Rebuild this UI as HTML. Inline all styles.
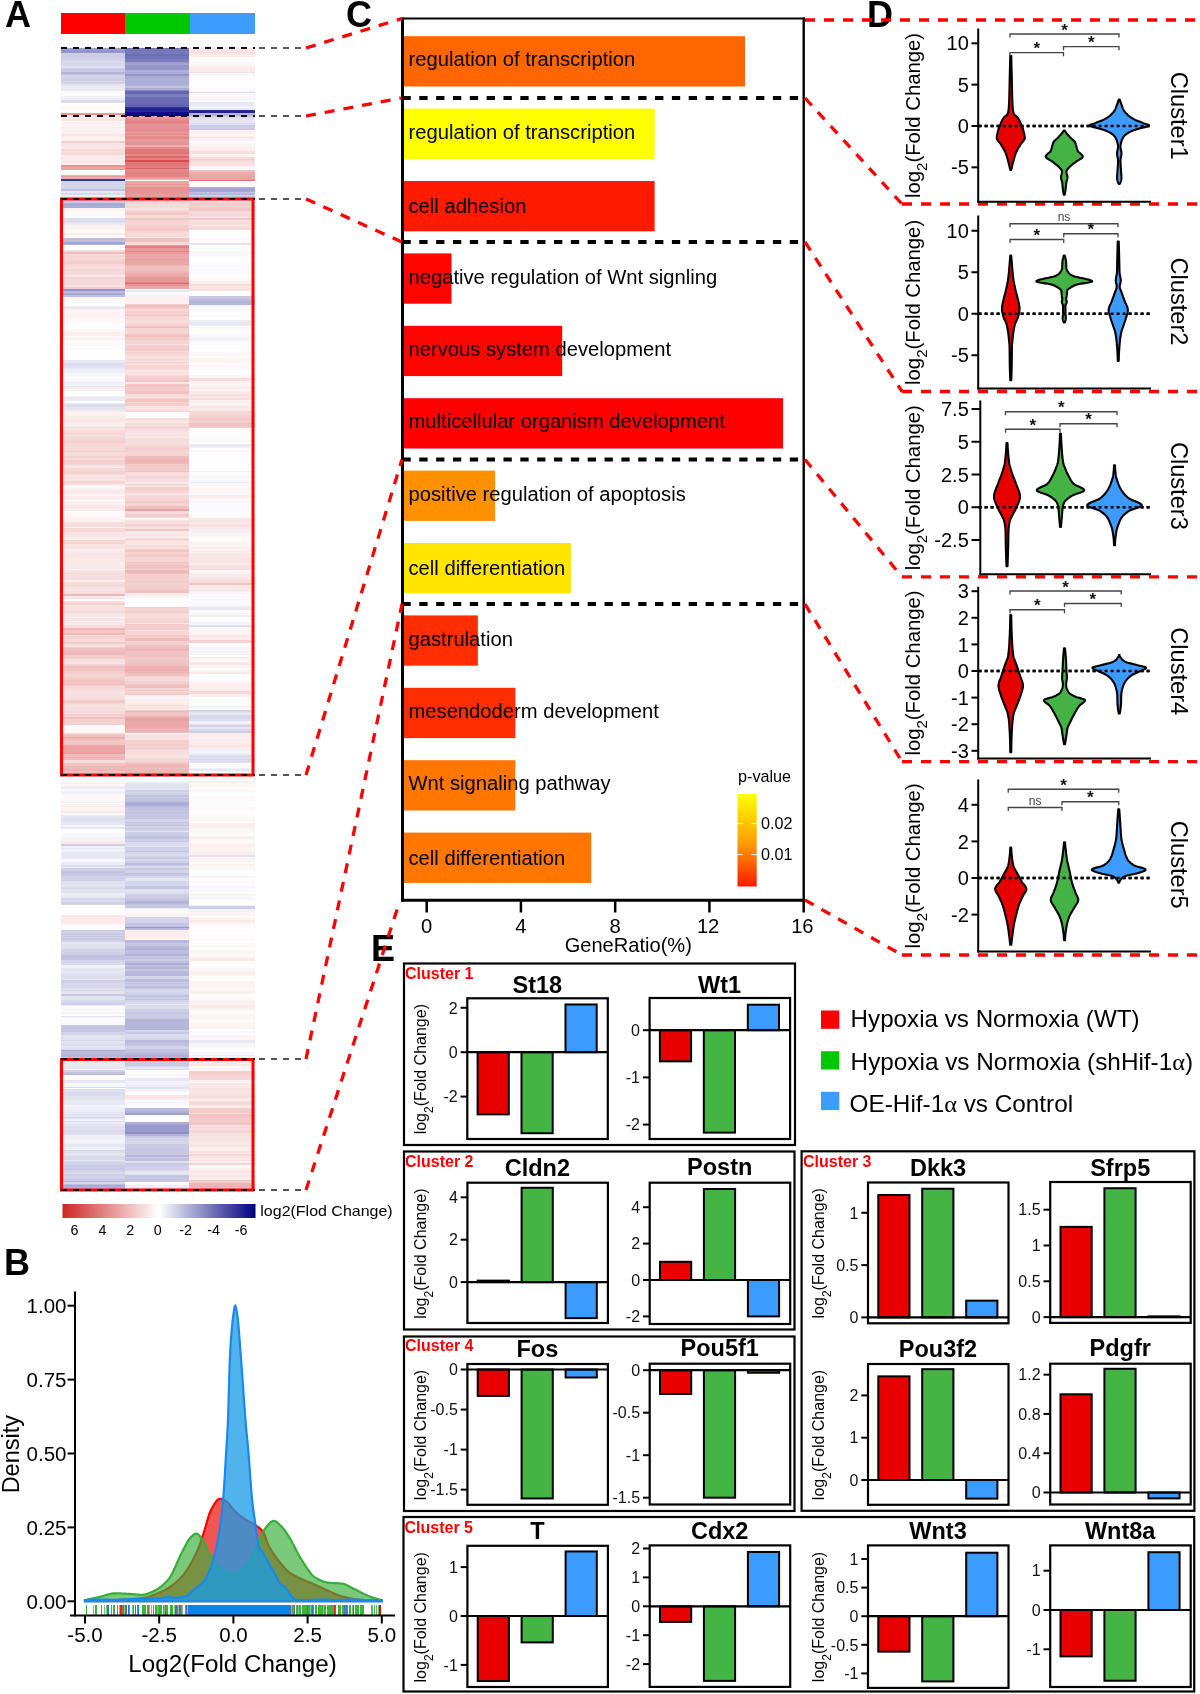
<!DOCTYPE html>
<html><head><meta charset="utf-8"><style>
html,body{margin:0;padding:0;background:#fff;}
svg{display:block;font-family:"Liberation Sans",sans-serif;will-change:transform;}
</style></head><body>
<svg width="1200" height="1694" viewBox="0 0 1200 1694">
<rect width="1200" height="1694" fill="#fff"/>
<g shape-rendering="crispEdges">
<rect x="61" y="48" width="64" height="2" fill="#9f9fcf"/>
<rect x="61" y="50" width="64" height="3" fill="#9595ca"/>
<rect x="61" y="53" width="64" height="3" fill="#cccce6"/>
<rect x="61" y="56" width="64" height="2" fill="#cbcbe5"/>
<rect x="61" y="58" width="64" height="1" fill="#d0d0e7"/>
<rect x="61" y="59" width="64" height="1" fill="#cfcfe7"/>
<rect x="61" y="60" width="64" height="2" fill="#d6d6ea"/>
<rect x="61" y="62" width="64" height="1" fill="#dadaed"/>
<rect x="61" y="63" width="64" height="1" fill="#d4d4ea"/>
<rect x="61" y="64" width="64" height="2" fill="#d8d8ec"/>
<rect x="61" y="66" width="64" height="1" fill="#dfdfef"/>
<rect x="61" y="67" width="64" height="1" fill="#e1e1f0"/>
<rect x="61" y="68" width="64" height="1" fill="#cdcde6"/>
<rect x="61" y="69" width="64" height="3" fill="#c8c8e4"/>
<rect x="61" y="72" width="64" height="2" fill="#b4b4da"/>
<rect x="61" y="74" width="64" height="1" fill="#c4c4e2"/>
<rect x="61" y="75" width="64" height="1" fill="#d0d0e8"/>
<rect x="61" y="76" width="64" height="2" fill="#d4d4ea"/>
<rect x="61" y="78" width="64" height="2" fill="#cfcfe7"/>
<rect x="61" y="80" width="64" height="1" fill="#cdcde6"/>
<rect x="61" y="81" width="64" height="1" fill="#d8d8ec"/>
<rect x="61" y="82" width="64" height="1" fill="#d0d0e8"/>
<rect x="61" y="83" width="64" height="1" fill="#d5d5ea"/>
<rect x="61" y="84" width="64" height="2" fill="#e4e4f1"/>
<rect x="61" y="86" width="64" height="3" fill="#eaeaf4"/>
<rect x="61" y="89" width="64" height="2" fill="#e9e9f4"/>
<rect x="61" y="91" width="64" height="1" fill="#f9f9fc"/>
<rect x="61" y="92" width="64" height="2" fill="#fafafd"/>
<rect x="61" y="94" width="64" height="2" fill="#fdfdfe"/>
<rect x="61" y="96" width="64" height="2" fill="#f2f2f9"/>
<rect x="61" y="98" width="64" height="1" fill="#ececf5"/>
<rect x="61" y="99" width="64" height="1" fill="#eeeef6"/>
<rect x="61" y="100" width="64" height="2" fill="#dbdbed"/>
<rect x="61" y="102" width="64" height="1" fill="#dedeee"/>
<rect x="61" y="103" width="64" height="3" fill="#fffefe"/>
<rect x="61" y="106" width="64" height="2" fill="#fef9f9"/>
<rect x="61" y="108" width="64" height="1" fill="#fef9f9"/>
<rect x="61" y="109" width="64" height="1" fill="#fefbfb"/>
<rect x="61" y="110" width="64" height="3" fill="#fefbfb"/>
<rect x="61" y="113" width="64" height="2" fill="#e79595"/>
<rect x="61" y="115" width="64" height="3" fill="#f9e7e7"/>
<rect x="61" y="118" width="64" height="3" fill="#f9e5e5"/>
<rect x="61" y="121" width="64" height="1" fill="#fdf7f7"/>
<rect x="61" y="122" width="64" height="3" fill="#fbefef"/>
<rect x="61" y="125" width="64" height="2" fill="#fdf5f5"/>
<rect x="61" y="127" width="64" height="1" fill="#fbecec"/>
<rect x="61" y="128" width="64" height="1" fill="#fbf0f0"/>
<rect x="61" y="129" width="64" height="1" fill="#f6f6fb"/>
<rect x="61" y="130" width="64" height="2" fill="#fbefef"/>
<rect x="61" y="132" width="64" height="2" fill="#fcf0f0"/>
<rect x="61" y="134" width="64" height="2" fill="#f9e4e4"/>
<rect x="61" y="136" width="64" height="1" fill="#faeaea"/>
<rect x="61" y="137" width="64" height="2" fill="#fcf2f2"/>
<rect x="61" y="139" width="64" height="2" fill="#fbefef"/>
<rect x="61" y="141" width="64" height="2" fill="#f4cfcf"/>
<rect x="61" y="143" width="64" height="3" fill="#f9e4e4"/>
<rect x="61" y="146" width="64" height="3" fill="#f9e6e6"/>
<rect x="61" y="149" width="64" height="2" fill="#f6d8d8"/>
<rect x="61" y="151" width="64" height="1" fill="#f8dfdf"/>
<rect x="61" y="152" width="64" height="3" fill="#f7dbdb"/>
<rect x="61" y="155" width="64" height="1" fill="#fae8e8"/>
<rect x="61" y="156" width="64" height="1" fill="#fbeeee"/>
<rect x="61" y="157" width="64" height="2" fill="#fae9e9"/>
<rect x="61" y="159" width="64" height="2" fill="#faebeb"/>
<rect x="61" y="161" width="64" height="1" fill="#f9e4e4"/>
<rect x="61" y="162" width="64" height="3" fill="#fbecec"/>
<rect x="61" y="165" width="64" height="2" fill="#e69393"/>
<rect x="61" y="167" width="64" height="2" fill="#eaa5a5"/>
<rect x="61" y="169" width="64" height="1" fill="#e89c9c"/>
<rect x="61" y="170" width="64" height="3" fill="#fffdfd"/>
<rect x="61" y="173" width="64" height="2" fill="#fdf8f8"/>
<rect x="61" y="175" width="64" height="1" fill="#edb1b1"/>
<rect x="61" y="176" width="64" height="1" fill="#e89d9d"/>
<rect x="61" y="177" width="64" height="2" fill="#ecacac"/>
<rect x="61" y="179" width="64" height="2" fill="#38389c"/>
<rect x="61" y="181" width="64" height="2" fill="#d3d3e9"/>
<rect x="61" y="183" width="64" height="1" fill="#d5d5ea"/>
<rect x="61" y="184" width="64" height="1" fill="#d1d1e8"/>
<rect x="61" y="185" width="64" height="2" fill="#d7d7eb"/>
<rect x="61" y="187" width="64" height="2" fill="#d3d3e9"/>
<rect x="61" y="189" width="64" height="2" fill="#bfbfdf"/>
<rect x="61" y="191" width="64" height="1" fill="#e6e6f3"/>
<rect x="61" y="192" width="64" height="1" fill="#e5e5f2"/>
<rect x="61" y="193" width="64" height="2" fill="#dbdbed"/>
<rect x="61" y="195" width="64" height="3" fill="#faebeb"/>
<rect x="61" y="198" width="64" height="1" fill="#f8e0e0"/>
<rect x="61" y="199" width="64" height="2" fill="#d9d9ec"/>
<rect x="61" y="201" width="64" height="2" fill="#c9c9e4"/>
<rect x="61" y="203" width="64" height="3" fill="#a9a9d4"/>
<rect x="61" y="206" width="64" height="2" fill="#acacd6"/>
<rect x="61" y="208" width="64" height="3" fill="#fcf1f1"/>
<rect x="61" y="211" width="64" height="2" fill="#fdf8f8"/>
<rect x="61" y="213" width="64" height="1" fill="#fcfcfd"/>
<rect x="61" y="214" width="64" height="3" fill="#f9f9fc"/>
<rect x="61" y="217" width="64" height="1" fill="#fcfcfe"/>
<rect x="61" y="218" width="64" height="1" fill="#dcdcee"/>
<rect x="61" y="219" width="64" height="3" fill="#dbdbed"/>
<rect x="61" y="222" width="64" height="1" fill="#ddddee"/>
<rect x="61" y="223" width="64" height="2" fill="#eaeaf5"/>
<rect x="61" y="225" width="64" height="2" fill="#fcf1f1"/>
<rect x="61" y="227" width="64" height="3" fill="#fcf0f0"/>
<rect x="61" y="230" width="64" height="3" fill="#fefafa"/>
<rect x="61" y="233" width="64" height="2" fill="#faebeb"/>
<rect x="61" y="235" width="64" height="2" fill="#fdf6f6"/>
<rect x="61" y="237" width="64" height="1" fill="#fefbfb"/>
<rect x="61" y="238" width="64" height="2" fill="#b9b9dc"/>
<rect x="61" y="240" width="64" height="2" fill="#bdbdde"/>
<rect x="61" y="242" width="64" height="2" fill="#a2a2d1"/>
<rect x="61" y="244" width="64" height="1" fill="#b2b2d9"/>
<rect x="61" y="245" width="64" height="2" fill="#fefefe"/>
<rect x="61" y="247" width="64" height="1" fill="#fefbfb"/>
<rect x="61" y="248" width="64" height="2" fill="#fffdfd"/>
<rect x="61" y="250" width="64" height="2" fill="#f6d9d9"/>
<rect x="61" y="252" width="64" height="2" fill="#f0bdbd"/>
<rect x="61" y="254" width="64" height="1" fill="#f8dfdf"/>
<rect x="61" y="255" width="64" height="1" fill="#f5d6d6"/>
<rect x="61" y="256" width="64" height="1" fill="#f5d3d3"/>
<rect x="61" y="257" width="64" height="1" fill="#f6d7d7"/>
<rect x="61" y="258" width="64" height="1" fill="#f6d8d8"/>
<rect x="61" y="259" width="64" height="2" fill="#f5d4d4"/>
<rect x="61" y="261" width="64" height="3" fill="#f3cdcd"/>
<rect x="61" y="264" width="64" height="1" fill="#f6d7d7"/>
<rect x="61" y="265" width="64" height="1" fill="#f7dbdb"/>
<rect x="61" y="266" width="64" height="1" fill="#f6d9d9"/>
<rect x="61" y="267" width="64" height="1" fill="#f7dede"/>
<rect x="61" y="268" width="64" height="1" fill="#f8e0e0"/>
<rect x="61" y="269" width="64" height="2" fill="#f5d5d5"/>
<rect x="61" y="271" width="64" height="3" fill="#f6d7d7"/>
<rect x="61" y="274" width="64" height="1" fill="#f7dddd"/>
<rect x="61" y="275" width="64" height="2" fill="#fae7e7"/>
<rect x="61" y="277" width="64" height="1" fill="#f5d3d3"/>
<rect x="61" y="278" width="64" height="1" fill="#f6d7d7"/>
<rect x="61" y="279" width="64" height="3" fill="#f6d8d8"/>
<rect x="61" y="282" width="64" height="2" fill="#f7dbdb"/>
<rect x="61" y="284" width="64" height="1" fill="#f6d8d8"/>
<rect x="61" y="285" width="64" height="2" fill="#f8e1e1"/>
<rect x="61" y="287" width="64" height="2" fill="#f3cdcd"/>
<rect x="61" y="289" width="64" height="2" fill="#9393c9"/>
<rect x="61" y="291" width="64" height="2" fill="#babadd"/>
<rect x="61" y="293" width="64" height="1" fill="#afafd7"/>
<rect x="61" y="294" width="64" height="1" fill="#a1a1d0"/>
<rect x="61" y="295" width="64" height="1" fill="#c4c4e2"/>
<rect x="61" y="296" width="64" height="1" fill="#bcbcdd"/>
<rect x="61" y="297" width="64" height="2" fill="#fdf5f5"/>
<rect x="61" y="299" width="64" height="2" fill="#fdf8f8"/>
<rect x="61" y="301" width="64" height="1" fill="#fffdfd"/>
<rect x="61" y="302" width="64" height="2" fill="#fef9f9"/>
<rect x="61" y="304" width="64" height="2" fill="#fdfdfe"/>
<rect x="61" y="306" width="64" height="1" fill="#ededf6"/>
<rect x="61" y="307" width="64" height="2" fill="#e7e7f3"/>
<rect x="61" y="309" width="64" height="1" fill="#fcf2f2"/>
<rect x="61" y="310" width="64" height="1" fill="#fcf3f3"/>
<rect x="61" y="311" width="64" height="3" fill="#fcf3f3"/>
<rect x="61" y="314" width="64" height="1" fill="#fcf4f4"/>
<rect x="61" y="315" width="64" height="3" fill="#fcf2f2"/>
<rect x="61" y="318" width="64" height="3" fill="#fdf7f7"/>
<rect x="61" y="321" width="64" height="2" fill="#fdf8f8"/>
<rect x="61" y="323" width="64" height="3" fill="#ffffff"/>
<rect x="61" y="326" width="64" height="1" fill="#fdf6f6"/>
<rect x="61" y="327" width="64" height="2" fill="#fdfdfe"/>
<rect x="61" y="329" width="64" height="3" fill="#fdf6f6"/>
<rect x="61" y="332" width="64" height="1" fill="#fbefef"/>
<rect x="61" y="333" width="64" height="3" fill="#fbeeee"/>
<rect x="61" y="336" width="64" height="1" fill="#fefcfc"/>
<rect x="61" y="337" width="64" height="1" fill="#fdf5f5"/>
<rect x="61" y="338" width="64" height="2" fill="#fcf0f0"/>
<rect x="61" y="340" width="64" height="1" fill="#fefafa"/>
<rect x="61" y="341" width="64" height="1" fill="#fefefe"/>
<rect x="61" y="342" width="64" height="1" fill="#fefcfc"/>
<rect x="61" y="343" width="64" height="3" fill="#fbfbfd"/>
<rect x="61" y="346" width="64" height="2" fill="#fffdfd"/>
<rect x="61" y="348" width="64" height="1" fill="#fdf7f7"/>
<rect x="61" y="349" width="64" height="2" fill="#fdfdfe"/>
<rect x="61" y="351" width="64" height="2" fill="#fffdfd"/>
<rect x="61" y="353" width="64" height="3" fill="#ffffff"/>
<rect x="61" y="356" width="64" height="2" fill="#fefeff"/>
<rect x="61" y="358" width="64" height="2" fill="#fefeff"/>
<rect x="61" y="360" width="64" height="2" fill="#e8e8f4"/>
<rect x="61" y="362" width="64" height="1" fill="#e7e7f3"/>
<rect x="61" y="363" width="64" height="3" fill="#dedeef"/>
<rect x="61" y="366" width="64" height="2" fill="#e1e1f0"/>
<rect x="61" y="368" width="64" height="1" fill="#e8e8f4"/>
<rect x="61" y="369" width="64" height="1" fill="#ededf6"/>
<rect x="61" y="370" width="64" height="3" fill="#eeeef6"/>
<rect x="61" y="373" width="64" height="2" fill="#f7f7fb"/>
<rect x="61" y="375" width="64" height="1" fill="#f4f4fa"/>
<rect x="61" y="376" width="64" height="1" fill="#f9f9fc"/>
<rect x="61" y="377" width="64" height="1" fill="#fefeff"/>
<rect x="61" y="378" width="64" height="2" fill="#f8f8fb"/>
<rect x="61" y="380" width="64" height="2" fill="#f6f6fa"/>
<rect x="61" y="382" width="64" height="2" fill="#eeeef6"/>
<rect x="61" y="384" width="64" height="2" fill="#f1f1f8"/>
<rect x="61" y="386" width="64" height="1" fill="#e8e8f3"/>
<rect x="61" y="387" width="64" height="2" fill="#fbecec"/>
<rect x="61" y="389" width="64" height="1" fill="#fdf7f7"/>
<rect x="61" y="390" width="64" height="1" fill="#eeeef7"/>
<rect x="61" y="391" width="64" height="3" fill="#fffefe"/>
<rect x="61" y="394" width="64" height="1" fill="#fefdfd"/>
<rect x="61" y="395" width="64" height="1" fill="#fdfdfe"/>
<rect x="61" y="396" width="64" height="1" fill="#f0f0f8"/>
<rect x="61" y="397" width="64" height="2" fill="#e9e9f4"/>
<rect x="61" y="399" width="64" height="2" fill="#eaeaf5"/>
<rect x="61" y="401" width="64" height="2" fill="#fdfdfe"/>
<rect x="61" y="403" width="64" height="1" fill="#ececf5"/>
<rect x="61" y="404" width="64" height="1" fill="#dedeef"/>
<rect x="61" y="405" width="64" height="2" fill="#dadaed"/>
<rect x="61" y="407" width="64" height="3" fill="#e3e3f1"/>
<rect x="61" y="410" width="64" height="2" fill="#faeaea"/>
<rect x="61" y="412" width="64" height="2" fill="#fcf2f2"/>
<rect x="61" y="414" width="64" height="2" fill="#fbefef"/>
<rect x="61" y="416" width="64" height="1" fill="#fae9e9"/>
<rect x="61" y="417" width="64" height="3" fill="#fae9e9"/>
<rect x="61" y="420" width="64" height="2" fill="#f9e5e5"/>
<rect x="61" y="422" width="64" height="1" fill="#faeaea"/>
<rect x="61" y="423" width="64" height="1" fill="#fbefef"/>
<rect x="61" y="424" width="64" height="2" fill="#fbeeee"/>
<rect x="61" y="426" width="64" height="1" fill="#f9e6e6"/>
<rect x="61" y="427" width="64" height="2" fill="#f8e2e2"/>
<rect x="61" y="429" width="64" height="1" fill="#f9e6e6"/>
<rect x="61" y="430" width="64" height="2" fill="#f8dfdf"/>
<rect x="61" y="432" width="64" height="2" fill="#f6d8d8"/>
<rect x="61" y="434" width="64" height="1" fill="#f5d4d4"/>
<rect x="61" y="435" width="64" height="1" fill="#f8e2e2"/>
<rect x="61" y="436" width="64" height="2" fill="#f6d9d9"/>
<rect x="61" y="438" width="64" height="1" fill="#f6d6d6"/>
<rect x="61" y="439" width="64" height="2" fill="#f5d4d4"/>
<rect x="61" y="441" width="64" height="2" fill="#f4d0d0"/>
<rect x="61" y="443" width="64" height="3" fill="#f6d7d7"/>
<rect x="61" y="446" width="64" height="2" fill="#f7dada"/>
<rect x="61" y="448" width="64" height="3" fill="#f6d9d9"/>
<rect x="61" y="451" width="64" height="1" fill="#f4cfcf"/>
<rect x="61" y="452" width="64" height="2" fill="#f7dbdb"/>
<rect x="61" y="454" width="64" height="1" fill="#f6d8d8"/>
<rect x="61" y="455" width="64" height="1" fill="#f7dbdb"/>
<rect x="61" y="456" width="64" height="2" fill="#f5d2d2"/>
<rect x="61" y="458" width="64" height="2" fill="#f7dada"/>
<rect x="61" y="460" width="64" height="1" fill="#f4cdcd"/>
<rect x="61" y="461" width="64" height="1" fill="#f3cdcd"/>
<rect x="61" y="462" width="64" height="1" fill="#f4d1d1"/>
<rect x="61" y="463" width="64" height="2" fill="#f5d3d3"/>
<rect x="61" y="465" width="64" height="2" fill="#f8e0e0"/>
<rect x="61" y="467" width="64" height="1" fill="#faebeb"/>
<rect x="61" y="468" width="64" height="1" fill="#f5d5d5"/>
<rect x="61" y="469" width="64" height="1" fill="#f6d9d9"/>
<rect x="61" y="470" width="64" height="2" fill="#f5d3d3"/>
<rect x="61" y="472" width="64" height="2" fill="#f4d1d1"/>
<rect x="61" y="474" width="64" height="1" fill="#f6d8d8"/>
<rect x="61" y="475" width="64" height="2" fill="#f9e5e5"/>
<rect x="61" y="477" width="64" height="2" fill="#f8e0e0"/>
<rect x="61" y="479" width="64" height="1" fill="#f9e7e7"/>
<rect x="61" y="480" width="64" height="1" fill="#f8e0e0"/>
<rect x="61" y="481" width="64" height="2" fill="#f6d6d6"/>
<rect x="61" y="483" width="64" height="2" fill="#f7dcdc"/>
<rect x="61" y="485" width="64" height="2" fill="#fdf6f6"/>
<rect x="61" y="487" width="64" height="1" fill="#fcf0f0"/>
<rect x="61" y="488" width="64" height="1" fill="#f3f3f9"/>
<rect x="61" y="489" width="64" height="1" fill="#fbefef"/>
<rect x="61" y="490" width="64" height="2" fill="#fae9e9"/>
<rect x="61" y="492" width="64" height="1" fill="#f9e7e7"/>
<rect x="61" y="493" width="64" height="2" fill="#fbeeee"/>
<rect x="61" y="495" width="64" height="1" fill="#fdf8f8"/>
<rect x="61" y="496" width="64" height="2" fill="#fbecec"/>
<rect x="61" y="498" width="64" height="1" fill="#faeaea"/>
<rect x="61" y="499" width="64" height="1" fill="#fbefef"/>
<rect x="61" y="500" width="64" height="1" fill="#fefbfb"/>
<rect x="61" y="501" width="64" height="2" fill="#fcf0f0"/>
<rect x="61" y="503" width="64" height="2" fill="#fbefef"/>
<rect x="61" y="505" width="64" height="2" fill="#fae9e9"/>
<rect x="61" y="507" width="64" height="2" fill="#f9e7e7"/>
<rect x="61" y="509" width="64" height="2" fill="#faebeb"/>
<rect x="61" y="511" width="64" height="1" fill="#fefcfc"/>
<rect x="61" y="512" width="64" height="1" fill="#fdf7f7"/>
<rect x="61" y="513" width="64" height="3" fill="#fef9f9"/>
<rect x="61" y="516" width="64" height="3" fill="#fcf3f3"/>
<rect x="61" y="519" width="64" height="2" fill="#fbefef"/>
<rect x="61" y="521" width="64" height="1" fill="#fdf4f4"/>
<rect x="61" y="522" width="64" height="1" fill="#f7dcdc"/>
<rect x="61" y="523" width="64" height="2" fill="#f7dede"/>
<rect x="61" y="525" width="64" height="2" fill="#f7dcdc"/>
<rect x="61" y="527" width="64" height="1" fill="#fcf0f0"/>
<rect x="61" y="528" width="64" height="1" fill="#f6d8d8"/>
<rect x="61" y="529" width="64" height="1" fill="#f7dbdb"/>
<rect x="61" y="530" width="64" height="2" fill="#f6d9d9"/>
<rect x="61" y="532" width="64" height="3" fill="#f9e4e4"/>
<rect x="61" y="535" width="64" height="1" fill="#fae7e7"/>
<rect x="61" y="536" width="64" height="1" fill="#f8e3e3"/>
<rect x="61" y="537" width="64" height="3" fill="#fbeded"/>
<rect x="61" y="540" width="64" height="1" fill="#f5d5d5"/>
<rect x="61" y="541" width="64" height="1" fill="#f6d8d8"/>
<rect x="61" y="542" width="64" height="2" fill="#f5d4d4"/>
<rect x="61" y="544" width="64" height="1" fill="#f9e4e4"/>
<rect x="61" y="545" width="64" height="3" fill="#f9e4e4"/>
<rect x="61" y="548" width="64" height="1" fill="#f9e5e5"/>
<rect x="61" y="549" width="64" height="2" fill="#fbeded"/>
<rect x="61" y="551" width="64" height="2" fill="#faeaea"/>
<rect x="61" y="553" width="64" height="1" fill="#f9e4e4"/>
<rect x="61" y="554" width="64" height="3" fill="#f9e5e5"/>
<rect x="61" y="557" width="64" height="1" fill="#f9e4e4"/>
<rect x="61" y="558" width="64" height="1" fill="#fae8e8"/>
<rect x="61" y="559" width="64" height="1" fill="#fbecec"/>
<rect x="61" y="560" width="64" height="2" fill="#f9e6e6"/>
<rect x="61" y="562" width="64" height="2" fill="#faebeb"/>
<rect x="61" y="564" width="64" height="2" fill="#faeaea"/>
<rect x="61" y="566" width="64" height="3" fill="#fae7e7"/>
<rect x="61" y="569" width="64" height="1" fill="#fcf3f3"/>
<rect x="61" y="570" width="64" height="2" fill="#f9e4e4"/>
<rect x="61" y="572" width="64" height="1" fill="#f7dede"/>
<rect x="61" y="573" width="64" height="1" fill="#f7dcdc"/>
<rect x="61" y="574" width="64" height="2" fill="#f7dede"/>
<rect x="61" y="576" width="64" height="3" fill="#f7dede"/>
<rect x="61" y="579" width="64" height="1" fill="#f7dddd"/>
<rect x="61" y="580" width="64" height="2" fill="#fbefef"/>
<rect x="61" y="582" width="64" height="2" fill="#f7dbdb"/>
<rect x="61" y="584" width="64" height="2" fill="#f6dada"/>
<rect x="61" y="586" width="64" height="1" fill="#f6d6d6"/>
<rect x="61" y="587" width="64" height="3" fill="#f9e4e4"/>
<rect x="61" y="590" width="64" height="1" fill="#f9e5e5"/>
<rect x="61" y="591" width="64" height="2" fill="#f7dddd"/>
<rect x="61" y="593" width="64" height="1" fill="#f8e0e0"/>
<rect x="61" y="594" width="64" height="2" fill="#eeb7b7"/>
<rect x="61" y="596" width="64" height="2" fill="#fbeded"/>
<rect x="61" y="598" width="64" height="1" fill="#f7dede"/>
<rect x="61" y="599" width="64" height="2" fill="#fffdfd"/>
<rect x="61" y="601" width="64" height="2" fill="#f7dddd"/>
<rect x="61" y="603" width="64" height="2" fill="#f4cfcf"/>
<rect x="61" y="605" width="64" height="2" fill="#f8e3e3"/>
<rect x="61" y="607" width="64" height="3" fill="#f8e1e1"/>
<rect x="61" y="610" width="64" height="1" fill="#f8dfdf"/>
<rect x="61" y="611" width="64" height="1" fill="#f6d8d8"/>
<rect x="61" y="612" width="64" height="2" fill="#f7dede"/>
<rect x="61" y="614" width="64" height="3" fill="#f9e6e6"/>
<rect x="61" y="617" width="64" height="1" fill="#fdf5f5"/>
<rect x="61" y="618" width="64" height="3" fill="#f9e5e5"/>
<rect x="61" y="621" width="64" height="1" fill="#fcf1f1"/>
<rect x="61" y="622" width="64" height="3" fill="#fae7e7"/>
<rect x="61" y="625" width="64" height="1" fill="#f8dfdf"/>
<rect x="61" y="626" width="64" height="2" fill="#f6dada"/>
<rect x="61" y="628" width="64" height="2" fill="#eeb6b6"/>
<rect x="61" y="630" width="64" height="3" fill="#f2c8c8"/>
<rect x="61" y="633" width="64" height="2" fill="#efb8b8"/>
<rect x="61" y="635" width="64" height="1" fill="#f8dfdf"/>
<rect x="61" y="636" width="64" height="2" fill="#f5d2d2"/>
<rect x="61" y="638" width="64" height="1" fill="#f6d8d8"/>
<rect x="61" y="639" width="64" height="3" fill="#f7dbdb"/>
<rect x="61" y="642" width="64" height="2" fill="#f3cdcd"/>
<rect x="61" y="644" width="64" height="1" fill="#f7dcdc"/>
<rect x="61" y="645" width="64" height="2" fill="#f8e1e1"/>
<rect x="61" y="647" width="64" height="1" fill="#f3cdcd"/>
<rect x="61" y="648" width="64" height="1" fill="#f0c0c0"/>
<rect x="61" y="649" width="64" height="3" fill="#f0bebe"/>
<rect x="61" y="652" width="64" height="3" fill="#efb9b9"/>
<rect x="61" y="655" width="64" height="1" fill="#f3caca"/>
<rect x="61" y="656" width="64" height="3" fill="#f3cdcd"/>
<rect x="61" y="659" width="64" height="2" fill="#f7dede"/>
<rect x="61" y="661" width="64" height="1" fill="#f7dddd"/>
<rect x="61" y="662" width="64" height="2" fill="#f9e5e5"/>
<rect x="61" y="664" width="64" height="2" fill="#f4d1d1"/>
<rect x="61" y="666" width="64" height="2" fill="#f0bfbf"/>
<rect x="61" y="668" width="64" height="3" fill="#f1c4c4"/>
<rect x="61" y="671" width="64" height="3" fill="#f4cece"/>
<rect x="61" y="674" width="64" height="2" fill="#f5d5d5"/>
<rect x="61" y="676" width="64" height="2" fill="#f5d2d2"/>
<rect x="61" y="678" width="64" height="2" fill="#f3cccc"/>
<rect x="61" y="680" width="64" height="3" fill="#f1c3c3"/>
<rect x="61" y="683" width="64" height="2" fill="#f1c1c1"/>
<rect x="61" y="685" width="64" height="1" fill="#f3cccc"/>
<rect x="61" y="686" width="64" height="3" fill="#f6d6d6"/>
<rect x="61" y="689" width="64" height="2" fill="#f7dddd"/>
<rect x="61" y="691" width="64" height="2" fill="#f8e2e2"/>
<rect x="61" y="693" width="64" height="2" fill="#f8e1e1"/>
<rect x="61" y="695" width="64" height="3" fill="#f7dddd"/>
<rect x="61" y="698" width="64" height="2" fill="#f7dddd"/>
<rect x="61" y="700" width="64" height="3" fill="#f3caca"/>
<rect x="61" y="703" width="64" height="1" fill="#f6d7d7"/>
<rect x="61" y="704" width="64" height="2" fill="#f7dede"/>
<rect x="61" y="706" width="64" height="1" fill="#f8e1e1"/>
<rect x="61" y="707" width="64" height="1" fill="#f8dfdf"/>
<rect x="61" y="708" width="64" height="2" fill="#f7dede"/>
<rect x="61" y="710" width="64" height="1" fill="#f7dddd"/>
<rect x="61" y="711" width="64" height="2" fill="#f6d8d8"/>
<rect x="61" y="713" width="64" height="1" fill="#f8e0e0"/>
<rect x="61" y="714" width="64" height="1" fill="#f3cbcb"/>
<rect x="61" y="715" width="64" height="1" fill="#f4cfcf"/>
<rect x="61" y="716" width="64" height="1" fill="#f6d8d8"/>
<rect x="61" y="717" width="64" height="2" fill="#f0bfbf"/>
<rect x="61" y="719" width="64" height="3" fill="#f4d1d1"/>
<rect x="61" y="722" width="64" height="3" fill="#f4d0d0"/>
<rect x="61" y="725" width="64" height="1" fill="#fdf7f7"/>
<rect x="61" y="726" width="64" height="1" fill="#fef9f9"/>
<rect x="61" y="727" width="64" height="1" fill="#fcfcfd"/>
<rect x="61" y="728" width="64" height="1" fill="#fefcfc"/>
<rect x="61" y="729" width="64" height="2" fill="#fdf8f8"/>
<rect x="61" y="731" width="64" height="1" fill="#fdf7f7"/>
<rect x="61" y="732" width="64" height="1" fill="#fdf4f4"/>
<rect x="61" y="733" width="64" height="1" fill="#f6d7d7"/>
<rect x="61" y="734" width="64" height="1" fill="#f3cccc"/>
<rect x="61" y="735" width="64" height="2" fill="#f0bfbf"/>
<rect x="61" y="737" width="64" height="1" fill="#eba9a9"/>
<rect x="61" y="738" width="64" height="2" fill="#efb9b9"/>
<rect x="61" y="740" width="64" height="2" fill="#f2c8c8"/>
<rect x="61" y="742" width="64" height="3" fill="#f1c3c3"/>
<rect x="61" y="745" width="64" height="1" fill="#ebaaaa"/>
<rect x="61" y="746" width="64" height="3" fill="#eaa3a3"/>
<rect x="61" y="749" width="64" height="1" fill="#eba7a7"/>
<rect x="61" y="750" width="64" height="2" fill="#eaa6a6"/>
<rect x="61" y="752" width="64" height="2" fill="#e99f9f"/>
<rect x="61" y="754" width="64" height="3" fill="#efbaba"/>
<rect x="61" y="757" width="64" height="1" fill="#edb1b1"/>
<rect x="61" y="758" width="64" height="1" fill="#efb9b9"/>
<rect x="61" y="759" width="64" height="1" fill="#efb8b8"/>
<rect x="61" y="760" width="64" height="3" fill="#f7dede"/>
<rect x="61" y="763" width="64" height="1" fill="#f2c5c5"/>
<rect x="61" y="764" width="64" height="1" fill="#f1c4c4"/>
<rect x="61" y="765" width="64" height="1" fill="#f2c5c5"/>
<rect x="61" y="766" width="64" height="1" fill="#eeb7b7"/>
<rect x="61" y="767" width="64" height="3" fill="#eeb6b6"/>
<rect x="61" y="770" width="64" height="1" fill="#ecaeae"/>
<rect x="61" y="771" width="64" height="2" fill="#f1c1c1"/>
<rect x="61" y="773" width="64" height="1" fill="#f1c0c0"/>
<rect x="61" y="774" width="64" height="1" fill="#f0bebe"/>
<rect x="61" y="775" width="64" height="2" fill="#fefbfb"/>
<rect x="61" y="777" width="64" height="1" fill="#fef9f9"/>
<rect x="61" y="778" width="64" height="2" fill="#fefbfb"/>
<rect x="61" y="780" width="64" height="2" fill="#fef9f9"/>
<rect x="61" y="782" width="64" height="2" fill="#fbefef"/>
<rect x="61" y="784" width="64" height="2" fill="#fef9f9"/>
<rect x="61" y="786" width="64" height="3" fill="#ededf6"/>
<rect x="61" y="789" width="64" height="1" fill="#f7f7fb"/>
<rect x="61" y="790" width="64" height="1" fill="#fafafc"/>
<rect x="61" y="791" width="64" height="2" fill="#efeff7"/>
<rect x="61" y="793" width="64" height="1" fill="#f2f2f8"/>
<rect x="61" y="794" width="64" height="1" fill="#fdf5f5"/>
<rect x="61" y="795" width="64" height="1" fill="#fdf6f6"/>
<rect x="61" y="796" width="64" height="3" fill="#fef9f9"/>
<rect x="61" y="799" width="64" height="1" fill="#fefafa"/>
<rect x="61" y="800" width="64" height="2" fill="#fdf5f5"/>
<rect x="61" y="802" width="64" height="1" fill="#efeff7"/>
<rect x="61" y="803" width="64" height="1" fill="#fafafd"/>
<rect x="61" y="804" width="64" height="2" fill="#fcf1f1"/>
<rect x="61" y="806" width="64" height="1" fill="#faebeb"/>
<rect x="61" y="807" width="64" height="1" fill="#fdf5f5"/>
<rect x="61" y="808" width="64" height="3" fill="#fcf2f2"/>
<rect x="61" y="811" width="64" height="2" fill="#faebeb"/>
<rect x="61" y="813" width="64" height="1" fill="#fcf1f1"/>
<rect x="61" y="814" width="64" height="1" fill="#fdf8f8"/>
<rect x="61" y="815" width="64" height="1" fill="#eaeaf5"/>
<rect x="61" y="816" width="64" height="2" fill="#e5e5f2"/>
<rect x="61" y="818" width="64" height="2" fill="#ddddee"/>
<rect x="61" y="820" width="64" height="2" fill="#e1e1f0"/>
<rect x="61" y="822" width="64" height="1" fill="#e5e5f2"/>
<rect x="61" y="823" width="64" height="2" fill="#e5e5f2"/>
<rect x="61" y="825" width="64" height="1" fill="#f7f7fb"/>
<rect x="61" y="826" width="64" height="1" fill="#f2f2f9"/>
<rect x="61" y="827" width="64" height="1" fill="#e6e6f2"/>
<rect x="61" y="828" width="64" height="1" fill="#e9e9f4"/>
<rect x="61" y="829" width="64" height="1" fill="#fefdfd"/>
<rect x="61" y="830" width="64" height="1" fill="#fcfcfe"/>
<rect x="61" y="831" width="64" height="2" fill="#fcfcfe"/>
<rect x="61" y="833" width="64" height="2" fill="#f7f7fb"/>
<rect x="61" y="835" width="64" height="2" fill="#f8f8fc"/>
<rect x="61" y="837" width="64" height="2" fill="#f4f4f9"/>
<rect x="61" y="839" width="64" height="2" fill="#f3f3f9"/>
<rect x="61" y="841" width="64" height="3" fill="#fae9e9"/>
<rect x="61" y="844" width="64" height="2" fill="#cccce5"/>
<rect x="61" y="846" width="64" height="2" fill="#f0f0f7"/>
<rect x="61" y="848" width="64" height="1" fill="#e5e5f2"/>
<rect x="61" y="849" width="64" height="3" fill="#f1f1f8"/>
<rect x="61" y="852" width="64" height="2" fill="#e6e6f3"/>
<rect x="61" y="854" width="64" height="2" fill="#e8e8f3"/>
<rect x="61" y="856" width="64" height="2" fill="#e8e8f4"/>
<rect x="61" y="858" width="64" height="1" fill="#ececf5"/>
<rect x="61" y="859" width="64" height="3" fill="#f7f7fb"/>
<rect x="61" y="862" width="64" height="3" fill="#ebebf5"/>
<rect x="61" y="865" width="64" height="2" fill="#dbdbed"/>
<rect x="61" y="867" width="64" height="1" fill="#ededf6"/>
<rect x="61" y="868" width="64" height="2" fill="#cecee7"/>
<rect x="61" y="870" width="64" height="1" fill="#d1d1e8"/>
<rect x="61" y="871" width="64" height="2" fill="#c1c1e0"/>
<rect x="61" y="873" width="64" height="3" fill="#c8c8e4"/>
<rect x="61" y="876" width="64" height="1" fill="#d4d4ea"/>
<rect x="61" y="877" width="64" height="2" fill="#d0d0e8"/>
<rect x="61" y="879" width="64" height="1" fill="#d6d6ea"/>
<rect x="61" y="880" width="64" height="1" fill="#cecee7"/>
<rect x="61" y="881" width="64" height="3" fill="#e0e0f0"/>
<rect x="61" y="884" width="64" height="1" fill="#e1e1f0"/>
<rect x="61" y="885" width="64" height="1" fill="#eaeaf5"/>
<rect x="61" y="886" width="64" height="2" fill="#ddddee"/>
<rect x="61" y="888" width="64" height="1" fill="#d5d5ea"/>
<rect x="61" y="889" width="64" height="2" fill="#e5e5f2"/>
<rect x="61" y="891" width="64" height="2" fill="#dfdfef"/>
<rect x="61" y="893" width="64" height="1" fill="#ececf5"/>
<rect x="61" y="894" width="64" height="1" fill="#f4f4f9"/>
<rect x="61" y="895" width="64" height="3" fill="#e9e9f4"/>
<rect x="61" y="898" width="64" height="2" fill="#d5d5ea"/>
<rect x="61" y="900" width="64" height="2" fill="#dbdbed"/>
<rect x="61" y="902" width="64" height="2" fill="#d0d0e8"/>
<rect x="61" y="904" width="64" height="1" fill="#d6d6eb"/>
<rect x="61" y="905" width="64" height="2" fill="#ffffff"/>
<rect x="61" y="907" width="64" height="2" fill="#fefbfb"/>
<rect x="61" y="909" width="64" height="1" fill="#fefdfd"/>
<rect x="61" y="910" width="64" height="2" fill="#fefefe"/>
<rect x="61" y="912" width="64" height="2" fill="#ffffff"/>
<rect x="61" y="914" width="64" height="1" fill="#ffffff"/>
<rect x="61" y="915" width="64" height="2" fill="#f9e5e5"/>
<rect x="61" y="917" width="64" height="1" fill="#fbecec"/>
<rect x="61" y="918" width="64" height="1" fill="#faeaea"/>
<rect x="61" y="919" width="64" height="1" fill="#faeaea"/>
<rect x="61" y="920" width="64" height="1" fill="#fbeded"/>
<rect x="61" y="921" width="64" height="1" fill="#fae8e8"/>
<rect x="61" y="922" width="64" height="2" fill="#fbeded"/>
<rect x="61" y="924" width="64" height="1" fill="#fcf3f3"/>
<rect x="61" y="925" width="64" height="1" fill="#f8f8fc"/>
<rect x="61" y="926" width="64" height="3" fill="#fcfcfe"/>
<rect x="61" y="929" width="64" height="1" fill="#f8f8fc"/>
<rect x="61" y="930" width="64" height="2" fill="#cdcde6"/>
<rect x="61" y="932" width="64" height="2" fill="#cecee7"/>
<rect x="61" y="934" width="64" height="1" fill="#c7c7e3"/>
<rect x="61" y="935" width="64" height="1" fill="#d1d1e8"/>
<rect x="61" y="936" width="64" height="1" fill="#c8c8e4"/>
<rect x="61" y="937" width="64" height="1" fill="#d0d0e7"/>
<rect x="61" y="938" width="64" height="2" fill="#c8c8e3"/>
<rect x="61" y="940" width="64" height="2" fill="#d2d2e8"/>
<rect x="61" y="942" width="64" height="2" fill="#e4e4f2"/>
<rect x="61" y="944" width="64" height="2" fill="#e0e0f0"/>
<rect x="61" y="946" width="64" height="1" fill="#e1e1f0"/>
<rect x="61" y="947" width="64" height="2" fill="#dfdfef"/>
<rect x="61" y="949" width="64" height="1" fill="#d2d2e8"/>
<rect x="61" y="950" width="64" height="1" fill="#d5d5ea"/>
<rect x="61" y="951" width="64" height="2" fill="#d1d1e8"/>
<rect x="61" y="953" width="64" height="2" fill="#cecee7"/>
<rect x="61" y="955" width="64" height="3" fill="#bfbfdf"/>
<rect x="61" y="958" width="64" height="2" fill="#c3c3e1"/>
<rect x="61" y="960" width="64" height="3" fill="#d4d4ea"/>
<rect x="61" y="963" width="64" height="2" fill="#d9d9ec"/>
<rect x="61" y="965" width="64" height="3" fill="#f1f1f8"/>
<rect x="61" y="968" width="64" height="1" fill="#e7e7f3"/>
<rect x="61" y="969" width="64" height="1" fill="#e0e0ef"/>
<rect x="61" y="970" width="64" height="3" fill="#e6e6f3"/>
<rect x="61" y="973" width="64" height="1" fill="#e4e4f1"/>
<rect x="61" y="974" width="64" height="2" fill="#dfdfef"/>
<rect x="61" y="976" width="64" height="1" fill="#dbdbed"/>
<rect x="61" y="977" width="64" height="2" fill="#dfdfef"/>
<rect x="61" y="979" width="64" height="1" fill="#e4e4f1"/>
<rect x="61" y="980" width="64" height="3" fill="#cdcde6"/>
<rect x="61" y="983" width="64" height="3" fill="#d7d7eb"/>
<rect x="61" y="986" width="64" height="2" fill="#d7d7eb"/>
<rect x="61" y="988" width="64" height="1" fill="#dfdfef"/>
<rect x="61" y="989" width="64" height="1" fill="#e2e2f1"/>
<rect x="61" y="990" width="64" height="1" fill="#d4d4ea"/>
<rect x="61" y="991" width="64" height="3" fill="#e5e5f2"/>
<rect x="61" y="994" width="64" height="2" fill="#c7c7e3"/>
<rect x="61" y="996" width="64" height="3" fill="#e4e4f1"/>
<rect x="61" y="999" width="64" height="1" fill="#e3e3f1"/>
<rect x="61" y="1000" width="64" height="2" fill="#d7d7eb"/>
<rect x="61" y="1002" width="64" height="1" fill="#d4d4ea"/>
<rect x="61" y="1003" width="64" height="1" fill="#cdcde6"/>
<rect x="61" y="1004" width="64" height="1" fill="#d0d0e8"/>
<rect x="61" y="1005" width="64" height="1" fill="#eaeaf5"/>
<rect x="61" y="1006" width="64" height="2" fill="#fbfbfd"/>
<rect x="61" y="1008" width="64" height="1" fill="#f9f9fc"/>
<rect x="61" y="1009" width="64" height="1" fill="#f8f8fc"/>
<rect x="61" y="1010" width="64" height="1" fill="#f8f8fb"/>
<rect x="61" y="1011" width="64" height="1" fill="#fdfdfe"/>
<rect x="61" y="1012" width="64" height="1" fill="#f6f6fa"/>
<rect x="61" y="1013" width="64" height="1" fill="#f2f2f9"/>
<rect x="61" y="1014" width="64" height="2" fill="#fdfdfe"/>
<rect x="61" y="1016" width="64" height="1" fill="#e0e0ef"/>
<rect x="61" y="1017" width="64" height="2" fill="#f6f6fb"/>
<rect x="61" y="1019" width="64" height="1" fill="#fefafa"/>
<rect x="61" y="1020" width="64" height="2" fill="#fafafc"/>
<rect x="61" y="1022" width="64" height="3" fill="#f6f6fb"/>
<rect x="61" y="1025" width="64" height="1" fill="#c9c9e4"/>
<rect x="61" y="1026" width="64" height="1" fill="#c6c6e3"/>
<rect x="61" y="1027" width="64" height="2" fill="#c4c4e1"/>
<rect x="61" y="1029" width="64" height="3" fill="#c6c6e2"/>
<rect x="61" y="1032" width="64" height="3" fill="#d2d2e9"/>
<rect x="61" y="1035" width="64" height="3" fill="#e1e1f0"/>
<rect x="61" y="1038" width="64" height="2" fill="#e0e0ef"/>
<rect x="61" y="1040" width="64" height="1" fill="#d6d6eb"/>
<rect x="61" y="1041" width="64" height="1" fill="#e5e5f2"/>
<rect x="61" y="1042" width="64" height="2" fill="#e1e1f0"/>
<rect x="61" y="1044" width="64" height="1" fill="#d9d9ec"/>
<rect x="61" y="1045" width="64" height="1" fill="#dcdced"/>
<rect x="61" y="1046" width="64" height="3" fill="#e3e3f1"/>
<rect x="61" y="1049" width="64" height="1" fill="#dadaed"/>
<rect x="61" y="1050" width="64" height="1" fill="#aeaed7"/>
<rect x="61" y="1051" width="64" height="2" fill="#bbbbdd"/>
<rect x="61" y="1053" width="64" height="1" fill="#b9b9dc"/>
<rect x="61" y="1054" width="64" height="1" fill="#babadd"/>
<rect x="61" y="1055" width="64" height="2" fill="#b5b5da"/>
<rect x="61" y="1057" width="64" height="1" fill="#c0c0e0"/>
<rect x="61" y="1058" width="64" height="1" fill="#b8b8db"/>
<rect x="61" y="1059" width="64" height="1" fill="#dedeef"/>
<rect x="61" y="1060" width="64" height="3" fill="#ececf5"/>
<rect x="61" y="1063" width="64" height="3" fill="#e9e9f4"/>
<rect x="61" y="1066" width="64" height="1" fill="#e9e9f4"/>
<rect x="61" y="1067" width="64" height="2" fill="#e5e5f2"/>
<rect x="61" y="1069" width="64" height="1" fill="#f2f2f8"/>
<rect x="61" y="1070" width="64" height="1" fill="#d4d4ea"/>
<rect x="61" y="1071" width="64" height="1" fill="#cfcfe7"/>
<rect x="61" y="1072" width="64" height="2" fill="#c3c3e1"/>
<rect x="61" y="1074" width="64" height="1" fill="#b2b2d9"/>
<rect x="61" y="1075" width="64" height="3" fill="#fffdfd"/>
<rect x="61" y="1078" width="64" height="2" fill="#fffefe"/>
<rect x="61" y="1080" width="64" height="3" fill="#e6e6f2"/>
<rect x="61" y="1083" width="64" height="1" fill="#f8f8fc"/>
<rect x="61" y="1084" width="64" height="3" fill="#f8f8fc"/>
<rect x="61" y="1087" width="64" height="1" fill="#d7d7eb"/>
<rect x="61" y="1088" width="64" height="1" fill="#fffefe"/>
<rect x="61" y="1089" width="64" height="2" fill="#dcdcee"/>
<rect x="61" y="1091" width="64" height="1" fill="#e6e6f3"/>
<rect x="61" y="1092" width="64" height="1" fill="#d8d8ec"/>
<rect x="61" y="1093" width="64" height="3" fill="#dbdbed"/>
<rect x="61" y="1096" width="64" height="3" fill="#e1e1f0"/>
<rect x="61" y="1099" width="64" height="1" fill="#e5e5f2"/>
<rect x="61" y="1100" width="64" height="1" fill="#e6e6f3"/>
<rect x="61" y="1101" width="64" height="2" fill="#eaeaf5"/>
<rect x="61" y="1103" width="64" height="1" fill="#e9e9f4"/>
<rect x="61" y="1104" width="64" height="1" fill="#e8e8f4"/>
<rect x="61" y="1105" width="64" height="2" fill="#f4f4f9"/>
<rect x="61" y="1107" width="64" height="1" fill="#efeff7"/>
<rect x="61" y="1108" width="64" height="2" fill="#eeeef6"/>
<rect x="61" y="1110" width="64" height="2" fill="#ececf6"/>
<rect x="61" y="1112" width="64" height="2" fill="#e7e7f3"/>
<rect x="61" y="1114" width="64" height="2" fill="#e2e2f1"/>
<rect x="61" y="1116" width="64" height="1" fill="#e6e6f2"/>
<rect x="61" y="1117" width="64" height="1" fill="#d3d3e9"/>
<rect x="61" y="1118" width="64" height="1" fill="#e0e0f0"/>
<rect x="61" y="1119" width="64" height="1" fill="#efeff7"/>
<rect x="61" y="1120" width="64" height="1" fill="#f3f3f9"/>
<rect x="61" y="1121" width="64" height="1" fill="#dbdbed"/>
<rect x="61" y="1122" width="64" height="2" fill="#ededf6"/>
<rect x="61" y="1124" width="64" height="1" fill="#dfdfef"/>
<rect x="61" y="1125" width="64" height="1" fill="#e5e5f2"/>
<rect x="61" y="1126" width="64" height="1" fill="#e4e4f2"/>
<rect x="61" y="1127" width="64" height="1" fill="#dbdbed"/>
<rect x="61" y="1128" width="64" height="2" fill="#e1e1f0"/>
<rect x="61" y="1130" width="64" height="2" fill="#d8d8eb"/>
<rect x="61" y="1132" width="64" height="1" fill="#d9d9ec"/>
<rect x="61" y="1133" width="64" height="2" fill="#dedeef"/>
<rect x="61" y="1135" width="64" height="3" fill="#f0f0f8"/>
<rect x="61" y="1138" width="64" height="1" fill="#efeff7"/>
<rect x="61" y="1139" width="64" height="2" fill="#f3f3f9"/>
<rect x="61" y="1141" width="64" height="2" fill="#f4f4fa"/>
<rect x="61" y="1143" width="64" height="1" fill="#eeeef7"/>
<rect x="61" y="1144" width="64" height="1" fill="#e4e4f2"/>
<rect x="61" y="1145" width="64" height="2" fill="#e9e9f4"/>
<rect x="61" y="1147" width="64" height="3" fill="#eeeef7"/>
<rect x="61" y="1150" width="64" height="1" fill="#d6d6eb"/>
<rect x="61" y="1151" width="64" height="2" fill="#dedeef"/>
<rect x="61" y="1153" width="64" height="2" fill="#e6e6f3"/>
<rect x="61" y="1155" width="64" height="1" fill="#e4e4f2"/>
<rect x="61" y="1156" width="64" height="1" fill="#d9d9ec"/>
<rect x="61" y="1157" width="64" height="3" fill="#d9d9ec"/>
<rect x="61" y="1160" width="64" height="1" fill="#e6e6f2"/>
<rect x="61" y="1161" width="64" height="1" fill="#d7d7eb"/>
<rect x="61" y="1162" width="64" height="3" fill="#d2d2e8"/>
<rect x="61" y="1165" width="64" height="2" fill="#c9c9e4"/>
<rect x="61" y="1167" width="64" height="1" fill="#cccce6"/>
<rect x="61" y="1168" width="64" height="1" fill="#c7c7e3"/>
<rect x="61" y="1169" width="64" height="1" fill="#c5c5e2"/>
<rect x="61" y="1170" width="64" height="2" fill="#d0d0e8"/>
<rect x="61" y="1172" width="64" height="2" fill="#d9d9ec"/>
<rect x="61" y="1174" width="64" height="2" fill="#cdcde6"/>
<rect x="61" y="1176" width="64" height="3" fill="#d2d2e8"/>
<rect x="61" y="1179" width="64" height="2" fill="#c7c7e3"/>
<rect x="61" y="1181" width="64" height="1" fill="#babadc"/>
<rect x="61" y="1182" width="64" height="1" fill="#d4d4ea"/>
<rect x="61" y="1183" width="64" height="1" fill="#dadaec"/>
<rect x="61" y="1184" width="64" height="1" fill="#c1c1e0"/>
<rect x="61" y="1185" width="64" height="1" fill="#a7a7d3"/>
<rect x="61" y="1186" width="64" height="2" fill="#afafd7"/>
<rect x="61" y="1188" width="64" height="2" fill="#b1b1d8"/>
<rect x="125" y="48" width="64" height="1" fill="#7474ba"/>
<rect x="125" y="49" width="64" height="1" fill="#7e7ebf"/>
<rect x="125" y="50" width="64" height="1" fill="#7272b9"/>
<rect x="125" y="51" width="64" height="3" fill="#7878bc"/>
<rect x="125" y="54" width="64" height="2" fill="#6d6db7"/>
<rect x="125" y="56" width="64" height="1" fill="#7272b9"/>
<rect x="125" y="57" width="64" height="2" fill="#7272b9"/>
<rect x="125" y="59" width="64" height="2" fill="#7c7cbe"/>
<rect x="125" y="61" width="64" height="1" fill="#8080c0"/>
<rect x="125" y="62" width="64" height="1" fill="#9898cc"/>
<rect x="125" y="63" width="64" height="1" fill="#a1a1d0"/>
<rect x="125" y="64" width="64" height="1" fill="#a5a5d2"/>
<rect x="125" y="65" width="64" height="3" fill="#9595ca"/>
<rect x="125" y="68" width="64" height="2" fill="#9595ca"/>
<rect x="125" y="70" width="64" height="2" fill="#b1b1d8"/>
<rect x="125" y="72" width="64" height="2" fill="#aaaad4"/>
<rect x="125" y="74" width="64" height="2" fill="#9393c9"/>
<rect x="125" y="76" width="64" height="3" fill="#ababd5"/>
<rect x="125" y="79" width="64" height="2" fill="#b0b0d8"/>
<rect x="125" y="81" width="64" height="2" fill="#adadd6"/>
<rect x="125" y="83" width="64" height="1" fill="#ababd5"/>
<rect x="125" y="84" width="64" height="2" fill="#b0b0d8"/>
<rect x="125" y="86" width="64" height="2" fill="#c0c0df"/>
<rect x="125" y="88" width="64" height="2" fill="#a9a9d4"/>
<rect x="125" y="90" width="64" height="1" fill="#8888c4"/>
<rect x="125" y="91" width="64" height="3" fill="#6565b2"/>
<rect x="125" y="94" width="64" height="3" fill="#7e7ebf"/>
<rect x="125" y="97" width="64" height="1" fill="#6a6ab5"/>
<rect x="125" y="98" width="64" height="2" fill="#6c6cb6"/>
<rect x="125" y="100" width="64" height="2" fill="#6b6bb5"/>
<rect x="125" y="102" width="64" height="3" fill="#6969b4"/>
<rect x="125" y="105" width="64" height="1" fill="#5b5bae"/>
<rect x="125" y="106" width="64" height="1" fill="#6969b4"/>
<rect x="125" y="107" width="64" height="2" fill="#2c2c96"/>
<rect x="125" y="109" width="64" height="1" fill="#19198d"/>
<rect x="125" y="110" width="64" height="2" fill="#292994"/>
<rect x="125" y="112" width="64" height="2" fill="#0e0e87"/>
<rect x="125" y="114" width="64" height="2" fill="#000080"/>
<rect x="125" y="116" width="64" height="2" fill="#e89c9c"/>
<rect x="125" y="118" width="64" height="1" fill="#e79797"/>
<rect x="125" y="119" width="64" height="2" fill="#e48b8b"/>
<rect x="125" y="121" width="64" height="2" fill="#e28181"/>
<rect x="125" y="123" width="64" height="1" fill="#e38686"/>
<rect x="125" y="124" width="64" height="2" fill="#e69494"/>
<rect x="125" y="126" width="64" height="2" fill="#e69292"/>
<rect x="125" y="128" width="64" height="1" fill="#e58e8e"/>
<rect x="125" y="129" width="64" height="2" fill="#e48b8b"/>
<rect x="125" y="131" width="64" height="3" fill="#e79797"/>
<rect x="125" y="134" width="64" height="1" fill="#e48b8b"/>
<rect x="125" y="135" width="64" height="1" fill="#e89d9d"/>
<rect x="125" y="136" width="64" height="1" fill="#e58e8e"/>
<rect x="125" y="137" width="64" height="2" fill="#e48888"/>
<rect x="125" y="139" width="64" height="2" fill="#e79999"/>
<rect x="125" y="141" width="64" height="1" fill="#e89a9a"/>
<rect x="125" y="142" width="64" height="3" fill="#e69393"/>
<rect x="125" y="145" width="64" height="2" fill="#edb1b1"/>
<rect x="125" y="147" width="64" height="2" fill="#e48c8c"/>
<rect x="125" y="149" width="64" height="3" fill="#e17b7b"/>
<rect x="125" y="152" width="64" height="2" fill="#df7373"/>
<rect x="125" y="154" width="64" height="2" fill="#e48888"/>
<rect x="125" y="156" width="64" height="2" fill="#dc6969"/>
<rect x="125" y="158" width="64" height="2" fill="#e28181"/>
<rect x="125" y="160" width="64" height="2" fill="#d75050"/>
<rect x="125" y="162" width="64" height="1" fill="#df7676"/>
<rect x="125" y="163" width="64" height="3" fill="#df7676"/>
<rect x="125" y="166" width="64" height="2" fill="#e28080"/>
<rect x="125" y="168" width="64" height="1" fill="#db6363"/>
<rect x="125" y="169" width="64" height="2" fill="#e58d8d"/>
<rect x="125" y="171" width="64" height="3" fill="#e38484"/>
<rect x="125" y="174" width="64" height="3" fill="#e28383"/>
<rect x="125" y="177" width="64" height="2" fill="#e89d9d"/>
<rect x="125" y="179" width="64" height="1" fill="#efbbbb"/>
<rect x="125" y="180" width="64" height="1" fill="#fafafd"/>
<rect x="125" y="181" width="64" height="3" fill="#eba6a6"/>
<rect x="125" y="184" width="64" height="1" fill="#e79595"/>
<rect x="125" y="185" width="64" height="2" fill="#eaa5a5"/>
<rect x="125" y="187" width="64" height="3" fill="#e69292"/>
<rect x="125" y="190" width="64" height="3" fill="#e69292"/>
<rect x="125" y="193" width="64" height="2" fill="#e79898"/>
<rect x="125" y="195" width="64" height="2" fill="#e89b9b"/>
<rect x="125" y="197" width="64" height="2" fill="#eba8a8"/>
<rect x="125" y="199" width="64" height="3" fill="#f4d0d0"/>
<rect x="125" y="202" width="64" height="2" fill="#f6d7d7"/>
<rect x="125" y="204" width="64" height="1" fill="#f7dcdc"/>
<rect x="125" y="205" width="64" height="3" fill="#f6d9d9"/>
<rect x="125" y="208" width="64" height="2" fill="#f8e2e2"/>
<rect x="125" y="210" width="64" height="2" fill="#f5d5d5"/>
<rect x="125" y="212" width="64" height="3" fill="#f2c8c8"/>
<rect x="125" y="215" width="64" height="3" fill="#f6d9d9"/>
<rect x="125" y="218" width="64" height="2" fill="#f2c6c6"/>
<rect x="125" y="220" width="64" height="3" fill="#f5d3d3"/>
<rect x="125" y="223" width="64" height="1" fill="#f6d7d7"/>
<rect x="125" y="224" width="64" height="1" fill="#f5d5d5"/>
<rect x="125" y="225" width="64" height="3" fill="#f3cccc"/>
<rect x="125" y="228" width="64" height="3" fill="#f2c7c7"/>
<rect x="125" y="231" width="64" height="2" fill="#f5d5d5"/>
<rect x="125" y="233" width="64" height="1" fill="#f7dbdb"/>
<rect x="125" y="234" width="64" height="3" fill="#f6dada"/>
<rect x="125" y="237" width="64" height="1" fill="#f9e6e6"/>
<rect x="125" y="238" width="64" height="3" fill="#f0c0c0"/>
<rect x="125" y="241" width="64" height="1" fill="#f1c0c0"/>
<rect x="125" y="242" width="64" height="2" fill="#f6d8d8"/>
<rect x="125" y="244" width="64" height="1" fill="#f7dede"/>
<rect x="125" y="245" width="64" height="1" fill="#e79696"/>
<rect x="125" y="246" width="64" height="2" fill="#e28080"/>
<rect x="125" y="248" width="64" height="3" fill="#e89a9a"/>
<rect x="125" y="251" width="64" height="1" fill="#e38585"/>
<rect x="125" y="252" width="64" height="2" fill="#e79898"/>
<rect x="125" y="254" width="64" height="2" fill="#eba9a9"/>
<rect x="125" y="256" width="64" height="2" fill="#eba7a7"/>
<rect x="125" y="258" width="64" height="1" fill="#ecabab"/>
<rect x="125" y="259" width="64" height="1" fill="#e89b9b"/>
<rect x="125" y="260" width="64" height="2" fill="#eaa5a5"/>
<rect x="125" y="262" width="64" height="3" fill="#eba6a6"/>
<rect x="125" y="265" width="64" height="1" fill="#eeb4b4"/>
<rect x="125" y="266" width="64" height="2" fill="#f0bfbf"/>
<rect x="125" y="268" width="64" height="2" fill="#f0c0c0"/>
<rect x="125" y="270" width="64" height="1" fill="#f0bdbd"/>
<rect x="125" y="271" width="64" height="1" fill="#efb8b8"/>
<rect x="125" y="272" width="64" height="1" fill="#eeb4b4"/>
<rect x="125" y="273" width="64" height="3" fill="#eba9a9"/>
<rect x="125" y="276" width="64" height="1" fill="#ebaaaa"/>
<rect x="125" y="277" width="64" height="2" fill="#e79797"/>
<rect x="125" y="279" width="64" height="3" fill="#e79797"/>
<rect x="125" y="282" width="64" height="1" fill="#e28383"/>
<rect x="125" y="283" width="64" height="1" fill="#dd6d6d"/>
<rect x="125" y="284" width="64" height="2" fill="#e69393"/>
<rect x="125" y="286" width="64" height="2" fill="#eba6a6"/>
<rect x="125" y="288" width="64" height="1" fill="#ebaaaa"/>
<rect x="125" y="289" width="64" height="1" fill="#fefdfd"/>
<rect x="125" y="290" width="64" height="2" fill="#e8e8f4"/>
<rect x="125" y="292" width="64" height="2" fill="#fefeff"/>
<rect x="125" y="294" width="64" height="1" fill="#f4f4fa"/>
<rect x="125" y="295" width="64" height="1" fill="#fdf4f4"/>
<rect x="125" y="296" width="64" height="2" fill="#fcf0f0"/>
<rect x="125" y="298" width="64" height="2" fill="#fbefef"/>
<rect x="125" y="300" width="64" height="2" fill="#fcf1f1"/>
<rect x="125" y="302" width="64" height="2" fill="#fcf0f0"/>
<rect x="125" y="304" width="64" height="1" fill="#f3cdcd"/>
<rect x="125" y="305" width="64" height="1" fill="#f0bebe"/>
<rect x="125" y="306" width="64" height="2" fill="#f1c0c0"/>
<rect x="125" y="308" width="64" height="1" fill="#f3cccc"/>
<rect x="125" y="309" width="64" height="2" fill="#f6d8d8"/>
<rect x="125" y="311" width="64" height="1" fill="#f4d0d0"/>
<rect x="125" y="312" width="64" height="1" fill="#f3caca"/>
<rect x="125" y="313" width="64" height="1" fill="#f5d5d5"/>
<rect x="125" y="314" width="64" height="2" fill="#f3c9c9"/>
<rect x="125" y="316" width="64" height="1" fill="#f6d6d6"/>
<rect x="125" y="317" width="64" height="3" fill="#f6d6d6"/>
<rect x="125" y="320" width="64" height="3" fill="#f7dddd"/>
<rect x="125" y="323" width="64" height="3" fill="#f5d5d5"/>
<rect x="125" y="326" width="64" height="1" fill="#f2c5c5"/>
<rect x="125" y="327" width="64" height="1" fill="#f0bcbc"/>
<rect x="125" y="328" width="64" height="3" fill="#f5d4d4"/>
<rect x="125" y="331" width="64" height="1" fill="#f6d8d8"/>
<rect x="125" y="332" width="64" height="2" fill="#f5d4d4"/>
<rect x="125" y="334" width="64" height="1" fill="#f1c4c4"/>
<rect x="125" y="335" width="64" height="2" fill="#f1c0c0"/>
<rect x="125" y="337" width="64" height="3" fill="#f3cbcb"/>
<rect x="125" y="340" width="64" height="2" fill="#f5d5d5"/>
<rect x="125" y="342" width="64" height="2" fill="#f5d3d3"/>
<rect x="125" y="344" width="64" height="1" fill="#f7dede"/>
<rect x="125" y="345" width="64" height="1" fill="#f6d6d6"/>
<rect x="125" y="346" width="64" height="1" fill="#f3c9c9"/>
<rect x="125" y="347" width="64" height="2" fill="#f3cbcb"/>
<rect x="125" y="349" width="64" height="1" fill="#f2c7c7"/>
<rect x="125" y="350" width="64" height="1" fill="#f4d1d1"/>
<rect x="125" y="351" width="64" height="1" fill="#f6dada"/>
<rect x="125" y="352" width="64" height="2" fill="#f5d3d3"/>
<rect x="125" y="354" width="64" height="2" fill="#f6d9d9"/>
<rect x="125" y="356" width="64" height="3" fill="#f8dfdf"/>
<rect x="125" y="359" width="64" height="1" fill="#f5d5d5"/>
<rect x="125" y="360" width="64" height="1" fill="#f7dada"/>
<rect x="125" y="361" width="64" height="1" fill="#f8e2e2"/>
<rect x="125" y="362" width="64" height="1" fill="#f4d1d1"/>
<rect x="125" y="363" width="64" height="1" fill="#f7dcdc"/>
<rect x="125" y="364" width="64" height="1" fill="#f8e1e1"/>
<rect x="125" y="365" width="64" height="2" fill="#f5d4d4"/>
<rect x="125" y="367" width="64" height="2" fill="#f5d6d6"/>
<rect x="125" y="369" width="64" height="1" fill="#f7dada"/>
<rect x="125" y="370" width="64" height="2" fill="#f9e3e3"/>
<rect x="125" y="372" width="64" height="3" fill="#f8e3e3"/>
<rect x="125" y="375" width="64" height="1" fill="#f7dbdb"/>
<rect x="125" y="376" width="64" height="2" fill="#f4cfcf"/>
<rect x="125" y="378" width="64" height="2" fill="#f3cccc"/>
<rect x="125" y="380" width="64" height="2" fill="#f1c1c1"/>
<rect x="125" y="382" width="64" height="2" fill="#fae8e8"/>
<rect x="125" y="384" width="64" height="3" fill="#f1c3c3"/>
<rect x="125" y="387" width="64" height="1" fill="#f4cfcf"/>
<rect x="125" y="388" width="64" height="1" fill="#f2c8c8"/>
<rect x="125" y="389" width="64" height="2" fill="#f3cbcb"/>
<rect x="125" y="391" width="64" height="3" fill="#f1c3c3"/>
<rect x="125" y="394" width="64" height="2" fill="#f7dada"/>
<rect x="125" y="396" width="64" height="2" fill="#f8e1e1"/>
<rect x="125" y="398" width="64" height="1" fill="#f5d3d3"/>
<rect x="125" y="399" width="64" height="3" fill="#f1c4c4"/>
<rect x="125" y="402" width="64" height="1" fill="#f5d3d3"/>
<rect x="125" y="403" width="64" height="3" fill="#f3cccc"/>
<rect x="125" y="406" width="64" height="2" fill="#f8e2e2"/>
<rect x="125" y="408" width="64" height="1" fill="#f9e7e7"/>
<rect x="125" y="409" width="64" height="2" fill="#f8dfdf"/>
<rect x="125" y="411" width="64" height="1" fill="#f6d6d6"/>
<rect x="125" y="412" width="64" height="2" fill="#fffefe"/>
<rect x="125" y="414" width="64" height="1" fill="#fffdfd"/>
<rect x="125" y="415" width="64" height="2" fill="#fefafa"/>
<rect x="125" y="417" width="64" height="1" fill="#fdfdfe"/>
<rect x="125" y="418" width="64" height="2" fill="#f7dddd"/>
<rect x="125" y="420" width="64" height="1" fill="#f8e1e1"/>
<rect x="125" y="421" width="64" height="1" fill="#fae9e9"/>
<rect x="125" y="422" width="64" height="1" fill="#faeaea"/>
<rect x="125" y="423" width="64" height="1" fill="#f7dcdc"/>
<rect x="125" y="424" width="64" height="3" fill="#f7dcdc"/>
<rect x="125" y="427" width="64" height="1" fill="#f4cece"/>
<rect x="125" y="428" width="64" height="3" fill="#f7dbdb"/>
<rect x="125" y="431" width="64" height="2" fill="#f8e2e2"/>
<rect x="125" y="433" width="64" height="2" fill="#f9e4e4"/>
<rect x="125" y="435" width="64" height="1" fill="#f8e0e0"/>
<rect x="125" y="436" width="64" height="2" fill="#f9e7e7"/>
<rect x="125" y="438" width="64" height="1" fill="#f8e0e0"/>
<rect x="125" y="439" width="64" height="2" fill="#f7dcdc"/>
<rect x="125" y="441" width="64" height="3" fill="#f7dcdc"/>
<rect x="125" y="444" width="64" height="2" fill="#f7dcdc"/>
<rect x="125" y="446" width="64" height="2" fill="#f5d2d2"/>
<rect x="125" y="448" width="64" height="1" fill="#f3cbcb"/>
<rect x="125" y="449" width="64" height="1" fill="#f4cfcf"/>
<rect x="125" y="450" width="64" height="2" fill="#f5d3d3"/>
<rect x="125" y="452" width="64" height="2" fill="#f6d7d7"/>
<rect x="125" y="454" width="64" height="2" fill="#f5d2d2"/>
<rect x="125" y="456" width="64" height="3" fill="#efb9b9"/>
<rect x="125" y="459" width="64" height="3" fill="#eeb4b4"/>
<rect x="125" y="462" width="64" height="2" fill="#eeb6b6"/>
<rect x="125" y="464" width="64" height="3" fill="#f3caca"/>
<rect x="125" y="467" width="64" height="1" fill="#f3cdcd"/>
<rect x="125" y="468" width="64" height="3" fill="#f3cbcb"/>
<rect x="125" y="471" width="64" height="1" fill="#f1c4c4"/>
<rect x="125" y="472" width="64" height="1" fill="#f6d9d9"/>
<rect x="125" y="473" width="64" height="3" fill="#f7dddd"/>
<rect x="125" y="476" width="64" height="1" fill="#f6d7d7"/>
<rect x="125" y="477" width="64" height="1" fill="#f5d5d5"/>
<rect x="125" y="478" width="64" height="1" fill="#f6d7d7"/>
<rect x="125" y="479" width="64" height="3" fill="#f8dfdf"/>
<rect x="125" y="482" width="64" height="1" fill="#fbeded"/>
<rect x="125" y="483" width="64" height="1" fill="#faeaea"/>
<rect x="125" y="484" width="64" height="1" fill="#f3cdcd"/>
<rect x="125" y="485" width="64" height="2" fill="#f9e4e4"/>
<rect x="125" y="487" width="64" height="3" fill="#f4cece"/>
<rect x="125" y="490" width="64" height="3" fill="#f5d4d4"/>
<rect x="125" y="493" width="64" height="2" fill="#f8e2e2"/>
<rect x="125" y="495" width="64" height="1" fill="#f7dddd"/>
<rect x="125" y="496" width="64" height="1" fill="#f6d7d7"/>
<rect x="125" y="497" width="64" height="2" fill="#f5d5d5"/>
<rect x="125" y="499" width="64" height="1" fill="#f5d6d6"/>
<rect x="125" y="500" width="64" height="1" fill="#f5d2d2"/>
<rect x="125" y="501" width="64" height="2" fill="#f2c7c7"/>
<rect x="125" y="503" width="64" height="3" fill="#f5d3d3"/>
<rect x="125" y="506" width="64" height="3" fill="#f1c1c1"/>
<rect x="125" y="509" width="64" height="2" fill="#e9a1a1"/>
<rect x="125" y="511" width="64" height="2" fill="#f7dcdc"/>
<rect x="125" y="513" width="64" height="1" fill="#f6d6d6"/>
<rect x="125" y="514" width="64" height="3" fill="#f3cdcd"/>
<rect x="125" y="517" width="64" height="1" fill="#f6dada"/>
<rect x="125" y="518" width="64" height="2" fill="#fdf5f5"/>
<rect x="125" y="520" width="64" height="1" fill="#f8e2e2"/>
<rect x="125" y="521" width="64" height="3" fill="#f7dddd"/>
<rect x="125" y="524" width="64" height="1" fill="#f4cdcd"/>
<rect x="125" y="525" width="64" height="2" fill="#f5d6d6"/>
<rect x="125" y="527" width="64" height="2" fill="#f8e1e1"/>
<rect x="125" y="529" width="64" height="2" fill="#f2c5c5"/>
<rect x="125" y="531" width="64" height="3" fill="#fae8e8"/>
<rect x="125" y="534" width="64" height="1" fill="#f9e5e5"/>
<rect x="125" y="535" width="64" height="1" fill="#fae8e8"/>
<rect x="125" y="536" width="64" height="2" fill="#fbecec"/>
<rect x="125" y="538" width="64" height="1" fill="#f7dede"/>
<rect x="125" y="539" width="64" height="1" fill="#f4cfcf"/>
<rect x="125" y="540" width="64" height="1" fill="#f8dfdf"/>
<rect x="125" y="541" width="64" height="3" fill="#f9e5e5"/>
<rect x="125" y="544" width="64" height="1" fill="#fae9e9"/>
<rect x="125" y="545" width="64" height="1" fill="#f6d9d9"/>
<rect x="125" y="546" width="64" height="2" fill="#f7dddd"/>
<rect x="125" y="548" width="64" height="1" fill="#f8dfdf"/>
<rect x="125" y="549" width="64" height="1" fill="#f4d0d0"/>
<rect x="125" y="550" width="64" height="2" fill="#f1c4c4"/>
<rect x="125" y="552" width="64" height="1" fill="#f5d4d4"/>
<rect x="125" y="553" width="64" height="2" fill="#f4cfcf"/>
<rect x="125" y="555" width="64" height="2" fill="#f3caca"/>
<rect x="125" y="557" width="64" height="2" fill="#f5d4d4"/>
<rect x="125" y="559" width="64" height="1" fill="#f6d6d6"/>
<rect x="125" y="560" width="64" height="2" fill="#f5d4d4"/>
<rect x="125" y="562" width="64" height="2" fill="#f2c7c7"/>
<rect x="125" y="564" width="64" height="1" fill="#f4cece"/>
<rect x="125" y="565" width="64" height="3" fill="#f1c1c1"/>
<rect x="125" y="568" width="64" height="2" fill="#f3cccc"/>
<rect x="125" y="570" width="64" height="1" fill="#efbaba"/>
<rect x="125" y="571" width="64" height="2" fill="#eeb6b6"/>
<rect x="125" y="573" width="64" height="1" fill="#f0bfbf"/>
<rect x="125" y="574" width="64" height="2" fill="#f4cfcf"/>
<rect x="125" y="576" width="64" height="2" fill="#f4cece"/>
<rect x="125" y="578" width="64" height="3" fill="#f4d1d1"/>
<rect x="125" y="581" width="64" height="1" fill="#f2c6c6"/>
<rect x="125" y="582" width="64" height="1" fill="#f4cdcd"/>
<rect x="125" y="583" width="64" height="3" fill="#f4d1d1"/>
<rect x="125" y="586" width="64" height="1" fill="#f3c9c9"/>
<rect x="125" y="587" width="64" height="1" fill="#f3cccc"/>
<rect x="125" y="588" width="64" height="1" fill="#f3cccc"/>
<rect x="125" y="589" width="64" height="2" fill="#f2c6c6"/>
<rect x="125" y="591" width="64" height="2" fill="#f1c2c2"/>
<rect x="125" y="593" width="64" height="1" fill="#f9e7e7"/>
<rect x="125" y="594" width="64" height="2" fill="#fbecec"/>
<rect x="125" y="596" width="64" height="2" fill="#f6f6fb"/>
<rect x="125" y="598" width="64" height="1" fill="#fefafa"/>
<rect x="125" y="599" width="64" height="1" fill="#ffffff"/>
<rect x="125" y="600" width="64" height="2" fill="#fffdfd"/>
<rect x="125" y="602" width="64" height="3" fill="#fefbfb"/>
<rect x="125" y="605" width="64" height="1" fill="#fefeff"/>
<rect x="125" y="606" width="64" height="1" fill="#fef9f9"/>
<rect x="125" y="607" width="64" height="1" fill="#f3cdcd"/>
<rect x="125" y="608" width="64" height="3" fill="#f5d5d5"/>
<rect x="125" y="611" width="64" height="2" fill="#f4cece"/>
<rect x="125" y="613" width="64" height="3" fill="#f7dcdc"/>
<rect x="125" y="616" width="64" height="2" fill="#f7dcdc"/>
<rect x="125" y="618" width="64" height="2" fill="#f6d7d7"/>
<rect x="125" y="620" width="64" height="1" fill="#f5d5d5"/>
<rect x="125" y="621" width="64" height="2" fill="#f4d1d1"/>
<rect x="125" y="623" width="64" height="1" fill="#f8e3e3"/>
<rect x="125" y="624" width="64" height="1" fill="#f2c8c8"/>
<rect x="125" y="625" width="64" height="1" fill="#f4cece"/>
<rect x="125" y="626" width="64" height="2" fill="#f3cdcd"/>
<rect x="125" y="628" width="64" height="2" fill="#f3cccc"/>
<rect x="125" y="630" width="64" height="1" fill="#f8dfdf"/>
<rect x="125" y="631" width="64" height="2" fill="#f5d4d4"/>
<rect x="125" y="633" width="64" height="2" fill="#f6d6d6"/>
<rect x="125" y="635" width="64" height="2" fill="#f2c8c8"/>
<rect x="125" y="637" width="64" height="1" fill="#f4cdcd"/>
<rect x="125" y="638" width="64" height="1" fill="#f0bebe"/>
<rect x="125" y="639" width="64" height="2" fill="#f0bcbc"/>
<rect x="125" y="641" width="64" height="3" fill="#f4d0d0"/>
<rect x="125" y="644" width="64" height="1" fill="#f4d0d0"/>
<rect x="125" y="645" width="64" height="2" fill="#f1c1c1"/>
<rect x="125" y="647" width="64" height="2" fill="#efbaba"/>
<rect x="125" y="649" width="64" height="2" fill="#eeb7b7"/>
<rect x="125" y="651" width="64" height="1" fill="#f2c5c5"/>
<rect x="125" y="652" width="64" height="2" fill="#f1c1c1"/>
<rect x="125" y="654" width="64" height="1" fill="#f2c5c5"/>
<rect x="125" y="655" width="64" height="2" fill="#f1c1c1"/>
<rect x="125" y="657" width="64" height="3" fill="#f2c9c9"/>
<rect x="125" y="660" width="64" height="2" fill="#f2c7c7"/>
<rect x="125" y="662" width="64" height="2" fill="#f1c4c4"/>
<rect x="125" y="664" width="64" height="2" fill="#f0bdbd"/>
<rect x="125" y="666" width="64" height="2" fill="#edb0b0"/>
<rect x="125" y="668" width="64" height="1" fill="#eeb4b4"/>
<rect x="125" y="669" width="64" height="2" fill="#ecadad"/>
<rect x="125" y="671" width="64" height="2" fill="#eeb5b5"/>
<rect x="125" y="673" width="64" height="1" fill="#f0bcbc"/>
<rect x="125" y="674" width="64" height="2" fill="#f1c1c1"/>
<rect x="125" y="676" width="64" height="1" fill="#f4cdcd"/>
<rect x="125" y="677" width="64" height="3" fill="#f6d7d7"/>
<rect x="125" y="680" width="64" height="1" fill="#f7dada"/>
<rect x="125" y="681" width="64" height="2" fill="#f4d1d1"/>
<rect x="125" y="683" width="64" height="1" fill="#f4cece"/>
<rect x="125" y="684" width="64" height="1" fill="#f2c8c8"/>
<rect x="125" y="685" width="64" height="3" fill="#f0bdbd"/>
<rect x="125" y="688" width="64" height="1" fill="#f5d5d5"/>
<rect x="125" y="689" width="64" height="1" fill="#f5d5d5"/>
<rect x="125" y="690" width="64" height="1" fill="#f1c3c3"/>
<rect x="125" y="691" width="64" height="1" fill="#f7dbdb"/>
<rect x="125" y="692" width="64" height="1" fill="#f4cece"/>
<rect x="125" y="693" width="64" height="1" fill="#f4cdcd"/>
<rect x="125" y="694" width="64" height="1" fill="#f2c8c8"/>
<rect x="125" y="695" width="64" height="2" fill="#fcf1f1"/>
<rect x="125" y="697" width="64" height="2" fill="#fcf4f4"/>
<rect x="125" y="699" width="64" height="2" fill="#fbefef"/>
<rect x="125" y="701" width="64" height="2" fill="#fcf1f1"/>
<rect x="125" y="703" width="64" height="2" fill="#fbecec"/>
<rect x="125" y="705" width="64" height="1" fill="#f7dede"/>
<rect x="125" y="706" width="64" height="3" fill="#f9e6e6"/>
<rect x="125" y="709" width="64" height="1" fill="#fae8e8"/>
<rect x="125" y="710" width="64" height="1" fill="#f3c9c9"/>
<rect x="125" y="711" width="64" height="1" fill="#eeb7b7"/>
<rect x="125" y="712" width="64" height="1" fill="#f2c5c5"/>
<rect x="125" y="713" width="64" height="3" fill="#f2c6c6"/>
<rect x="125" y="716" width="64" height="2" fill="#edb1b1"/>
<rect x="125" y="718" width="64" height="3" fill="#e9a1a1"/>
<rect x="125" y="721" width="64" height="3" fill="#eba9a9"/>
<rect x="125" y="724" width="64" height="3" fill="#eaa6a6"/>
<rect x="125" y="727" width="64" height="2" fill="#ecacac"/>
<rect x="125" y="729" width="64" height="1" fill="#efbaba"/>
<rect x="125" y="730" width="64" height="2" fill="#edb0b0"/>
<rect x="125" y="732" width="64" height="1" fill="#f0bebe"/>
<rect x="125" y="733" width="64" height="2" fill="#fbeded"/>
<rect x="125" y="735" width="64" height="2" fill="#f8dfdf"/>
<rect x="125" y="737" width="64" height="3" fill="#f8e2e2"/>
<rect x="125" y="740" width="64" height="1" fill="#f4d0d0"/>
<rect x="125" y="741" width="64" height="1" fill="#f3cdcd"/>
<rect x="125" y="742" width="64" height="2" fill="#f4d0d0"/>
<rect x="125" y="744" width="64" height="2" fill="#f4cdcd"/>
<rect x="125" y="746" width="64" height="1" fill="#f5d5d5"/>
<rect x="125" y="747" width="64" height="2" fill="#f4cece"/>
<rect x="125" y="749" width="64" height="1" fill="#f5d4d4"/>
<rect x="125" y="750" width="64" height="3" fill="#f7dddd"/>
<rect x="125" y="753" width="64" height="2" fill="#f7dede"/>
<rect x="125" y="755" width="64" height="2" fill="#f8e1e1"/>
<rect x="125" y="757" width="64" height="1" fill="#f9e7e7"/>
<rect x="125" y="758" width="64" height="3" fill="#f6d7d7"/>
<rect x="125" y="761" width="64" height="1" fill="#f6d6d6"/>
<rect x="125" y="762" width="64" height="2" fill="#f2c5c5"/>
<rect x="125" y="764" width="64" height="2" fill="#eeb6b6"/>
<rect x="125" y="766" width="64" height="1" fill="#eeb6b6"/>
<rect x="125" y="767" width="64" height="3" fill="#efbcbc"/>
<rect x="125" y="770" width="64" height="2" fill="#eeb5b5"/>
<rect x="125" y="772" width="64" height="2" fill="#eeb6b6"/>
<rect x="125" y="774" width="64" height="1" fill="#f0bfbf"/>
<rect x="125" y="775" width="64" height="2" fill="#fefbfb"/>
<rect x="125" y="777" width="64" height="1" fill="#ffffff"/>
<rect x="125" y="778" width="64" height="2" fill="#fefcfc"/>
<rect x="125" y="780" width="64" height="2" fill="#fffefe"/>
<rect x="125" y="782" width="64" height="2" fill="#e7e7f3"/>
<rect x="125" y="784" width="64" height="3" fill="#e1e1f0"/>
<rect x="125" y="787" width="64" height="1" fill="#e0e0ef"/>
<rect x="125" y="788" width="64" height="2" fill="#e4e4f1"/>
<rect x="125" y="790" width="64" height="2" fill="#cfcfe7"/>
<rect x="125" y="792" width="64" height="1" fill="#d7d7eb"/>
<rect x="125" y="793" width="64" height="2" fill="#d1d1e8"/>
<rect x="125" y="795" width="64" height="2" fill="#c1c1e0"/>
<rect x="125" y="797" width="64" height="1" fill="#cdcde6"/>
<rect x="125" y="798" width="64" height="3" fill="#c4c4e1"/>
<rect x="125" y="801" width="64" height="1" fill="#bdbdde"/>
<rect x="125" y="802" width="64" height="1" fill="#b2b2d9"/>
<rect x="125" y="803" width="64" height="2" fill="#aaaad4"/>
<rect x="125" y="805" width="64" height="1" fill="#b0b0d8"/>
<rect x="125" y="806" width="64" height="1" fill="#b8b8dc"/>
<rect x="125" y="807" width="64" height="1" fill="#bebede"/>
<rect x="125" y="808" width="64" height="1" fill="#c5c5e2"/>
<rect x="125" y="809" width="64" height="1" fill="#c0c0e0"/>
<rect x="125" y="810" width="64" height="2" fill="#c7c7e3"/>
<rect x="125" y="812" width="64" height="1" fill="#c2c2e1"/>
<rect x="125" y="813" width="64" height="1" fill="#c2c2e1"/>
<rect x="125" y="814" width="64" height="1" fill="#cbcbe5"/>
<rect x="125" y="815" width="64" height="2" fill="#c5c5e2"/>
<rect x="125" y="817" width="64" height="2" fill="#c6c6e3"/>
<rect x="125" y="819" width="64" height="3" fill="#d3d3e9"/>
<rect x="125" y="822" width="64" height="1" fill="#c4c4e2"/>
<rect x="125" y="823" width="64" height="2" fill="#cbcbe5"/>
<rect x="125" y="825" width="64" height="1" fill="#c3c3e1"/>
<rect x="125" y="826" width="64" height="2" fill="#d4d4e9"/>
<rect x="125" y="828" width="64" height="1" fill="#c9c9e4"/>
<rect x="125" y="829" width="64" height="2" fill="#d0d0e8"/>
<rect x="125" y="831" width="64" height="1" fill="#e4e4f1"/>
<rect x="125" y="832" width="64" height="1" fill="#cecee7"/>
<rect x="125" y="833" width="64" height="2" fill="#cacae4"/>
<rect x="125" y="835" width="64" height="1" fill="#cccce5"/>
<rect x="125" y="836" width="64" height="3" fill="#c2c2e0"/>
<rect x="125" y="839" width="64" height="2" fill="#cfcfe7"/>
<rect x="125" y="841" width="64" height="1" fill="#c8c8e3"/>
<rect x="125" y="842" width="64" height="1" fill="#dcdcee"/>
<rect x="125" y="843" width="64" height="3" fill="#dbdbed"/>
<rect x="125" y="846" width="64" height="1" fill="#e0e0ef"/>
<rect x="125" y="847" width="64" height="2" fill="#d0d0e8"/>
<rect x="125" y="849" width="64" height="2" fill="#d1d1e8"/>
<rect x="125" y="851" width="64" height="1" fill="#c1c1e0"/>
<rect x="125" y="852" width="64" height="2" fill="#d4d4e9"/>
<rect x="125" y="854" width="64" height="2" fill="#dadaec"/>
<rect x="125" y="856" width="64" height="2" fill="#d0d0e7"/>
<rect x="125" y="858" width="64" height="1" fill="#c2c2e0"/>
<rect x="125" y="859" width="64" height="1" fill="#d8d8ec"/>
<rect x="125" y="860" width="64" height="1" fill="#d7d7eb"/>
<rect x="125" y="861" width="64" height="2" fill="#cdcde6"/>
<rect x="125" y="863" width="64" height="2" fill="#babadd"/>
<rect x="125" y="865" width="64" height="1" fill="#cbcbe5"/>
<rect x="125" y="866" width="64" height="2" fill="#dadaec"/>
<rect x="125" y="868" width="64" height="2" fill="#c8c8e3"/>
<rect x="125" y="870" width="64" height="3" fill="#d2d2e9"/>
<rect x="125" y="873" width="64" height="1" fill="#bdbdde"/>
<rect x="125" y="874" width="64" height="2" fill="#c6c6e2"/>
<rect x="125" y="876" width="64" height="2" fill="#d8d8ec"/>
<rect x="125" y="878" width="64" height="3" fill="#e3e3f1"/>
<rect x="125" y="881" width="64" height="2" fill="#d6d6eb"/>
<rect x="125" y="883" width="64" height="1" fill="#d1d1e8"/>
<rect x="125" y="884" width="64" height="2" fill="#d7d7eb"/>
<rect x="125" y="886" width="64" height="1" fill="#c6c6e3"/>
<rect x="125" y="887" width="64" height="2" fill="#c4c4e2"/>
<rect x="125" y="889" width="64" height="1" fill="#dcdcee"/>
<rect x="125" y="890" width="64" height="2" fill="#e3e3f1"/>
<rect x="125" y="892" width="64" height="2" fill="#dbdbed"/>
<rect x="125" y="894" width="64" height="1" fill="#d2d2e8"/>
<rect x="125" y="895" width="64" height="2" fill="#cbcbe5"/>
<rect x="125" y="897" width="64" height="2" fill="#cacae4"/>
<rect x="125" y="899" width="64" height="2" fill="#c2c2e1"/>
<rect x="125" y="901" width="64" height="3" fill="#b4b4d9"/>
<rect x="125" y="904" width="64" height="1" fill="#c1c1e0"/>
<rect x="125" y="905" width="64" height="2" fill="#c7c7e3"/>
<rect x="125" y="907" width="64" height="1" fill="#c8c8e4"/>
<rect x="125" y="908" width="64" height="1" fill="#eeeef6"/>
<rect x="125" y="909" width="64" height="1" fill="#fbfbfd"/>
<rect x="125" y="910" width="64" height="1" fill="#f3f3f9"/>
<rect x="125" y="911" width="64" height="2" fill="#fefafa"/>
<rect x="125" y="913" width="64" height="2" fill="#fcf2f2"/>
<rect x="125" y="915" width="64" height="2" fill="#fcf0f0"/>
<rect x="125" y="917" width="64" height="3" fill="#d3d3e9"/>
<rect x="125" y="920" width="64" height="3" fill="#d3d3e9"/>
<rect x="125" y="923" width="64" height="2" fill="#c5c5e2"/>
<rect x="125" y="925" width="64" height="1" fill="#c8c8e4"/>
<rect x="125" y="926" width="64" height="1" fill="#c2c2e0"/>
<rect x="125" y="927" width="64" height="1" fill="#9595ca"/>
<rect x="125" y="928" width="64" height="2" fill="#bbbbdd"/>
<rect x="125" y="930" width="64" height="1" fill="#fbefef"/>
<rect x="125" y="931" width="64" height="2" fill="#faebeb"/>
<rect x="125" y="933" width="64" height="1" fill="#fcf1f1"/>
<rect x="125" y="934" width="64" height="1" fill="#fbecec"/>
<rect x="125" y="935" width="64" height="3" fill="#fbecec"/>
<rect x="125" y="938" width="64" height="2" fill="#fcf2f2"/>
<rect x="125" y="940" width="64" height="3" fill="#b7b7db"/>
<rect x="125" y="943" width="64" height="1" fill="#c6c6e3"/>
<rect x="125" y="944" width="64" height="2" fill="#c4c4e2"/>
<rect x="125" y="946" width="64" height="2" fill="#b8b8dc"/>
<rect x="125" y="948" width="64" height="2" fill="#b3b3d9"/>
<rect x="125" y="950" width="64" height="1" fill="#bcbcde"/>
<rect x="125" y="951" width="64" height="1" fill="#bebedf"/>
<rect x="125" y="952" width="64" height="2" fill="#bcbcde"/>
<rect x="125" y="954" width="64" height="2" fill="#b2b2d9"/>
<rect x="125" y="956" width="64" height="1" fill="#c8c8e4"/>
<rect x="125" y="957" width="64" height="2" fill="#c1c1e0"/>
<rect x="125" y="959" width="64" height="2" fill="#cdcde6"/>
<rect x="125" y="961" width="64" height="1" fill="#b9b9dc"/>
<rect x="125" y="962" width="64" height="1" fill="#c3c3e1"/>
<rect x="125" y="963" width="64" height="2" fill="#adadd6"/>
<rect x="125" y="965" width="64" height="2" fill="#bfbfdf"/>
<rect x="125" y="967" width="64" height="2" fill="#b4b4da"/>
<rect x="125" y="969" width="64" height="2" fill="#c7c7e3"/>
<rect x="125" y="971" width="64" height="2" fill="#b9b9dc"/>
<rect x="125" y="973" width="64" height="3" fill="#b8b8dc"/>
<rect x="125" y="976" width="64" height="1" fill="#dadaec"/>
<rect x="125" y="977" width="64" height="2" fill="#d4d4ea"/>
<rect x="125" y="979" width="64" height="3" fill="#bdbdde"/>
<rect x="125" y="982" width="64" height="1" fill="#cdcde6"/>
<rect x="125" y="983" width="64" height="1" fill="#c3c3e1"/>
<rect x="125" y="984" width="64" height="2" fill="#cbcbe5"/>
<rect x="125" y="986" width="64" height="2" fill="#bcbcde"/>
<rect x="125" y="988" width="64" height="1" fill="#c4c4e2"/>
<rect x="125" y="989" width="64" height="3" fill="#d7d7eb"/>
<rect x="125" y="992" width="64" height="2" fill="#d3d3e9"/>
<rect x="125" y="994" width="64" height="1" fill="#cfcfe7"/>
<rect x="125" y="995" width="64" height="2" fill="#c1c1e0"/>
<rect x="125" y="997" width="64" height="2" fill="#cdcde6"/>
<rect x="125" y="999" width="64" height="1" fill="#c0c0e0"/>
<rect x="125" y="1000" width="64" height="2" fill="#d5d5ea"/>
<rect x="125" y="1002" width="64" height="2" fill="#dadaed"/>
<rect x="125" y="1004" width="64" height="1" fill="#e9e9f4"/>
<rect x="125" y="1005" width="64" height="1" fill="#d6d6ea"/>
<rect x="125" y="1006" width="64" height="1" fill="#ddddee"/>
<rect x="125" y="1007" width="64" height="2" fill="#dcdced"/>
<rect x="125" y="1009" width="64" height="3" fill="#cecee7"/>
<rect x="125" y="1012" width="64" height="2" fill="#c6c6e2"/>
<rect x="125" y="1014" width="64" height="3" fill="#cdcde6"/>
<rect x="125" y="1017" width="64" height="1" fill="#c7c7e3"/>
<rect x="125" y="1018" width="64" height="1" fill="#c6c6e2"/>
<rect x="125" y="1019" width="64" height="2" fill="#b5b5da"/>
<rect x="125" y="1021" width="64" height="1" fill="#b3b3d9"/>
<rect x="125" y="1022" width="64" height="3" fill="#b6b6db"/>
<rect x="125" y="1025" width="64" height="2" fill="#b5b5da"/>
<rect x="125" y="1027" width="64" height="1" fill="#b0b0d8"/>
<rect x="125" y="1028" width="64" height="2" fill="#b6b6db"/>
<rect x="125" y="1030" width="64" height="2" fill="#d4d4e9"/>
<rect x="125" y="1032" width="64" height="2" fill="#c8c8e3"/>
<rect x="125" y="1034" width="64" height="1" fill="#dbdbed"/>
<rect x="125" y="1035" width="64" height="3" fill="#dbdbed"/>
<rect x="125" y="1038" width="64" height="2" fill="#d4d4e9"/>
<rect x="125" y="1040" width="64" height="2" fill="#b8b8dc"/>
<rect x="125" y="1042" width="64" height="2" fill="#bebede"/>
<rect x="125" y="1044" width="64" height="2" fill="#c2c2e1"/>
<rect x="125" y="1046" width="64" height="3" fill="#d0d0e7"/>
<rect x="125" y="1049" width="64" height="1" fill="#c6c6e3"/>
<rect x="125" y="1050" width="64" height="2" fill="#c2c2e0"/>
<rect x="125" y="1052" width="64" height="1" fill="#bfbfdf"/>
<rect x="125" y="1053" width="64" height="2" fill="#b7b7db"/>
<rect x="125" y="1055" width="64" height="2" fill="#aeaed7"/>
<rect x="125" y="1057" width="64" height="2" fill="#b6b6da"/>
<rect x="125" y="1059" width="64" height="3" fill="#c4c4e2"/>
<rect x="125" y="1062" width="64" height="1" fill="#cecee7"/>
<rect x="125" y="1063" width="64" height="3" fill="#c9c9e4"/>
<rect x="125" y="1066" width="64" height="1" fill="#d7d7eb"/>
<rect x="125" y="1067" width="64" height="2" fill="#e5e5f2"/>
<rect x="125" y="1069" width="64" height="1" fill="#dcdcee"/>
<rect x="125" y="1070" width="64" height="1" fill="#ffffff"/>
<rect x="125" y="1071" width="64" height="2" fill="#fdfdfe"/>
<rect x="125" y="1073" width="64" height="1" fill="#fffefe"/>
<rect x="125" y="1074" width="64" height="2" fill="#f5f5fa"/>
<rect x="125" y="1076" width="64" height="2" fill="#fafafc"/>
<rect x="125" y="1078" width="64" height="3" fill="#e8e8f4"/>
<rect x="125" y="1081" width="64" height="2" fill="#f2f2f8"/>
<rect x="125" y="1083" width="64" height="2" fill="#f3f3f9"/>
<rect x="125" y="1085" width="64" height="2" fill="#eaeaf4"/>
<rect x="125" y="1087" width="64" height="2" fill="#e3e3f1"/>
<rect x="125" y="1089" width="64" height="2" fill="#f3f3f9"/>
<rect x="125" y="1091" width="64" height="1" fill="#f2f2f9"/>
<rect x="125" y="1092" width="64" height="3" fill="#fefdfd"/>
<rect x="125" y="1095" width="64" height="3" fill="#f9e3e3"/>
<rect x="125" y="1098" width="64" height="1" fill="#faeaea"/>
<rect x="125" y="1099" width="64" height="1" fill="#fbecec"/>
<rect x="125" y="1100" width="64" height="1" fill="#fef9f9"/>
<rect x="125" y="1101" width="64" height="1" fill="#fcfcfe"/>
<rect x="125" y="1102" width="64" height="1" fill="#f2f2f9"/>
<rect x="125" y="1103" width="64" height="2" fill="#fdf8f8"/>
<rect x="125" y="1105" width="64" height="2" fill="#fefefe"/>
<rect x="125" y="1107" width="64" height="1" fill="#fefcfc"/>
<rect x="125" y="1108" width="64" height="3" fill="#babadd"/>
<rect x="125" y="1111" width="64" height="2" fill="#b0b0d8"/>
<rect x="125" y="1113" width="64" height="2" fill="#a0a0d0"/>
<rect x="125" y="1115" width="64" height="2" fill="#f9f9fc"/>
<rect x="125" y="1117" width="64" height="1" fill="#fcfcfd"/>
<rect x="125" y="1118" width="64" height="2" fill="#fefefe"/>
<rect x="125" y="1120" width="64" height="1" fill="#fefcfc"/>
<rect x="125" y="1121" width="64" height="1" fill="#fbfbfd"/>
<rect x="125" y="1122" width="64" height="2" fill="#b0b0d7"/>
<rect x="125" y="1124" width="64" height="1" fill="#a4a4d2"/>
<rect x="125" y="1125" width="64" height="2" fill="#9898cc"/>
<rect x="125" y="1127" width="64" height="3" fill="#9999cc"/>
<rect x="125" y="1130" width="64" height="1" fill="#9c9cce"/>
<rect x="125" y="1131" width="64" height="1" fill="#9898cc"/>
<rect x="125" y="1132" width="64" height="2" fill="#8e8ec7"/>
<rect x="125" y="1134" width="64" height="2" fill="#b4b4da"/>
<rect x="125" y="1136" width="64" height="2" fill="#c9c9e4"/>
<rect x="125" y="1138" width="64" height="1" fill="#d8d8ec"/>
<rect x="125" y="1139" width="64" height="1" fill="#d1d1e8"/>
<rect x="125" y="1140" width="64" height="2" fill="#d5d5ea"/>
<rect x="125" y="1142" width="64" height="2" fill="#d6d6eb"/>
<rect x="125" y="1144" width="64" height="3" fill="#cbcbe5"/>
<rect x="125" y="1147" width="64" height="1" fill="#c9c9e4"/>
<rect x="125" y="1148" width="64" height="3" fill="#c7c7e3"/>
<rect x="125" y="1151" width="64" height="1" fill="#c9c9e4"/>
<rect x="125" y="1152" width="64" height="2" fill="#c7c7e3"/>
<rect x="125" y="1154" width="64" height="1" fill="#cbcbe5"/>
<rect x="125" y="1155" width="64" height="2" fill="#b7b7db"/>
<rect x="125" y="1157" width="64" height="1" fill="#d0d0e8"/>
<rect x="125" y="1158" width="64" height="3" fill="#c0c0df"/>
<rect x="125" y="1161" width="64" height="2" fill="#e0e0ef"/>
<rect x="125" y="1163" width="64" height="2" fill="#c8c8e4"/>
<rect x="125" y="1165" width="64" height="2" fill="#cecee7"/>
<rect x="125" y="1167" width="64" height="3" fill="#d1d1e8"/>
<rect x="125" y="1170" width="64" height="1" fill="#d9d9ec"/>
<rect x="125" y="1171" width="64" height="3" fill="#e6e6f3"/>
<rect x="125" y="1174" width="64" height="1" fill="#dedeee"/>
<rect x="125" y="1175" width="64" height="1" fill="#c7c7e3"/>
<rect x="125" y="1176" width="64" height="1" fill="#c3c3e1"/>
<rect x="125" y="1177" width="64" height="3" fill="#c6c6e3"/>
<rect x="125" y="1180" width="64" height="1" fill="#c5c5e2"/>
<rect x="125" y="1181" width="64" height="1" fill="#c7c7e3"/>
<rect x="125" y="1182" width="64" height="2" fill="#fffefe"/>
<rect x="125" y="1184" width="64" height="1" fill="#fefbfb"/>
<rect x="125" y="1185" width="64" height="2" fill="#ececf6"/>
<rect x="125" y="1187" width="64" height="2" fill="#e6e6f3"/>
<rect x="125" y="1189" width="64" height="1" fill="#d9d9ec"/>
<rect x="189" y="48" width="66" height="2" fill="#f9e3e3"/>
<rect x="189" y="50" width="66" height="2" fill="#f8e2e2"/>
<rect x="189" y="52" width="66" height="1" fill="#f7dbdb"/>
<rect x="189" y="53" width="66" height="2" fill="#f9e5e5"/>
<rect x="189" y="55" width="66" height="2" fill="#fbeeee"/>
<rect x="189" y="57" width="66" height="2" fill="#fef9f9"/>
<rect x="189" y="59" width="66" height="3" fill="#fefbfb"/>
<rect x="189" y="62" width="66" height="2" fill="#f8f8fc"/>
<rect x="189" y="64" width="66" height="1" fill="#fdf7f7"/>
<rect x="189" y="65" width="66" height="1" fill="#f4f4fa"/>
<rect x="189" y="66" width="66" height="1" fill="#fcf1f1"/>
<rect x="189" y="67" width="66" height="2" fill="#faebeb"/>
<rect x="189" y="69" width="66" height="3" fill="#faebeb"/>
<rect x="189" y="72" width="66" height="1" fill="#e1e1f0"/>
<rect x="189" y="73" width="66" height="2" fill="#fdf5f5"/>
<rect x="189" y="75" width="66" height="1" fill="#fdf8f8"/>
<rect x="189" y="76" width="66" height="3" fill="#fcfcfe"/>
<rect x="189" y="79" width="66" height="2" fill="#fafafd"/>
<rect x="189" y="81" width="66" height="3" fill="#ffffff"/>
<rect x="189" y="84" width="66" height="2" fill="#ffffff"/>
<rect x="189" y="86" width="66" height="1" fill="#fffefe"/>
<rect x="189" y="87" width="66" height="3" fill="#f9f9fc"/>
<rect x="189" y="90" width="66" height="2" fill="#f8f8fc"/>
<rect x="189" y="92" width="66" height="1" fill="#dadaec"/>
<rect x="189" y="93" width="66" height="1" fill="#ffffff"/>
<rect x="189" y="94" width="66" height="1" fill="#fbefef"/>
<rect x="189" y="95" width="66" height="1" fill="#fcfcfe"/>
<rect x="189" y="96" width="66" height="1" fill="#fdf6f6"/>
<rect x="189" y="97" width="66" height="3" fill="#fcf3f3"/>
<rect x="189" y="100" width="66" height="1" fill="#fbfbfd"/>
<rect x="189" y="101" width="66" height="1" fill="#fafafd"/>
<rect x="189" y="102" width="66" height="1" fill="#e8e8f4"/>
<rect x="189" y="103" width="66" height="1" fill="#e9e9f4"/>
<rect x="189" y="104" width="66" height="2" fill="#eaeaf4"/>
<rect x="189" y="106" width="66" height="1" fill="#f1f1f8"/>
<rect x="189" y="107" width="66" height="1" fill="#f5f5fa"/>
<rect x="189" y="108" width="66" height="2" fill="#ebebf5"/>
<rect x="189" y="110" width="66" height="1" fill="#2d2d97"/>
<rect x="189" y="111" width="66" height="2" fill="#252592"/>
<rect x="189" y="113" width="66" height="3" fill="#b5b5da"/>
<rect x="189" y="116" width="66" height="2" fill="#d3d3e9"/>
<rect x="189" y="118" width="66" height="2" fill="#e1e1f0"/>
<rect x="189" y="120" width="66" height="3" fill="#e7e7f3"/>
<rect x="189" y="123" width="66" height="1" fill="#dcdcee"/>
<rect x="189" y="124" width="66" height="1" fill="#e3e3f1"/>
<rect x="189" y="125" width="66" height="2" fill="#cbcbe5"/>
<rect x="189" y="127" width="66" height="2" fill="#cdcde6"/>
<rect x="189" y="129" width="66" height="1" fill="#c8c8e4"/>
<rect x="189" y="130" width="66" height="1" fill="#fcf1f1"/>
<rect x="189" y="131" width="66" height="3" fill="#fbefef"/>
<rect x="189" y="134" width="66" height="2" fill="#fdf7f7"/>
<rect x="189" y="136" width="66" height="1" fill="#fcf2f2"/>
<rect x="189" y="137" width="66" height="1" fill="#f9e5e5"/>
<rect x="189" y="138" width="66" height="1" fill="#fcf0f0"/>
<rect x="189" y="139" width="66" height="1" fill="#faebeb"/>
<rect x="189" y="140" width="66" height="1" fill="#fcf4f4"/>
<rect x="189" y="141" width="66" height="2" fill="#fffdfd"/>
<rect x="189" y="143" width="66" height="2" fill="#fcf3f3"/>
<rect x="189" y="145" width="66" height="1" fill="#fcf3f3"/>
<rect x="189" y="146" width="66" height="2" fill="#fbefef"/>
<rect x="189" y="148" width="66" height="2" fill="#fcf0f0"/>
<rect x="189" y="150" width="66" height="1" fill="#faeaea"/>
<rect x="189" y="151" width="66" height="3" fill="#f8dfdf"/>
<rect x="189" y="154" width="66" height="1" fill="#fcf1f1"/>
<rect x="189" y="155" width="66" height="1" fill="#fcf4f4"/>
<rect x="189" y="156" width="66" height="1" fill="#fcf3f3"/>
<rect x="189" y="157" width="66" height="2" fill="#f7dada"/>
<rect x="189" y="159" width="66" height="1" fill="#f4cece"/>
<rect x="189" y="160" width="66" height="1" fill="#f5d6d6"/>
<rect x="189" y="161" width="66" height="2" fill="#f7dddd"/>
<rect x="189" y="163" width="66" height="3" fill="#f8e1e1"/>
<rect x="189" y="166" width="66" height="1" fill="#fcf0f0"/>
<rect x="189" y="167" width="66" height="1" fill="#f6f6fb"/>
<rect x="189" y="168" width="66" height="1" fill="#f7f7fb"/>
<rect x="189" y="169" width="66" height="1" fill="#f9f9fc"/>
<rect x="189" y="170" width="66" height="2" fill="#efbcbc"/>
<rect x="189" y="172" width="66" height="2" fill="#ecadad"/>
<rect x="189" y="174" width="66" height="2" fill="#ebaaaa"/>
<rect x="189" y="176" width="66" height="3" fill="#eaa4a4"/>
<rect x="189" y="179" width="66" height="1" fill="#e9a0a0"/>
<rect x="189" y="180" width="66" height="1" fill="#df7474"/>
<rect x="189" y="181" width="66" height="1" fill="#fef9f9"/>
<rect x="189" y="182" width="66" height="1" fill="#fdf7f7"/>
<rect x="189" y="183" width="66" height="2" fill="#ffffff"/>
<rect x="189" y="185" width="66" height="2" fill="#fdf7f7"/>
<rect x="189" y="187" width="66" height="2" fill="#ababd5"/>
<rect x="189" y="189" width="66" height="1" fill="#9898cc"/>
<rect x="189" y="190" width="66" height="2" fill="#a7a7d3"/>
<rect x="189" y="192" width="66" height="1" fill="#bfbfdf"/>
<rect x="189" y="193" width="66" height="1" fill="#bbbbdd"/>
<rect x="189" y="194" width="66" height="1" fill="#b5b5da"/>
<rect x="189" y="195" width="66" height="1" fill="#d0d0e7"/>
<rect x="189" y="196" width="66" height="3" fill="#c9c9e4"/>
<rect x="189" y="199" width="66" height="2" fill="#f6d6d6"/>
<rect x="189" y="201" width="66" height="1" fill="#f8e2e2"/>
<rect x="189" y="202" width="66" height="1" fill="#f6d8d8"/>
<rect x="189" y="203" width="66" height="2" fill="#f3c9c9"/>
<rect x="189" y="205" width="66" height="2" fill="#f4d0d0"/>
<rect x="189" y="207" width="66" height="1" fill="#f3cbcb"/>
<rect x="189" y="208" width="66" height="2" fill="#f2c7c7"/>
<rect x="189" y="210" width="66" height="1" fill="#f1c3c3"/>
<rect x="189" y="211" width="66" height="2" fill="#f7dbdb"/>
<rect x="189" y="213" width="66" height="1" fill="#f7dbdb"/>
<rect x="189" y="214" width="66" height="2" fill="#f6d6d6"/>
<rect x="189" y="216" width="66" height="1" fill="#f8dfdf"/>
<rect x="189" y="217" width="66" height="1" fill="#f9e6e6"/>
<rect x="189" y="218" width="66" height="2" fill="#f2c6c6"/>
<rect x="189" y="220" width="66" height="1" fill="#f9e3e3"/>
<rect x="189" y="221" width="66" height="2" fill="#f7dddd"/>
<rect x="189" y="223" width="66" height="1" fill="#f7dbdb"/>
<rect x="189" y="224" width="66" height="2" fill="#f8e0e0"/>
<rect x="189" y="226" width="66" height="2" fill="#f7dddd"/>
<rect x="189" y="228" width="66" height="1" fill="#f5d3d3"/>
<rect x="189" y="229" width="66" height="1" fill="#f7dbdb"/>
<rect x="189" y="230" width="66" height="1" fill="#ffffff"/>
<rect x="189" y="231" width="66" height="2" fill="#fefefe"/>
<rect x="189" y="233" width="66" height="2" fill="#fefefe"/>
<rect x="189" y="235" width="66" height="2" fill="#fefcfc"/>
<rect x="189" y="237" width="66" height="1" fill="#fefefe"/>
<rect x="189" y="238" width="66" height="1" fill="#fefafa"/>
<rect x="189" y="239" width="66" height="2" fill="#fef9f9"/>
<rect x="189" y="241" width="66" height="2" fill="#fef9f9"/>
<rect x="189" y="243" width="66" height="2" fill="#e2e2f1"/>
<rect x="189" y="245" width="66" height="1" fill="#fdfdfe"/>
<rect x="189" y="246" width="66" height="1" fill="#fefeff"/>
<rect x="189" y="247" width="66" height="2" fill="#fbfbfd"/>
<rect x="189" y="249" width="66" height="2" fill="#fcfcfe"/>
<rect x="189" y="251" width="66" height="1" fill="#f8f8fb"/>
<rect x="189" y="252" width="66" height="1" fill="#f6f6fa"/>
<rect x="189" y="253" width="66" height="1" fill="#f6f6fa"/>
<rect x="189" y="254" width="66" height="2" fill="#f8f8fc"/>
<rect x="189" y="256" width="66" height="2" fill="#fbfbfd"/>
<rect x="189" y="258" width="66" height="1" fill="#fffdfd"/>
<rect x="189" y="259" width="66" height="2" fill="#fefeff"/>
<rect x="189" y="261" width="66" height="2" fill="#fefefe"/>
<rect x="189" y="263" width="66" height="1" fill="#fcfcfe"/>
<rect x="189" y="264" width="66" height="1" fill="#fcfcfd"/>
<rect x="189" y="265" width="66" height="2" fill="#f9f9fc"/>
<rect x="189" y="267" width="66" height="1" fill="#fcfcfe"/>
<rect x="189" y="268" width="66" height="1" fill="#fbfbfd"/>
<rect x="189" y="269" width="66" height="2" fill="#fafafd"/>
<rect x="189" y="271" width="66" height="2" fill="#fafafd"/>
<rect x="189" y="273" width="66" height="1" fill="#fafafd"/>
<rect x="189" y="274" width="66" height="1" fill="#fbfbfd"/>
<rect x="189" y="275" width="66" height="1" fill="#fffdfd"/>
<rect x="189" y="276" width="66" height="1" fill="#fffdfd"/>
<rect x="189" y="277" width="66" height="1" fill="#fefdfd"/>
<rect x="189" y="278" width="66" height="3" fill="#fef9f9"/>
<rect x="189" y="281" width="66" height="1" fill="#fbeded"/>
<rect x="189" y="282" width="66" height="2" fill="#fbeded"/>
<rect x="189" y="284" width="66" height="2" fill="#f7dada"/>
<rect x="189" y="286" width="66" height="1" fill="#faebeb"/>
<rect x="189" y="287" width="66" height="2" fill="#f9e3e3"/>
<rect x="189" y="289" width="66" height="2" fill="#f8e2e2"/>
<rect x="189" y="291" width="66" height="2" fill="#fffdfd"/>
<rect x="189" y="293" width="66" height="2" fill="#fefbfb"/>
<rect x="189" y="295" width="66" height="1" fill="#fefcfc"/>
<rect x="189" y="296" width="66" height="3" fill="#c8c8e3"/>
<rect x="189" y="299" width="66" height="2" fill="#bcbcde"/>
<rect x="189" y="301" width="66" height="2" fill="#b4b4d9"/>
<rect x="189" y="303" width="66" height="1" fill="#b6b6db"/>
<rect x="189" y="304" width="66" height="1" fill="#b6b6da"/>
<rect x="189" y="305" width="66" height="1" fill="#f0f0f7"/>
<rect x="189" y="306" width="66" height="1" fill="#f7f7fb"/>
<rect x="189" y="307" width="66" height="2" fill="#fafafc"/>
<rect x="189" y="309" width="66" height="1" fill="#f5f5fa"/>
<rect x="189" y="310" width="66" height="2" fill="#fdf7f7"/>
<rect x="189" y="312" width="66" height="2" fill="#ffffff"/>
<rect x="189" y="314" width="66" height="2" fill="#fefeff"/>
<rect x="189" y="316" width="66" height="1" fill="#f9f9fc"/>
<rect x="189" y="317" width="66" height="1" fill="#fefeff"/>
<rect x="189" y="318" width="66" height="2" fill="#fefefe"/>
<rect x="189" y="320" width="66" height="2" fill="#ececf5"/>
<rect x="189" y="322" width="66" height="2" fill="#e8e8f4"/>
<rect x="189" y="324" width="66" height="2" fill="#eaeaf5"/>
<rect x="189" y="326" width="66" height="1" fill="#ffffff"/>
<rect x="189" y="327" width="66" height="1" fill="#fdf5f5"/>
<rect x="189" y="328" width="66" height="1" fill="#fffdfd"/>
<rect x="189" y="329" width="66" height="3" fill="#fefafa"/>
<rect x="189" y="332" width="66" height="2" fill="#fffefe"/>
<rect x="189" y="334" width="66" height="1" fill="#fefcfc"/>
<rect x="189" y="335" width="66" height="3" fill="#f6f6fa"/>
<rect x="189" y="338" width="66" height="1" fill="#f1f1f8"/>
<rect x="189" y="339" width="66" height="1" fill="#f0f0f8"/>
<rect x="189" y="340" width="66" height="1" fill="#f7f7fb"/>
<rect x="189" y="341" width="66" height="1" fill="#f6f6fa"/>
<rect x="189" y="342" width="66" height="2" fill="#fefbfb"/>
<rect x="189" y="344" width="66" height="1" fill="#f8f8fb"/>
<rect x="189" y="345" width="66" height="1" fill="#fefefe"/>
<rect x="189" y="346" width="66" height="3" fill="#fcfcfd"/>
<rect x="189" y="349" width="66" height="2" fill="#fefeff"/>
<rect x="189" y="351" width="66" height="1" fill="#fef9f9"/>
<rect x="189" y="352" width="66" height="2" fill="#fdf7f7"/>
<rect x="189" y="354" width="66" height="2" fill="#fdf5f5"/>
<rect x="189" y="356" width="66" height="2" fill="#fefbfb"/>
<rect x="189" y="358" width="66" height="3" fill="#fcf3f3"/>
<rect x="189" y="361" width="66" height="1" fill="#fcf2f2"/>
<rect x="189" y="362" width="66" height="1" fill="#fefbfb"/>
<rect x="189" y="363" width="66" height="1" fill="#fef9f9"/>
<rect x="189" y="364" width="66" height="1" fill="#fefcfc"/>
<rect x="189" y="365" width="66" height="2" fill="#fdf6f6"/>
<rect x="189" y="367" width="66" height="1" fill="#fafafc"/>
<rect x="189" y="368" width="66" height="2" fill="#fbfbfd"/>
<rect x="189" y="370" width="66" height="3" fill="#fefefe"/>
<rect x="189" y="373" width="66" height="2" fill="#fffdfd"/>
<rect x="189" y="375" width="66" height="3" fill="#fdf6f6"/>
<rect x="189" y="378" width="66" height="1" fill="#f7dbdb"/>
<rect x="189" y="379" width="66" height="2" fill="#f7dede"/>
<rect x="189" y="381" width="66" height="2" fill="#fbefef"/>
<rect x="189" y="383" width="66" height="2" fill="#fdf8f8"/>
<rect x="189" y="385" width="66" height="2" fill="#fcf0f0"/>
<rect x="189" y="387" width="66" height="2" fill="#faebeb"/>
<rect x="189" y="389" width="66" height="2" fill="#fcf2f2"/>
<rect x="189" y="391" width="66" height="3" fill="#fae9e9"/>
<rect x="189" y="394" width="66" height="2" fill="#f8e0e0"/>
<rect x="189" y="396" width="66" height="1" fill="#f8e1e1"/>
<rect x="189" y="397" width="66" height="1" fill="#faeaea"/>
<rect x="189" y="398" width="66" height="2" fill="#f7dddd"/>
<rect x="189" y="400" width="66" height="2" fill="#fbf0f0"/>
<rect x="189" y="402" width="66" height="1" fill="#fbf0f0"/>
<rect x="189" y="403" width="66" height="2" fill="#fcf3f3"/>
<rect x="189" y="405" width="66" height="1" fill="#fbefef"/>
<rect x="189" y="406" width="66" height="2" fill="#f9e5e5"/>
<rect x="189" y="408" width="66" height="3" fill="#faeaea"/>
<rect x="189" y="411" width="66" height="2" fill="#f6d7d7"/>
<rect x="189" y="413" width="66" height="2" fill="#f6d8d8"/>
<rect x="189" y="415" width="66" height="3" fill="#f4d0d0"/>
<rect x="189" y="418" width="66" height="2" fill="#f3caca"/>
<rect x="189" y="420" width="66" height="2" fill="#f4d1d1"/>
<rect x="189" y="422" width="66" height="1" fill="#f4d1d1"/>
<rect x="189" y="423" width="66" height="1" fill="#f0bfbf"/>
<rect x="189" y="424" width="66" height="3" fill="#f1c3c3"/>
<rect x="189" y="427" width="66" height="1" fill="#f4d0d0"/>
<rect x="189" y="428" width="66" height="2" fill="#fefafa"/>
<rect x="189" y="430" width="66" height="1" fill="#fefeff"/>
<rect x="189" y="431" width="66" height="2" fill="#fefcfc"/>
<rect x="189" y="433" width="66" height="1" fill="#fdfdfe"/>
<rect x="189" y="434" width="66" height="2" fill="#ffffff"/>
<rect x="189" y="436" width="66" height="1" fill="#fdfdfe"/>
<rect x="189" y="437" width="66" height="1" fill="#fcfcfe"/>
<rect x="189" y="438" width="66" height="1" fill="#fdfdfe"/>
<rect x="189" y="439" width="66" height="3" fill="#f8f8fb"/>
<rect x="189" y="442" width="66" height="1" fill="#fefeff"/>
<rect x="189" y="443" width="66" height="1" fill="#ffffff"/>
<rect x="189" y="444" width="66" height="3" fill="#eaeaf5"/>
<rect x="189" y="447" width="66" height="1" fill="#f0f0f8"/>
<rect x="189" y="448" width="66" height="2" fill="#fffefe"/>
<rect x="189" y="450" width="66" height="2" fill="#fdf5f5"/>
<rect x="189" y="452" width="66" height="1" fill="#fefdfd"/>
<rect x="189" y="453" width="66" height="2" fill="#fffefe"/>
<rect x="189" y="455" width="66" height="2" fill="#fefefe"/>
<rect x="189" y="457" width="66" height="1" fill="#fffefe"/>
<rect x="189" y="458" width="66" height="1" fill="#fefcfc"/>
<rect x="189" y="459" width="66" height="3" fill="#ffffff"/>
<rect x="189" y="462" width="66" height="1" fill="#fffdfd"/>
<rect x="189" y="463" width="66" height="1" fill="#fcfcfe"/>
<rect x="189" y="464" width="66" height="2" fill="#fdfdfe"/>
<rect x="189" y="466" width="66" height="2" fill="#fefcfc"/>
<rect x="189" y="468" width="66" height="2" fill="#fffefe"/>
<rect x="189" y="470" width="66" height="1" fill="#ffffff"/>
<rect x="189" y="471" width="66" height="1" fill="#fcf0f0"/>
<rect x="189" y="472" width="66" height="3" fill="#fdfdfe"/>
<rect x="189" y="475" width="66" height="1" fill="#fdf8f8"/>
<rect x="189" y="476" width="66" height="2" fill="#f8f8fc"/>
<rect x="189" y="478" width="66" height="2" fill="#fefcfc"/>
<rect x="189" y="480" width="66" height="2" fill="#f5f5fa"/>
<rect x="189" y="482" width="66" height="1" fill="#eeeef7"/>
<rect x="189" y="483" width="66" height="1" fill="#fdf5f5"/>
<rect x="189" y="484" width="66" height="2" fill="#fdf6f6"/>
<rect x="189" y="486" width="66" height="2" fill="#fefbfb"/>
<rect x="189" y="488" width="66" height="2" fill="#fcf3f3"/>
<rect x="189" y="490" width="66" height="3" fill="#fdf6f6"/>
<rect x="189" y="493" width="66" height="2" fill="#fdf6f6"/>
<rect x="189" y="495" width="66" height="3" fill="#fbeded"/>
<rect x="189" y="498" width="66" height="3" fill="#f9f9fc"/>
<rect x="189" y="501" width="66" height="2" fill="#f8f8fc"/>
<rect x="189" y="503" width="66" height="1" fill="#fefeff"/>
<rect x="189" y="504" width="66" height="2" fill="#fcfcfd"/>
<rect x="189" y="506" width="66" height="1" fill="#fbfbfd"/>
<rect x="189" y="507" width="66" height="3" fill="#fafafc"/>
<rect x="189" y="510" width="66" height="1" fill="#fbfbfd"/>
<rect x="189" y="511" width="66" height="3" fill="#fdfdfe"/>
<rect x="189" y="514" width="66" height="2" fill="#fefdfd"/>
<rect x="189" y="516" width="66" height="1" fill="#fefbfb"/>
<rect x="189" y="517" width="66" height="1" fill="#fefbfb"/>
<rect x="189" y="518" width="66" height="2" fill="#f9e6e6"/>
<rect x="189" y="520" width="66" height="2" fill="#f9e3e3"/>
<rect x="189" y="522" width="66" height="2" fill="#faebeb"/>
<rect x="189" y="524" width="66" height="3" fill="#f8e1e1"/>
<rect x="189" y="527" width="66" height="2" fill="#fae8e8"/>
<rect x="189" y="529" width="66" height="3" fill="#f0f0f7"/>
<rect x="189" y="532" width="66" height="2" fill="#fcf1f1"/>
<rect x="189" y="534" width="66" height="1" fill="#fcf3f3"/>
<rect x="189" y="535" width="66" height="1" fill="#fcf2f2"/>
<rect x="189" y="536" width="66" height="1" fill="#fdf7f7"/>
<rect x="189" y="537" width="66" height="1" fill="#fdf8f8"/>
<rect x="189" y="538" width="66" height="3" fill="#fefbfb"/>
<rect x="189" y="541" width="66" height="1" fill="#fbfbfd"/>
<rect x="189" y="542" width="66" height="2" fill="#fcf1f1"/>
<rect x="189" y="544" width="66" height="1" fill="#fbefef"/>
<rect x="189" y="545" width="66" height="1" fill="#fdf7f7"/>
<rect x="189" y="546" width="66" height="1" fill="#fdf8f8"/>
<rect x="189" y="547" width="66" height="1" fill="#faebeb"/>
<rect x="189" y="548" width="66" height="2" fill="#fcf1f1"/>
<rect x="189" y="550" width="66" height="1" fill="#fdf5f5"/>
<rect x="189" y="551" width="66" height="1" fill="#fae7e7"/>
<rect x="189" y="552" width="66" height="1" fill="#fcf0f0"/>
<rect x="189" y="553" width="66" height="3" fill="#f9e5e5"/>
<rect x="189" y="556" width="66" height="1" fill="#fae9e9"/>
<rect x="189" y="557" width="66" height="3" fill="#f9e5e5"/>
<rect x="189" y="560" width="66" height="1" fill="#f8e1e1"/>
<rect x="189" y="561" width="66" height="2" fill="#f9e4e4"/>
<rect x="189" y="563" width="66" height="2" fill="#faeaea"/>
<rect x="189" y="565" width="66" height="1" fill="#f8e0e0"/>
<rect x="189" y="566" width="66" height="2" fill="#f8dfdf"/>
<rect x="189" y="568" width="66" height="2" fill="#f7dede"/>
<rect x="189" y="570" width="66" height="3" fill="#fdf6f6"/>
<rect x="189" y="573" width="66" height="1" fill="#fbefef"/>
<rect x="189" y="574" width="66" height="3" fill="#faeaea"/>
<rect x="189" y="577" width="66" height="2" fill="#f9e6e6"/>
<rect x="189" y="579" width="66" height="2" fill="#f7dddd"/>
<rect x="189" y="581" width="66" height="2" fill="#f7dada"/>
<rect x="189" y="583" width="66" height="2" fill="#f1c4c4"/>
<rect x="189" y="585" width="66" height="2" fill="#fae8e8"/>
<rect x="189" y="587" width="66" height="3" fill="#faebeb"/>
<rect x="189" y="590" width="66" height="1" fill="#f8e1e1"/>
<rect x="189" y="591" width="66" height="1" fill="#fbeded"/>
<rect x="189" y="592" width="66" height="2" fill="#fcf4f4"/>
<rect x="189" y="594" width="66" height="1" fill="#fefafa"/>
<rect x="189" y="595" width="66" height="2" fill="#fafafc"/>
<rect x="189" y="597" width="66" height="2" fill="#fefafa"/>
<rect x="189" y="599" width="66" height="1" fill="#fdf5f5"/>
<rect x="189" y="600" width="66" height="2" fill="#fbfbfd"/>
<rect x="189" y="602" width="66" height="1" fill="#fbfbfd"/>
<rect x="189" y="603" width="66" height="3" fill="#fafafd"/>
<rect x="189" y="606" width="66" height="1" fill="#f0f0f8"/>
<rect x="189" y="607" width="66" height="2" fill="#e9e9f4"/>
<rect x="189" y="609" width="66" height="1" fill="#e7e7f3"/>
<rect x="189" y="610" width="66" height="2" fill="#fafafd"/>
<rect x="189" y="612" width="66" height="1" fill="#fefeff"/>
<rect x="189" y="613" width="66" height="2" fill="#f8f8fb"/>
<rect x="189" y="615" width="66" height="2" fill="#ebebf5"/>
<rect x="189" y="617" width="66" height="1" fill="#ffffff"/>
<rect x="189" y="618" width="66" height="2" fill="#ffffff"/>
<rect x="189" y="620" width="66" height="1" fill="#fefafa"/>
<rect x="189" y="621" width="66" height="1" fill="#fbfbfd"/>
<rect x="189" y="622" width="66" height="1" fill="#f3f3f9"/>
<rect x="189" y="623" width="66" height="2" fill="#f6f6fa"/>
<rect x="189" y="625" width="66" height="1" fill="#e2e2f0"/>
<rect x="189" y="626" width="66" height="1" fill="#dcdced"/>
<rect x="189" y="627" width="66" height="1" fill="#f3f3f9"/>
<rect x="189" y="628" width="66" height="1" fill="#f5f5fa"/>
<rect x="189" y="629" width="66" height="1" fill="#fafafc"/>
<rect x="189" y="630" width="66" height="1" fill="#fbeded"/>
<rect x="189" y="631" width="66" height="2" fill="#fdf5f5"/>
<rect x="189" y="633" width="66" height="2" fill="#fcf0f0"/>
<rect x="189" y="635" width="66" height="1" fill="#fbecec"/>
<rect x="189" y="636" width="66" height="1" fill="#f9e4e4"/>
<rect x="189" y="637" width="66" height="3" fill="#fbeded"/>
<rect x="189" y="640" width="66" height="3" fill="#f4d1d1"/>
<rect x="189" y="643" width="66" height="3" fill="#fefdfd"/>
<rect x="189" y="646" width="66" height="1" fill="#fafafd"/>
<rect x="189" y="647" width="66" height="3" fill="#f5f5fa"/>
<rect x="189" y="650" width="66" height="1" fill="#fbfbfd"/>
<rect x="189" y="651" width="66" height="1" fill="#ededf6"/>
<rect x="189" y="652" width="66" height="1" fill="#f7f7fb"/>
<rect x="189" y="653" width="66" height="2" fill="#f2f2f9"/>
<rect x="189" y="655" width="66" height="2" fill="#fffefe"/>
<rect x="189" y="657" width="66" height="2" fill="#fbecec"/>
<rect x="189" y="659" width="66" height="2" fill="#fdf6f6"/>
<rect x="189" y="661" width="66" height="1" fill="#fef9f9"/>
<rect x="189" y="662" width="66" height="3" fill="#fae9e9"/>
<rect x="189" y="665" width="66" height="3" fill="#fcf2f2"/>
<rect x="189" y="668" width="66" height="2" fill="#fefafa"/>
<rect x="189" y="670" width="66" height="2" fill="#fcf2f2"/>
<rect x="189" y="672" width="66" height="2" fill="#fae9e9"/>
<rect x="189" y="674" width="66" height="1" fill="#fefdfd"/>
<rect x="189" y="675" width="66" height="2" fill="#fefafa"/>
<rect x="189" y="677" width="66" height="3" fill="#ffffff"/>
<rect x="189" y="680" width="66" height="1" fill="#fef9f9"/>
<rect x="189" y="681" width="66" height="1" fill="#fdf5f5"/>
<rect x="189" y="682" width="66" height="2" fill="#fcf3f3"/>
<rect x="189" y="684" width="66" height="2" fill="#fbeeee"/>
<rect x="189" y="686" width="66" height="1" fill="#fbefef"/>
<rect x="189" y="687" width="66" height="2" fill="#fcf0f0"/>
<rect x="189" y="689" width="66" height="2" fill="#faeaea"/>
<rect x="189" y="691" width="66" height="3" fill="#f6d8d8"/>
<rect x="189" y="694" width="66" height="3" fill="#fbeeee"/>
<rect x="189" y="697" width="66" height="2" fill="#fefefe"/>
<rect x="189" y="699" width="66" height="2" fill="#fef9f9"/>
<rect x="189" y="701" width="66" height="1" fill="#fef9f9"/>
<rect x="189" y="702" width="66" height="1" fill="#fffdfd"/>
<rect x="189" y="703" width="66" height="3" fill="#fefdfd"/>
<rect x="189" y="706" width="66" height="2" fill="#f0f0f7"/>
<rect x="189" y="708" width="66" height="2" fill="#fafafc"/>
<rect x="189" y="710" width="66" height="1" fill="#d1d1e8"/>
<rect x="189" y="711" width="66" height="1" fill="#d8d8eb"/>
<rect x="189" y="712" width="66" height="1" fill="#e6e6f2"/>
<rect x="189" y="713" width="66" height="2" fill="#e8e8f4"/>
<rect x="189" y="715" width="66" height="1" fill="#d8d8eb"/>
<rect x="189" y="716" width="66" height="3" fill="#d8d8ec"/>
<rect x="189" y="719" width="66" height="1" fill="#dfdfef"/>
<rect x="189" y="720" width="66" height="1" fill="#ddddee"/>
<rect x="189" y="721" width="66" height="3" fill="#f2f2f8"/>
<rect x="189" y="724" width="66" height="1" fill="#e0e0f0"/>
<rect x="189" y="725" width="66" height="2" fill="#d5d5ea"/>
<rect x="189" y="727" width="66" height="2" fill="#e7e7f3"/>
<rect x="189" y="729" width="66" height="2" fill="#d9d9ec"/>
<rect x="189" y="731" width="66" height="2" fill="#cdcde6"/>
<rect x="189" y="733" width="66" height="2" fill="#fae9e9"/>
<rect x="189" y="735" width="66" height="1" fill="#fbeeee"/>
<rect x="189" y="736" width="66" height="1" fill="#fbeded"/>
<rect x="189" y="737" width="66" height="2" fill="#fbefef"/>
<rect x="189" y="739" width="66" height="3" fill="#faeaea"/>
<rect x="189" y="742" width="66" height="3" fill="#faebeb"/>
<rect x="189" y="745" width="66" height="2" fill="#f8e1e1"/>
<rect x="189" y="747" width="66" height="1" fill="#fae9e9"/>
<rect x="189" y="748" width="66" height="3" fill="#f0f0f8"/>
<rect x="189" y="751" width="66" height="2" fill="#f3f3f9"/>
<rect x="189" y="753" width="66" height="2" fill="#ececf5"/>
<rect x="189" y="755" width="66" height="2" fill="#dcdcee"/>
<rect x="189" y="757" width="66" height="2" fill="#dedeee"/>
<rect x="189" y="759" width="66" height="1" fill="#d6d6eb"/>
<rect x="189" y="760" width="66" height="2" fill="#dedeee"/>
<rect x="189" y="762" width="66" height="1" fill="#e0e0ef"/>
<rect x="189" y="763" width="66" height="3" fill="#fdfdfe"/>
<rect x="189" y="766" width="66" height="1" fill="#fafafd"/>
<rect x="189" y="767" width="66" height="1" fill="#fbfbfd"/>
<rect x="189" y="768" width="66" height="1" fill="#f2f2f8"/>
<rect x="189" y="769" width="66" height="1" fill="#e7e7f3"/>
<rect x="189" y="770" width="66" height="1" fill="#eaeaf5"/>
<rect x="189" y="771" width="66" height="2" fill="#fefafa"/>
<rect x="189" y="773" width="66" height="2" fill="#fbfbfd"/>
<rect x="189" y="775" width="66" height="3" fill="#ffffff"/>
<rect x="189" y="778" width="66" height="1" fill="#fdf8f8"/>
<rect x="189" y="779" width="66" height="1" fill="#fef9f9"/>
<rect x="189" y="780" width="66" height="1" fill="#fefbfb"/>
<rect x="189" y="781" width="66" height="2" fill="#fbecec"/>
<rect x="189" y="783" width="66" height="2" fill="#fefbfb"/>
<rect x="189" y="785" width="66" height="2" fill="#fdf5f5"/>
<rect x="189" y="787" width="66" height="2" fill="#fffefe"/>
<rect x="189" y="789" width="66" height="1" fill="#fffdfd"/>
<rect x="189" y="790" width="66" height="1" fill="#fcf2f2"/>
<rect x="189" y="791" width="66" height="1" fill="#fdf6f6"/>
<rect x="189" y="792" width="66" height="2" fill="#fffefe"/>
<rect x="189" y="794" width="66" height="2" fill="#ffffff"/>
<rect x="189" y="796" width="66" height="1" fill="#fefbfb"/>
<rect x="189" y="797" width="66" height="1" fill="#fdf7f7"/>
<rect x="189" y="798" width="66" height="3" fill="#fefbfb"/>
<rect x="189" y="801" width="66" height="2" fill="#fefcfc"/>
<rect x="189" y="803" width="66" height="1" fill="#fefcfc"/>
<rect x="189" y="804" width="66" height="1" fill="#fdfdfe"/>
<rect x="189" y="805" width="66" height="2" fill="#fffefe"/>
<rect x="189" y="807" width="66" height="2" fill="#fef9f9"/>
<rect x="189" y="809" width="66" height="2" fill="#fef9f9"/>
<rect x="189" y="811" width="66" height="1" fill="#ffffff"/>
<rect x="189" y="812" width="66" height="3" fill="#fefdfd"/>
<rect x="189" y="815" width="66" height="1" fill="#fefafa"/>
<rect x="189" y="816" width="66" height="1" fill="#fdf8f8"/>
<rect x="189" y="817" width="66" height="1" fill="#f8f8fc"/>
<rect x="189" y="818" width="66" height="2" fill="#fdf6f6"/>
<rect x="189" y="820" width="66" height="1" fill="#fcf2f2"/>
<rect x="189" y="821" width="66" height="2" fill="#fefcfc"/>
<rect x="189" y="823" width="66" height="2" fill="#fbeeee"/>
<rect x="189" y="825" width="66" height="3" fill="#fbefef"/>
<rect x="189" y="828" width="66" height="1" fill="#fcf3f3"/>
<rect x="189" y="829" width="66" height="1" fill="#fdf6f6"/>
<rect x="189" y="830" width="66" height="3" fill="#fdf6f6"/>
<rect x="189" y="833" width="66" height="1" fill="#fefcfc"/>
<rect x="189" y="834" width="66" height="2" fill="#fefcfc"/>
<rect x="189" y="836" width="66" height="2" fill="#f1f1f8"/>
<rect x="189" y="838" width="66" height="1" fill="#faebeb"/>
<rect x="189" y="839" width="66" height="1" fill="#fdf7f7"/>
<rect x="189" y="840" width="66" height="1" fill="#fef9f9"/>
<rect x="189" y="841" width="66" height="2" fill="#fef9f9"/>
<rect x="189" y="843" width="66" height="2" fill="#fcf2f2"/>
<rect x="189" y="845" width="66" height="1" fill="#fbeeee"/>
<rect x="189" y="846" width="66" height="1" fill="#fbefef"/>
<rect x="189" y="847" width="66" height="2" fill="#fcf4f4"/>
<rect x="189" y="849" width="66" height="3" fill="#fcf3f3"/>
<rect x="189" y="852" width="66" height="2" fill="#fbeded"/>
<rect x="189" y="854" width="66" height="1" fill="#fbefef"/>
<rect x="189" y="855" width="66" height="2" fill="#e2e2f1"/>
<rect x="189" y="857" width="66" height="1" fill="#fdf8f8"/>
<rect x="189" y="858" width="66" height="1" fill="#fdf4f4"/>
<rect x="189" y="859" width="66" height="3" fill="#fcf3f3"/>
<rect x="189" y="862" width="66" height="2" fill="#fefcfc"/>
<rect x="189" y="864" width="66" height="2" fill="#fcf2f2"/>
<rect x="189" y="866" width="66" height="2" fill="#fdf6f6"/>
<rect x="189" y="868" width="66" height="2" fill="#fdf8f8"/>
<rect x="189" y="870" width="66" height="1" fill="#fefcfc"/>
<rect x="189" y="871" width="66" height="2" fill="#fefeff"/>
<rect x="189" y="873" width="66" height="1" fill="#fefcfc"/>
<rect x="189" y="874" width="66" height="2" fill="#fefbfb"/>
<rect x="189" y="876" width="66" height="2" fill="#fcf4f4"/>
<rect x="189" y="878" width="66" height="3" fill="#fefefe"/>
<rect x="189" y="881" width="66" height="3" fill="#f9f9fc"/>
<rect x="189" y="884" width="66" height="2" fill="#fcfcfe"/>
<rect x="189" y="886" width="66" height="2" fill="#f5f5fa"/>
<rect x="189" y="888" width="66" height="2" fill="#fafafd"/>
<rect x="189" y="890" width="66" height="1" fill="#f6f6fa"/>
<rect x="189" y="891" width="66" height="1" fill="#fbfbfd"/>
<rect x="189" y="892" width="66" height="2" fill="#fdfdfe"/>
<rect x="189" y="894" width="66" height="2" fill="#fcf2f2"/>
<rect x="189" y="896" width="66" height="1" fill="#fefafa"/>
<rect x="189" y="897" width="66" height="3" fill="#f5f5fa"/>
<rect x="189" y="900" width="66" height="2" fill="#fcfcfe"/>
<rect x="189" y="902" width="66" height="2" fill="#fefefe"/>
<rect x="189" y="904" width="66" height="1" fill="#fefeff"/>
<rect x="189" y="905" width="66" height="1" fill="#f0f0f8"/>
<rect x="189" y="906" width="66" height="2" fill="#cecee6"/>
<rect x="189" y="908" width="66" height="1" fill="#cccce6"/>
<rect x="189" y="909" width="66" height="2" fill="#f2f2f9"/>
<rect x="189" y="911" width="66" height="1" fill="#f0f0f7"/>
<rect x="189" y="912" width="66" height="2" fill="#fcf4f4"/>
<rect x="189" y="914" width="66" height="2" fill="#fcf3f3"/>
<rect x="189" y="916" width="66" height="1" fill="#fefbfb"/>
<rect x="189" y="917" width="66" height="1" fill="#fdf4f4"/>
<rect x="189" y="918" width="66" height="2" fill="#fcf2f2"/>
<rect x="189" y="920" width="66" height="1" fill="#fae8e8"/>
<rect x="189" y="921" width="66" height="2" fill="#faeaea"/>
<rect x="189" y="923" width="66" height="2" fill="#fdf7f7"/>
<rect x="189" y="925" width="66" height="1" fill="#fefafa"/>
<rect x="189" y="926" width="66" height="1" fill="#fdfdfe"/>
<rect x="189" y="927" width="66" height="1" fill="#fef9f9"/>
<rect x="189" y="928" width="66" height="2" fill="#ffffff"/>
<rect x="189" y="930" width="66" height="1" fill="#fdf7f7"/>
<rect x="189" y="931" width="66" height="3" fill="#fffdfd"/>
<rect x="189" y="934" width="66" height="1" fill="#fefefe"/>
<rect x="189" y="935" width="66" height="2" fill="#fefbfb"/>
<rect x="189" y="937" width="66" height="2" fill="#fdfdfe"/>
<rect x="189" y="939" width="66" height="1" fill="#fdf5f5"/>
<rect x="189" y="940" width="66" height="3" fill="#fefcfc"/>
<rect x="189" y="943" width="66" height="1" fill="#f9f9fc"/>
<rect x="189" y="944" width="66" height="1" fill="#fefeff"/>
<rect x="189" y="945" width="66" height="2" fill="#fdf5f5"/>
<rect x="189" y="947" width="66" height="3" fill="#fefcfc"/>
<rect x="189" y="950" width="66" height="3" fill="#fcf3f3"/>
<rect x="189" y="953" width="66" height="1" fill="#fdf5f5"/>
<rect x="189" y="954" width="66" height="2" fill="#fdfdfe"/>
<rect x="189" y="956" width="66" height="2" fill="#fdf5f5"/>
<rect x="189" y="958" width="66" height="3" fill="#fae9e9"/>
<rect x="189" y="961" width="66" height="1" fill="#fef9f9"/>
<rect x="189" y="962" width="66" height="2" fill="#fefbfb"/>
<rect x="189" y="964" width="66" height="2" fill="#fefcfc"/>
<rect x="189" y="966" width="66" height="2" fill="#fefcfc"/>
<rect x="189" y="968" width="66" height="3" fill="#fdf7f7"/>
<rect x="189" y="971" width="66" height="2" fill="#fcf0f0"/>
<rect x="189" y="973" width="66" height="1" fill="#fae9e9"/>
<rect x="189" y="974" width="66" height="1" fill="#fcf2f2"/>
<rect x="189" y="975" width="66" height="1" fill="#fdf7f7"/>
<rect x="189" y="976" width="66" height="1" fill="#fefbfb"/>
<rect x="189" y="977" width="66" height="2" fill="#fcfcfd"/>
<rect x="189" y="979" width="66" height="2" fill="#fefbfb"/>
<rect x="189" y="981" width="66" height="1" fill="#fcf4f4"/>
<rect x="189" y="982" width="66" height="2" fill="#fcf2f2"/>
<rect x="189" y="984" width="66" height="1" fill="#fdf4f4"/>
<rect x="189" y="985" width="66" height="3" fill="#fcf0f0"/>
<rect x="189" y="988" width="66" height="3" fill="#fdf6f6"/>
<rect x="189" y="991" width="66" height="2" fill="#fbeded"/>
<rect x="189" y="993" width="66" height="2" fill="#fdf7f7"/>
<rect x="189" y="995" width="66" height="2" fill="#fefefe"/>
<rect x="189" y="997" width="66" height="1" fill="#fbfbfd"/>
<rect x="189" y="998" width="66" height="2" fill="#fef9f9"/>
<rect x="189" y="1000" width="66" height="1" fill="#fdf5f5"/>
<rect x="189" y="1001" width="66" height="2" fill="#fbeeee"/>
<rect x="189" y="1003" width="66" height="2" fill="#fcf2f2"/>
<rect x="189" y="1005" width="66" height="2" fill="#faeaea"/>
<rect x="189" y="1007" width="66" height="1" fill="#fbecec"/>
<rect x="189" y="1008" width="66" height="2" fill="#fcf1f1"/>
<rect x="189" y="1010" width="66" height="2" fill="#fcfcfe"/>
<rect x="189" y="1012" width="66" height="1" fill="#fbfbfd"/>
<rect x="189" y="1013" width="66" height="1" fill="#fefefe"/>
<rect x="189" y="1014" width="66" height="3" fill="#fcf4f4"/>
<rect x="189" y="1017" width="66" height="3" fill="#fcf3f3"/>
<rect x="189" y="1020" width="66" height="2" fill="#fefbfb"/>
<rect x="189" y="1022" width="66" height="1" fill="#fdf7f7"/>
<rect x="189" y="1023" width="66" height="3" fill="#fcf4f4"/>
<rect x="189" y="1026" width="66" height="3" fill="#fcf2f2"/>
<rect x="189" y="1029" width="66" height="2" fill="#ffffff"/>
<rect x="189" y="1031" width="66" height="2" fill="#f7f7fb"/>
<rect x="189" y="1033" width="66" height="1" fill="#fcfcfe"/>
<rect x="189" y="1034" width="66" height="1" fill="#fdf6f6"/>
<rect x="189" y="1035" width="66" height="3" fill="#fcf4f4"/>
<rect x="189" y="1038" width="66" height="2" fill="#fdf6f6"/>
<rect x="189" y="1040" width="66" height="3" fill="#e9e9f4"/>
<rect x="189" y="1043" width="66" height="2" fill="#f4f4f9"/>
<rect x="189" y="1045" width="66" height="2" fill="#f7f7fb"/>
<rect x="189" y="1047" width="66" height="1" fill="#fafafd"/>
<rect x="189" y="1048" width="66" height="3" fill="#fffefe"/>
<rect x="189" y="1051" width="66" height="1" fill="#fefafa"/>
<rect x="189" y="1052" width="66" height="1" fill="#fdf5f5"/>
<rect x="189" y="1053" width="66" height="2" fill="#f6f6fb"/>
<rect x="189" y="1055" width="66" height="1" fill="#eeeef7"/>
<rect x="189" y="1056" width="66" height="2" fill="#f7f7fb"/>
<rect x="189" y="1058" width="66" height="1" fill="#fffefe"/>
<rect x="189" y="1059" width="66" height="3" fill="#fbecec"/>
<rect x="189" y="1062" width="66" height="2" fill="#fbefef"/>
<rect x="189" y="1064" width="66" height="2" fill="#f9e5e5"/>
<rect x="189" y="1066" width="66" height="2" fill="#fdf8f8"/>
<rect x="189" y="1068" width="66" height="3" fill="#fcf3f3"/>
<rect x="189" y="1071" width="66" height="1" fill="#f4d1d1"/>
<rect x="189" y="1072" width="66" height="2" fill="#f3cccc"/>
<rect x="189" y="1074" width="66" height="3" fill="#f5d4d4"/>
<rect x="189" y="1077" width="66" height="3" fill="#f6d6d6"/>
<rect x="189" y="1080" width="66" height="2" fill="#fcf4f4"/>
<rect x="189" y="1082" width="66" height="1" fill="#fdf7f7"/>
<rect x="189" y="1083" width="66" height="2" fill="#f9e7e7"/>
<rect x="189" y="1085" width="66" height="1" fill="#fbecec"/>
<rect x="189" y="1086" width="66" height="1" fill="#fae9e9"/>
<rect x="189" y="1087" width="66" height="1" fill="#fbecec"/>
<rect x="189" y="1088" width="66" height="1" fill="#f7dede"/>
<rect x="189" y="1089" width="66" height="2" fill="#f8e2e2"/>
<rect x="189" y="1091" width="66" height="3" fill="#f9e5e5"/>
<rect x="189" y="1094" width="66" height="2" fill="#f8e0e0"/>
<rect x="189" y="1096" width="66" height="2" fill="#f7dcdc"/>
<rect x="189" y="1098" width="66" height="1" fill="#f9e5e5"/>
<rect x="189" y="1099" width="66" height="1" fill="#fbefef"/>
<rect x="189" y="1100" width="66" height="1" fill="#fbefef"/>
<rect x="189" y="1101" width="66" height="2" fill="#f7dada"/>
<rect x="189" y="1103" width="66" height="2" fill="#f6d7d7"/>
<rect x="189" y="1105" width="66" height="1" fill="#fae7e7"/>
<rect x="189" y="1106" width="66" height="1" fill="#faeaea"/>
<rect x="189" y="1107" width="66" height="1" fill="#fae8e8"/>
<rect x="189" y="1108" width="66" height="1" fill="#f4cece"/>
<rect x="189" y="1109" width="66" height="1" fill="#f3c9c9"/>
<rect x="189" y="1110" width="66" height="3" fill="#f3caca"/>
<rect x="189" y="1113" width="66" height="1" fill="#f7dbdb"/>
<rect x="189" y="1114" width="66" height="3" fill="#f1c3c3"/>
<rect x="189" y="1117" width="66" height="2" fill="#f2c6c6"/>
<rect x="189" y="1119" width="66" height="3" fill="#f3cbcb"/>
<rect x="189" y="1122" width="66" height="2" fill="#f1c4c4"/>
<rect x="189" y="1124" width="66" height="1" fill="#f2c6c6"/>
<rect x="189" y="1125" width="66" height="2" fill="#f7dddd"/>
<rect x="189" y="1127" width="66" height="1" fill="#f6d7d7"/>
<rect x="189" y="1128" width="66" height="1" fill="#f6d9d9"/>
<rect x="189" y="1129" width="66" height="1" fill="#f8dfdf"/>
<rect x="189" y="1130" width="66" height="1" fill="#f5d3d3"/>
<rect x="189" y="1131" width="66" height="2" fill="#f5d5d5"/>
<rect x="189" y="1133" width="66" height="2" fill="#f8dfdf"/>
<rect x="189" y="1135" width="66" height="1" fill="#f8dfdf"/>
<rect x="189" y="1136" width="66" height="2" fill="#f9e5e5"/>
<rect x="189" y="1138" width="66" height="1" fill="#f8e0e0"/>
<rect x="189" y="1139" width="66" height="2" fill="#f8e3e3"/>
<rect x="189" y="1141" width="66" height="3" fill="#fae9e9"/>
<rect x="189" y="1144" width="66" height="3" fill="#f9e4e4"/>
<rect x="189" y="1147" width="66" height="2" fill="#fbeded"/>
<rect x="189" y="1149" width="66" height="2" fill="#fbf0f0"/>
<rect x="189" y="1151" width="66" height="2" fill="#f8dfdf"/>
<rect x="189" y="1153" width="66" height="1" fill="#faeaea"/>
<rect x="189" y="1154" width="66" height="2" fill="#f6d8d8"/>
<rect x="189" y="1156" width="66" height="3" fill="#f9e3e3"/>
<rect x="189" y="1159" width="66" height="1" fill="#faebeb"/>
<rect x="189" y="1160" width="66" height="1" fill="#f7dddd"/>
<rect x="189" y="1161" width="66" height="1" fill="#fdf6f6"/>
<rect x="189" y="1162" width="66" height="1" fill="#fbefef"/>
<rect x="189" y="1163" width="66" height="2" fill="#f5d4d4"/>
<rect x="189" y="1165" width="66" height="3" fill="#fdf7f7"/>
<rect x="189" y="1168" width="66" height="2" fill="#fbeeee"/>
<rect x="189" y="1170" width="66" height="1" fill="#faeaea"/>
<rect x="189" y="1171" width="66" height="2" fill="#f9e5e5"/>
<rect x="189" y="1173" width="66" height="1" fill="#fcf1f1"/>
<rect x="189" y="1174" width="66" height="1" fill="#f9e6e6"/>
<rect x="189" y="1175" width="66" height="2" fill="#f9e6e6"/>
<rect x="189" y="1177" width="66" height="3" fill="#fbeeee"/>
<rect x="189" y="1180" width="66" height="1" fill="#f2c5c5"/>
<rect x="189" y="1181" width="66" height="2" fill="#f4cece"/>
<rect x="189" y="1183" width="66" height="2" fill="#eeb3b3"/>
<rect x="189" y="1185" width="66" height="2" fill="#edb3b3"/>
<rect x="189" y="1187" width="66" height="2" fill="#f0bdbd"/>
<rect x="189" y="1189" width="66" height="1" fill="#f1c2c2"/>
</g>
<rect x="61" y="13" width="64" height="21" fill="#ff0000" />
<rect x="125" y="13" width="65" height="21" fill="#00c800" />
<rect x="190" y="13" width="65" height="21" fill="#3d9dff" />
<line x1="61" y1="48" x2="255" y2="48" stroke="#111" stroke-width="2" stroke-dasharray="6 6"/>
<line x1="255" y1="48" x2="306" y2="48" stroke="#555" stroke-width="2" stroke-dasharray="6 6" stroke-dashoffset="-4"/>
<line x1="61" y1="116" x2="255" y2="116" stroke="#111" stroke-width="2" stroke-dasharray="6 6"/>
<line x1="255" y1="116" x2="306" y2="116" stroke="#555" stroke-width="2" stroke-dasharray="6 6" stroke-dashoffset="-4"/>
<line x1="61" y1="199" x2="255" y2="199" stroke="#111" stroke-width="2" stroke-dasharray="6 6"/>
<line x1="255" y1="199" x2="306" y2="199" stroke="#555" stroke-width="2" stroke-dasharray="6 6" stroke-dashoffset="-4"/>
<line x1="61" y1="775" x2="255" y2="775" stroke="#111" stroke-width="2" stroke-dasharray="6 6"/>
<line x1="255" y1="775" x2="306" y2="775" stroke="#555" stroke-width="2" stroke-dasharray="6 6" stroke-dashoffset="-4"/>
<line x1="61" y1="1059" x2="255" y2="1059" stroke="#111" stroke-width="2" stroke-dasharray="6 6"/>
<line x1="255" y1="1059" x2="306" y2="1059" stroke="#555" stroke-width="2" stroke-dasharray="6 6" stroke-dashoffset="-4"/>
<line x1="61" y1="1190" x2="255" y2="1190" stroke="#111" stroke-width="2" stroke-dasharray="6 6"/>
<line x1="255" y1="1190" x2="306" y2="1190" stroke="#555" stroke-width="2" stroke-dasharray="6 6" stroke-dashoffset="-4"/>
<rect x="61.5" y="199" width="191.5" height="576" fill="none" stroke="#ff0000" stroke-width="3" />
<rect x="61.5" y="1059.5" width="191.5" height="130.5" fill="none" stroke="#ff0000" stroke-width="3" />
<line x1="61" y1="199" x2="255" y2="199" stroke="#111" stroke-width="2" stroke-dasharray="6 6"/>
<line x1="61" y1="775" x2="255" y2="775" stroke="#111" stroke-width="2" stroke-dasharray="6 6"/>
<line x1="61" y1="1059" x2="255" y2="1059" stroke="#111" stroke-width="2" stroke-dasharray="6 6"/>
<line x1="61" y1="1190" x2="255" y2="1190" stroke="#111" stroke-width="2" stroke-dasharray="6 6"/>
<defs><linearGradient id="hg" x1="0" x2="1" y1="0" y2="0"><stop offset="0" stop-color="#cd2626"/><stop offset="0.5" stop-color="#ffffff"/><stop offset="1" stop-color="#000080"/></linearGradient><linearGradient id="pg" x1="0" x2="0" y1="0" y2="1"><stop offset="0" stop-color="#ffff00"/><stop offset="0.55" stop-color="#ff9900"/><stop offset="1" stop-color="#ff1a00"/></linearGradient></defs>
<rect x="62.5" y="1204" width="193" height="14" fill="url(#hg)" />
<text x="74.6" y="1235.2" font-size="14.3" text-anchor="middle">6</text>
<text x="102.5" y="1235.2" font-size="14.3" text-anchor="middle">4</text>
<text x="130.2" y="1235.2" font-size="14.3" text-anchor="middle">2</text>
<text x="157.8" y="1235.2" font-size="14.3" text-anchor="middle">0</text>
<text x="185.7" y="1235.2" font-size="14.3" text-anchor="middle">-2</text>
<text x="213.5" y="1235.2" font-size="14.3" text-anchor="middle">-4</text>
<text x="241.2" y="1235.2" font-size="14.3" text-anchor="middle">-6</text>
<text x="260.3" y="1216" font-size="15" textLength="132.4" lengthAdjust="spacingAndGlyphs">log2(Flod Change)</text>
<text x="5" y="27" font-size="36" font-weight="bold">A</text>
<text x="346" y="27" font-size="36" font-weight="bold">C</text>
<text x="867" y="27" font-size="36" font-weight="bold">D</text>
<text x="4" y="1275" font-size="36" font-weight="bold">B</text>
<text x="371" y="961" font-size="36" font-weight="bold">E</text>
<path d="M85,1601.3 L85,1601 85.37,1601 85.74,1601 86.11,1601 86.48,1600.99 86.86,1600.99 87.23,1600.99 87.6,1600.98 87.97,1600.98 88.34,1600.97 88.71,1600.97 89.08,1600.96 89.45,1600.96 89.82,1600.95 90.19,1600.95 90.56,1600.94 90.94,1600.93 91.31,1600.93 91.68,1600.92 92.05,1600.91 92.42,1600.91 92.79,1600.9 93.16,1600.89 93.53,1600.88 93.9,1600.87 94.28,1600.86 94.65,1600.85 95.02,1600.84 95.39,1600.84 95.76,1600.83 96.13,1600.82 96.5,1600.81 96.87,1600.79 97.24,1600.78 97.61,1600.77 97.99,1600.76 98.36,1600.75 98.73,1600.74 99.1,1600.73 99.47,1600.72 99.84,1600.7 100.21,1600.69 100.58,1600.68 100.95,1600.67 101.32,1600.65 101.69,1600.64 102.07,1600.63 102.44,1600.61 102.81,1600.6 103.18,1600.59 103.55,1600.57 103.92,1600.56 104.29,1600.55 104.66,1600.53 105.03,1600.52 105.41,1600.5 105.78,1600.49 106.15,1600.47 106.52,1600.46 106.89,1600.45 107.26,1600.43 107.63,1600.42 108,1600.4 108.37,1600.39 108.74,1600.37 109.12,1600.35 109.49,1600.34 109.86,1600.32 110.23,1600.31 110.6,1600.29 110.97,1600.28 111.34,1600.26 111.71,1600.25 112.08,1600.23 112.45,1600.21 112.83,1600.2 113.2,1600.18 113.57,1600.17 113.94,1600.15 114.31,1600.13 114.68,1600.12 115.05,1600.1 115.42,1600.09 115.79,1600.07 116.16,1600.05 116.54,1600.04 116.91,1600.02 117.28,1600 117.65,1599.98 118.02,1599.97 118.39,1599.95 118.76,1599.93 119.13,1599.91 119.5,1599.9 119.87,1599.88 120.25,1599.86 120.62,1599.84 120.99,1599.82 121.36,1599.8 121.73,1599.78 122.1,1599.76 122.47,1599.74 122.84,1599.72 123.21,1599.7 123.58,1599.68 123.96,1599.66 124.33,1599.64 124.7,1599.61 125.07,1599.59 125.44,1599.57 125.81,1599.55 126.18,1599.52 126.55,1599.5 126.92,1599.47 127.29,1599.45 127.67,1599.42 128.04,1599.4 128.41,1599.37 128.78,1599.35 129.15,1599.32 129.52,1599.29 129.89,1599.27 130.26,1599.24 130.63,1599.21 131,1599.18 131.38,1599.15 131.75,1599.12 132.12,1599.09 132.49,1599.06 132.86,1599.03 133.23,1599 133.6,1598.96 133.97,1598.93 134.34,1598.9 134.71,1598.86 135.09,1598.83 135.46,1598.79 135.83,1598.76 136.2,1598.72 136.57,1598.68 136.94,1598.65 137.31,1598.61 137.68,1598.57 138.05,1598.53 138.42,1598.49 138.8,1598.45 139.17,1598.41 139.54,1598.36 139.91,1598.32 140.28,1598.28 140.65,1598.23 141.02,1598.19 141.39,1598.14 141.76,1598.1 142.13,1598.05 142.5,1598 142.88,1597.95 143.25,1597.91 143.62,1597.86 143.99,1597.8 144.36,1597.75 144.73,1597.7 145.1,1597.64 145.47,1597.57 145.84,1597.49 146.22,1597.41 146.59,1597.32 146.96,1597.23 147.33,1597.13 147.7,1597.03 148.07,1596.93 148.44,1596.81 148.81,1596.7 149.18,1596.58 149.55,1596.46 149.93,1596.33 150.3,1596.2 150.67,1596.07 151.04,1595.93 151.41,1595.79 151.78,1595.65 152.15,1595.51 152.52,1595.37 152.89,1595.23 153.26,1595.08 153.63,1594.93 154.01,1594.79 154.38,1594.64 154.75,1594.49 155.12,1594.35 155.49,1594.2 155.86,1594.05 156.23,1593.91 156.6,1593.77 156.97,1593.62 157.35,1593.47 157.72,1593.32 158.09,1593.17 158.46,1593.02 158.83,1592.86 159.2,1592.7 159.57,1592.54 159.94,1592.38 160.31,1592.22 160.68,1592.05 161.06,1591.89 161.43,1591.72 161.8,1591.54 162.17,1591.37 162.54,1591.19 162.91,1591.01 163.28,1590.83 163.65,1590.64 164.02,1590.45 164.39,1590.26 164.76,1590.07 165.14,1589.87 165.51,1589.67 165.88,1589.47 166.25,1589.26 166.62,1589.05 166.99,1588.84 167.36,1588.62 167.73,1588.4 168.1,1588.18 168.48,1587.95 168.85,1587.72 169.22,1587.49 169.59,1587.25 169.96,1587 170.33,1586.75 170.7,1586.5 171.07,1586.24 171.44,1585.98 171.81,1585.72 172.19,1585.44 172.56,1585.17 172.93,1584.89 173.3,1584.6 173.67,1584.31 174.04,1584.02 174.41,1583.72 174.78,1583.41 175.15,1583.1 175.52,1582.79 175.9,1582.47 176.27,1582.15 176.64,1581.82 177.01,1581.48 177.38,1581.15 177.75,1580.8 178.12,1580.45 178.49,1580.1 178.86,1579.74 179.23,1579.38 179.61,1579.01 179.98,1578.63 180.35,1578.25 180.72,1577.87 181.09,1577.48 181.46,1577.08 181.83,1576.68 182.2,1576.27 182.57,1575.84 182.94,1575.4 183.31,1574.95 183.69,1574.48 184.06,1574 184.43,1573.5 184.8,1573 185.17,1572.48 185.54,1571.96 185.91,1571.42 186.28,1570.87 186.65,1570.31 187.03,1569.75 187.4,1569.17 187.77,1568.59 188.14,1568 188.51,1567.41 188.88,1566.81 189.25,1566.2 189.62,1565.59 189.99,1564.97 190.36,1564.35 190.74,1563.72 191.11,1563.08 191.48,1562.44 191.85,1561.78 192.22,1561.11 192.59,1560.43 192.96,1559.73 193.33,1559.03 193.7,1558.31 194.07,1557.59 194.44,1556.85 194.82,1556.09 195.19,1555.33 195.56,1554.55 195.93,1553.75 196.3,1552.95 196.67,1552.12 197.04,1551.29 197.41,1550.44 197.78,1549.57 198.16,1548.68 198.53,1547.75 198.9,1546.79 199.27,1545.8 199.64,1544.79 200.01,1543.75 200.38,1542.69 200.75,1541.62 201.12,1540.52 201.49,1539.42 201.87,1538.31 202.24,1537.19 202.61,1536.07 202.98,1534.95 203.35,1533.83 203.72,1532.72 204.09,1531.61 204.46,1530.47 204.83,1529.28 205.2,1528.04 205.58,1526.77 205.95,1525.47 206.32,1524.16 206.69,1522.84 207.06,1521.52 207.43,1520.22 207.8,1518.93 208.17,1517.67 208.54,1516.45 208.91,1515.27 209.28,1514.15 209.66,1513.09 210.03,1512.1 210.4,1511.2 210.77,1510.38 211.14,1509.66 211.51,1509 211.88,1508.33 212.25,1507.67 212.62,1507.01 213,1506.36 213.37,1505.71 213.74,1505.08 214.11,1504.47 214.48,1503.87 214.85,1503.29 215.22,1502.73 215.59,1502.2 215.96,1501.7 216.33,1501.23 216.71,1500.79 217.08,1500.38 217.45,1500.01 217.82,1499.69 218.19,1499.41 218.56,1499.17 218.93,1498.98 219.3,1498.84 219.67,1498.76 220.04,1498.73 220.42,1498.74 220.79,1498.78 221.16,1498.84 221.53,1498.93 221.9,1499.04 222.27,1499.16 222.64,1499.31 223.01,1499.48 223.38,1499.65 223.75,1499.85 224.12,1500.06 224.5,1500.27 224.87,1500.5 225.24,1500.74 225.61,1500.99 225.98,1501.24 226.35,1501.49 226.72,1501.75 227.09,1502.01 227.46,1502.27 227.84,1502.56 228.21,1502.91 228.58,1503.3 228.95,1503.73 229.32,1504.19 229.69,1504.69 230.06,1505.2 230.43,1505.73 230.8,1506.26 231.17,1506.8 231.55,1507.33 231.92,1507.84 232.29,1508.34 232.66,1508.82 233.03,1509.26 233.4,1509.66 233.77,1510.04 234.14,1510.42 234.51,1510.79 234.88,1511.15 235.25,1511.52 235.63,1511.87 236,1512.22 236.37,1512.57 236.74,1512.91 237.11,1513.25 237.48,1513.58 237.85,1513.91 238.22,1514.23 238.59,1514.55 238.97,1514.86 239.34,1515.17 239.71,1515.48 240.08,1515.78 240.45,1516.07 240.82,1516.36 241.19,1516.65 241.56,1516.93 241.93,1517.21 242.3,1517.48 242.68,1517.75 243.05,1518.02 243.42,1518.28 243.79,1518.53 244.16,1518.78 244.53,1519.02 244.9,1519.25 245.27,1519.48 245.64,1519.7 246.01,1519.91 246.38,1520.12 246.76,1520.33 247.13,1520.53 247.5,1520.72 247.87,1520.92 248.24,1521.11 248.61,1521.3 248.98,1521.49 249.35,1521.68 249.72,1521.88 250.09,1522.07 250.47,1522.26 250.84,1522.46 251.21,1522.66 251.58,1522.86 251.95,1523.07 252.32,1523.28 252.69,1523.5 253.06,1523.73 253.43,1523.96 253.81,1524.2 254.18,1524.44 254.55,1524.69 254.92,1524.94 255.29,1525.18 255.66,1525.42 256.03,1525.66 256.4,1525.91 256.77,1526.15 257.14,1526.4 257.51,1526.65 257.89,1526.91 258.26,1527.17 258.63,1527.45 259,1527.73 259.37,1528.03 259.74,1528.33 260.11,1528.65 260.48,1528.99 260.85,1529.34 261.23,1529.7 261.6,1530.09 261.97,1530.49 262.34,1530.92 262.71,1531.36 263.08,1531.83 263.45,1532.39 263.82,1533.08 264.19,1533.88 264.56,1534.77 264.94,1535.75 265.31,1536.78 265.68,1537.85 266.05,1538.94 266.42,1540.03 266.79,1541.1 267.16,1542.14 267.53,1543.12 267.9,1544.03 268.27,1544.84 268.64,1545.56 269.02,1546.26 269.39,1546.95 269.76,1547.63 270.13,1548.29 270.5,1548.94 270.87,1549.58 271.24,1550.21 271.61,1550.82 271.98,1551.43 272.36,1552.02 272.73,1552.61 273.1,1553.18 273.47,1553.75 273.84,1554.31 274.21,1554.85 274.58,1555.39 274.95,1555.92 275.32,1556.45 275.69,1556.96 276.06,1557.47 276.44,1557.97 276.81,1558.47 277.18,1558.96 277.55,1559.44 277.92,1559.92 278.29,1560.39 278.66,1560.86 279.03,1561.33 279.4,1561.79 279.77,1562.24 280.15,1562.69 280.52,1563.14 280.89,1563.59 281.26,1564.03 281.63,1564.48 282,1564.92 282.37,1565.36 282.74,1565.79 283.11,1566.22 283.49,1566.64 283.86,1567.07 284.23,1567.48 284.6,1567.89 284.97,1568.29 285.34,1568.69 285.71,1569.08 286.08,1569.46 286.45,1569.84 286.82,1570.2 287.19,1570.56 287.57,1570.91 287.94,1571.25 288.31,1571.58 288.68,1571.9 289.05,1572.21 289.42,1572.5 289.79,1572.79 290.16,1573.06 290.53,1573.32 290.91,1573.57 291.28,1573.82 291.65,1574.06 292.02,1574.29 292.39,1574.52 292.76,1574.74 293.13,1574.96 293.5,1575.17 293.87,1575.38 294.24,1575.58 294.62,1575.78 294.99,1575.97 295.36,1576.16 295.73,1576.35 296.1,1576.53 296.47,1576.72 296.84,1576.9 297.21,1577.07 297.58,1577.25 297.95,1577.42 298.32,1577.59 298.7,1577.76 299.07,1577.93 299.44,1578.1 299.81,1578.27 300.18,1578.44 300.55,1578.61 300.92,1578.79 301.29,1578.96 301.66,1579.13 302.04,1579.3 302.41,1579.47 302.78,1579.64 303.15,1579.81 303.52,1579.97 303.89,1580.13 304.26,1580.29 304.63,1580.45 305,1580.61 305.37,1580.77 305.75,1580.92 306.12,1581.08 306.49,1581.23 306.86,1581.38 307.23,1581.53 307.6,1581.68 307.97,1581.83 308.34,1581.98 308.71,1582.13 309.08,1582.28 309.45,1582.43 309.83,1582.58 310.2,1582.73 310.57,1582.88 310.94,1583.03 311.31,1583.18 311.68,1583.33 312.05,1583.48 312.42,1583.64 312.79,1583.79 313.17,1583.95 313.54,1584.1 313.91,1584.26 314.28,1584.42 314.65,1584.58 315.02,1584.75 315.39,1584.91 315.76,1585.08 316.13,1585.25 316.5,1585.41 316.88,1585.58 317.25,1585.76 317.62,1585.93 317.99,1586.1 318.36,1586.28 318.73,1586.45 319.1,1586.63 319.47,1586.8 319.84,1586.98 320.21,1587.16 320.59,1587.34 320.96,1587.52 321.33,1587.69 321.7,1587.87 322.07,1588.05 322.44,1588.23 322.81,1588.4 323.18,1588.58 323.55,1588.76 323.92,1588.93 324.3,1589.11 324.67,1589.28 325.04,1589.45 325.41,1589.63 325.78,1589.8 326.15,1589.97 326.52,1590.14 326.89,1590.3 327.26,1590.47 327.63,1590.63 328,1590.79 328.38,1590.95 328.75,1591.11 329.12,1591.27 329.49,1591.44 329.86,1591.6 330.23,1591.76 330.6,1591.93 330.97,1592.09 331.34,1592.26 331.72,1592.42 332.09,1592.59 332.46,1592.75 332.83,1592.92 333.2,1593.08 333.57,1593.24 333.94,1593.4 334.31,1593.57 334.68,1593.72 335.05,1593.88 335.43,1594.04 335.8,1594.19 336.17,1594.35 336.54,1594.5 336.91,1594.64 337.28,1594.79 337.65,1594.93 338.02,1595.07 338.39,1595.21 338.76,1595.34 339.13,1595.47 339.51,1595.6 339.88,1595.72 340.25,1595.84 340.62,1595.96 340.99,1596.07 341.36,1596.17 341.73,1596.27 342.1,1596.37 342.47,1596.47 342.85,1596.57 343.22,1596.67 343.59,1596.76 343.96,1596.86 344.33,1596.95 344.7,1597.05 345.07,1597.14 345.44,1597.23 345.81,1597.32 346.18,1597.41 346.56,1597.5 346.93,1597.59 347.3,1597.68 347.67,1597.76 348.04,1597.85 348.41,1597.93 348.78,1598.01 349.15,1598.09 349.52,1598.17 349.89,1598.25 350.26,1598.32 350.64,1598.4 351.01,1598.47 351.38,1598.54 351.75,1598.61 352.12,1598.68 352.49,1598.75 352.86,1598.81 353.23,1598.88 353.6,1598.94 353.98,1599 354.35,1599.06 354.72,1599.11 355.09,1599.17 355.46,1599.22 355.83,1599.27 356.2,1599.32 356.57,1599.36 356.94,1599.41 357.31,1599.45 357.69,1599.49 358.06,1599.53 358.43,1599.56 358.8,1599.6 359.17,1599.63 359.54,1599.67 359.91,1599.71 360.28,1599.74 360.65,1599.78 361.02,1599.81 361.39,1599.85 361.77,1599.88 362.14,1599.92 362.51,1599.95 362.88,1599.98 363.25,1600.02 363.62,1600.05 363.99,1600.08 364.36,1600.12 364.73,1600.15 365.11,1600.18 365.48,1600.21 365.85,1600.24 366.22,1600.27 366.59,1600.31 366.96,1600.33 367.33,1600.36 367.7,1600.39 368.07,1600.42 368.44,1600.45 368.81,1600.48 369.19,1600.5 369.56,1600.53 369.93,1600.56 370.3,1600.58 370.67,1600.61 371.04,1600.63 371.41,1600.65 371.78,1600.68 372.15,1600.7 372.52,1600.72 372.9,1600.74 373.27,1600.76 373.64,1600.78 374.01,1600.8 374.38,1600.82 374.75,1600.84 375.12,1600.85 375.49,1600.87 375.86,1600.88 376.24,1600.9 376.61,1600.91 376.98,1600.92 377.35,1600.93 377.72,1600.95 378.09,1600.96 378.46,1600.96 378.83,1600.97 379.2,1600.98 379.57,1600.99 379.94,1600.99 380.32,1601 380.69,1601 381.06,1601 381.43,1601 381.8,1601 L381.8,1601.3 Z" fill="#ee1c1c" fill-opacity="0.75" stroke="#ff0000" stroke-width="2.2"/>
<path d="M85,1601.3 L85,1600.12 85.37,1600.04 85.74,1599.96 86.11,1599.88 86.48,1599.8 86.86,1599.72 87.23,1599.64 87.6,1599.56 87.97,1599.49 88.34,1599.41 88.71,1599.33 89.08,1599.25 89.45,1599.17 89.82,1599.09 90.19,1599 90.56,1598.92 90.94,1598.84 91.31,1598.76 91.68,1598.68 92.05,1598.6 92.42,1598.52 92.79,1598.44 93.16,1598.36 93.53,1598.27 93.9,1598.19 94.28,1598.11 94.65,1598.03 95.02,1597.95 95.39,1597.86 95.76,1597.78 96.13,1597.7 96.5,1597.62 96.87,1597.53 97.24,1597.45 97.61,1597.37 97.99,1597.28 98.36,1597.2 98.73,1597.12 99.1,1597.03 99.47,1596.95 99.84,1596.87 100.21,1596.78 100.58,1596.69 100.95,1596.59 101.32,1596.5 101.69,1596.4 102.07,1596.29 102.44,1596.18 102.81,1596.08 103.18,1595.97 103.55,1595.85 103.92,1595.74 104.29,1595.62 104.66,1595.51 105.03,1595.39 105.41,1595.28 105.78,1595.16 106.15,1595.05 106.52,1594.93 106.89,1594.82 107.26,1594.71 107.63,1594.6 108,1594.49 108.37,1594.39 108.74,1594.29 109.12,1594.19 109.49,1594.09 109.86,1594 110.23,1593.92 110.6,1593.83 110.97,1593.76 111.34,1593.68 111.71,1593.62 112.08,1593.56 112.45,1593.5 112.83,1593.45 113.2,1593.41 113.57,1593.38 113.94,1593.35 114.31,1593.33 114.68,1593.32 115.05,1593.32 115.42,1593.32 115.79,1593.32 116.16,1593.33 116.54,1593.33 116.91,1593.34 117.28,1593.34 117.65,1593.35 118.02,1593.36 118.39,1593.37 118.76,1593.38 119.13,1593.39 119.5,1593.4 119.87,1593.42 120.25,1593.43 120.62,1593.45 120.99,1593.46 121.36,1593.48 121.73,1593.49 122.1,1593.51 122.47,1593.53 122.84,1593.55 123.21,1593.57 123.58,1593.59 123.96,1593.6 124.33,1593.62 124.7,1593.64 125.07,1593.66 125.44,1593.69 125.81,1593.71 126.18,1593.73 126.55,1593.75 126.92,1593.77 127.29,1593.79 127.67,1593.81 128.04,1593.83 128.41,1593.85 128.78,1593.87 129.15,1593.89 129.52,1593.91 129.89,1593.93 130.26,1593.95 130.63,1593.98 131,1594.01 131.38,1594.04 131.75,1594.07 132.12,1594.1 132.49,1594.13 132.86,1594.17 133.23,1594.2 133.6,1594.24 133.97,1594.27 134.34,1594.31 134.71,1594.35 135.09,1594.38 135.46,1594.42 135.83,1594.45 136.2,1594.49 136.57,1594.52 136.94,1594.56 137.31,1594.59 137.68,1594.62 138.05,1594.65 138.42,1594.67 138.8,1594.7 139.17,1594.72 139.54,1594.74 139.91,1594.76 140.28,1594.77 140.65,1594.78 141.02,1594.79 141.39,1594.8 141.76,1594.8 142.13,1594.79 142.5,1594.77 142.88,1594.74 143.25,1594.71 143.62,1594.66 143.99,1594.6 144.36,1594.54 144.73,1594.46 145.1,1594.38 145.47,1594.29 145.84,1594.2 146.22,1594.09 146.59,1593.98 146.96,1593.87 147.33,1593.74 147.7,1593.61 148.07,1593.48 148.44,1593.34 148.81,1593.2 149.18,1593.05 149.55,1592.89 149.93,1592.74 150.3,1592.58 150.67,1592.41 151.04,1592.25 151.41,1592.08 151.78,1591.91 152.15,1591.74 152.52,1591.56 152.89,1591.39 153.26,1591.21 153.63,1591.03 154.01,1590.86 154.38,1590.68 154.75,1590.5 155.12,1590.33 155.49,1590.15 155.86,1589.96 156.23,1589.76 156.6,1589.56 156.97,1589.35 157.35,1589.14 157.72,1588.91 158.09,1588.68 158.46,1588.45 158.83,1588.2 159.2,1587.95 159.57,1587.69 159.94,1587.42 160.31,1587.15 160.68,1586.87 161.06,1586.58 161.43,1586.28 161.8,1585.98 162.17,1585.67 162.54,1585.36 162.91,1585.03 163.28,1584.7 163.65,1584.37 164.02,1584.02 164.39,1583.67 164.76,1583.31 165.14,1582.94 165.51,1582.57 165.88,1582.19 166.25,1581.81 166.62,1581.41 166.99,1581.01 167.36,1580.6 167.73,1580.19 168.1,1579.77 168.48,1579.34 168.85,1578.88 169.22,1578.39 169.59,1577.87 169.96,1577.31 170.33,1576.72 170.7,1576.11 171.07,1575.47 171.44,1574.8 171.81,1574.11 172.19,1573.4 172.56,1572.67 172.93,1571.92 173.3,1571.15 173.67,1570.37 174.04,1569.57 174.41,1568.76 174.78,1567.94 175.15,1567.12 175.52,1566.28 175.9,1565.45 176.27,1564.6 176.64,1563.76 177.01,1562.92 177.38,1562.07 177.75,1561.23 178.12,1560.4 178.49,1559.57 178.86,1558.75 179.23,1557.94 179.61,1557.14 179.98,1556.36 180.35,1555.59 180.72,1554.83 181.09,1554.1 181.46,1553.38 181.83,1552.68 182.2,1551.98 182.57,1551.27 182.94,1550.54 183.31,1549.8 183.69,1549.06 184.06,1548.31 184.43,1547.57 184.8,1546.82 185.17,1546.08 185.54,1545.34 185.91,1544.62 186.28,1543.91 186.65,1543.21 187.03,1542.54 187.4,1541.88 187.77,1541.25 188.14,1540.65 188.51,1540.07 188.88,1539.53 189.25,1539.02 189.62,1538.56 189.99,1538.13 190.36,1537.75 190.74,1537.38 191.11,1537.02 191.48,1536.65 191.85,1536.29 192.22,1535.93 192.59,1535.59 192.96,1535.26 193.33,1534.96 193.7,1534.67 194.07,1534.41 194.44,1534.18 194.82,1533.98 195.19,1533.82 195.56,1533.71 195.93,1533.63 196.3,1533.61 196.67,1533.64 197.04,1533.74 197.41,1533.9 197.78,1534.12 198.16,1534.39 198.53,1534.7 198.9,1535.06 199.27,1535.45 199.64,1535.87 200.01,1536.31 200.38,1536.78 200.75,1537.26 201.12,1537.75 201.49,1538.24 201.87,1538.74 202.24,1539.22 202.61,1539.75 202.98,1540.36 203.35,1541.04 203.72,1541.78 204.09,1542.57 204.46,1543.4 204.83,1544.25 205.2,1545.13 205.58,1546.02 205.95,1546.91 206.32,1547.78 206.69,1548.64 207.06,1549.46 207.43,1550.24 207.8,1550.97 208.17,1551.64 208.54,1552.27 208.91,1552.9 209.28,1553.54 209.66,1554.17 210.03,1554.79 210.4,1555.42 210.77,1556.03 211.14,1556.65 211.51,1557.25 211.88,1557.85 212.25,1558.44 212.62,1559.03 213,1559.6 213.37,1560.16 213.74,1560.71 214.11,1561.24 214.48,1561.77 214.85,1562.28 215.22,1562.77 215.59,1563.25 215.96,1563.71 216.33,1564.15 216.71,1564.57 217.08,1564.97 217.45,1565.36 217.82,1565.72 218.19,1566.06 218.56,1566.37 218.93,1566.66 219.3,1566.93 219.67,1567.2 220.04,1567.48 220.42,1567.75 220.79,1568.01 221.16,1568.28 221.53,1568.54 221.9,1568.8 222.27,1569.06 222.64,1569.32 223.01,1569.57 223.38,1569.81 223.75,1570.06 224.12,1570.3 224.5,1570.53 224.87,1570.76 225.24,1570.98 225.61,1571.2 225.98,1571.41 226.35,1571.61 226.72,1571.81 227.09,1572 227.46,1572.18 227.84,1572.36 228.21,1572.52 228.58,1572.68 228.95,1572.83 229.32,1572.97 229.69,1573.1 230.06,1573.22 230.43,1573.33 230.8,1573.43 231.17,1573.52 231.55,1573.59 231.92,1573.66 232.29,1573.72 232.66,1573.76 233.03,1573.79 233.4,1573.8 233.77,1573.81 234.14,1573.8 234.51,1573.76 234.88,1573.71 235.25,1573.65 235.63,1573.56 236,1573.46 236.37,1573.35 236.74,1573.21 237.11,1573.07 237.48,1572.91 237.85,1572.73 238.22,1572.54 238.59,1572.33 238.97,1572.12 239.34,1571.89 239.71,1571.65 240.08,1571.39 240.45,1571.13 240.82,1570.85 241.19,1570.57 241.56,1570.27 241.93,1569.96 242.3,1569.65 242.68,1569.33 243.05,1569 243.42,1568.66 243.79,1568.31 244.16,1567.96 244.53,1567.6 244.9,1567.24 245.27,1566.87 245.64,1566.49 246.01,1566.11 246.38,1565.73 246.76,1565.34 247.13,1564.95 247.5,1564.55 247.87,1564.16 248.24,1563.76 248.61,1563.33 248.98,1562.85 249.35,1562.31 249.72,1561.72 250.09,1561.08 250.47,1560.41 250.84,1559.69 251.21,1558.93 251.58,1558.14 251.95,1557.33 252.32,1556.48 252.69,1555.61 253.06,1554.73 253.43,1553.82 253.81,1552.9 254.18,1551.98 254.55,1551.04 254.92,1550.11 255.29,1549.17 255.66,1548.24 256.03,1547.31 256.4,1546.4 256.77,1545.49 257.14,1544.61 257.51,1543.74 257.89,1542.9 258.26,1542.09 258.63,1541.3 259,1540.55 259.37,1539.8 259.74,1539.04 260.11,1538.27 260.48,1537.49 260.85,1536.7 261.23,1535.92 261.6,1535.14 261.97,1534.37 262.34,1533.62 262.71,1532.87 263.08,1532.15 263.45,1531.44 263.82,1530.76 264.19,1530.11 264.56,1529.49 264.94,1528.91 265.31,1528.36 265.68,1527.86 266.05,1527.4 266.42,1526.96 266.79,1526.52 267.16,1526.08 267.53,1525.64 267.9,1525.2 268.27,1524.77 268.64,1524.35 269.02,1523.94 269.39,1523.55 269.76,1523.17 270.13,1522.81 270.5,1522.47 270.87,1522.16 271.24,1521.88 271.61,1521.63 271.98,1521.41 272.36,1521.22 272.73,1521.08 273.1,1520.97 273.47,1520.91 273.84,1520.9 274.21,1520.93 274.58,1521 274.95,1521.12 275.32,1521.27 275.69,1521.45 276.06,1521.67 276.44,1521.91 276.81,1522.18 277.18,1522.47 277.55,1522.78 277.92,1523.11 278.29,1523.44 278.66,1523.79 279.03,1524.15 279.4,1524.51 279.77,1524.87 280.15,1525.22 280.52,1525.58 280.89,1525.92 281.26,1526.27 281.63,1526.65 282,1527.04 282.37,1527.45 282.74,1527.88 283.11,1528.33 283.49,1528.79 283.86,1529.26 284.23,1529.75 284.6,1530.26 284.97,1530.77 285.34,1531.29 285.71,1531.82 286.08,1532.36 286.45,1532.9 286.82,1533.45 287.19,1534.01 287.57,1534.56 287.94,1535.12 288.31,1535.68 288.68,1536.24 289.05,1536.83 289.42,1537.43 289.79,1538.05 290.16,1538.68 290.53,1539.32 290.91,1539.98 291.28,1540.65 291.65,1541.33 292.02,1542.02 292.39,1542.72 292.76,1543.43 293.13,1544.14 293.5,1544.86 293.87,1545.58 294.24,1546.31 294.62,1547.04 294.99,1547.77 295.36,1548.5 295.73,1549.23 296.1,1549.95 296.47,1550.68 296.84,1551.4 297.21,1552.11 297.58,1552.82 297.95,1553.52 298.32,1554.22 298.7,1554.9 299.07,1555.57 299.44,1556.24 299.81,1556.89 300.18,1557.52 300.55,1558.15 300.92,1558.75 301.29,1559.34 301.66,1559.92 302.04,1560.48 302.41,1561.05 302.78,1561.63 303.15,1562.21 303.52,1562.79 303.89,1563.37 304.26,1563.95 304.63,1564.53 305,1565.11 305.37,1565.69 305.75,1566.27 306.12,1566.84 306.49,1567.41 306.86,1567.97 307.23,1568.53 307.6,1569.08 307.97,1569.62 308.34,1570.15 308.71,1570.68 309.08,1571.19 309.45,1571.69 309.83,1572.19 310.2,1572.66 310.57,1573.13 310.94,1573.58 311.31,1574.02 311.68,1574.44 312.05,1574.84 312.42,1575.22 312.79,1575.59 313.17,1575.94 313.54,1576.27 313.91,1576.57 314.28,1576.86 314.65,1577.12 315.02,1577.36 315.39,1577.58 315.76,1577.8 316.13,1578.02 316.5,1578.24 316.88,1578.45 317.25,1578.66 317.62,1578.86 317.99,1579.07 318.36,1579.26 318.73,1579.46 319.1,1579.65 319.47,1579.83 319.84,1580.01 320.21,1580.19 320.59,1580.36 320.96,1580.53 321.33,1580.69 321.7,1580.85 322.07,1581 322.44,1581.14 322.81,1581.29 323.18,1581.42 323.55,1581.55 323.92,1581.68 324.3,1581.8 324.67,1581.91 325.04,1582.01 325.41,1582.11 325.78,1582.21 326.15,1582.3 326.52,1582.38 326.89,1582.45 327.26,1582.52 327.63,1582.58 328,1582.63 328.38,1582.68 328.75,1582.72 329.12,1582.76 329.49,1582.79 329.86,1582.82 330.23,1582.85 330.6,1582.88 330.97,1582.91 331.34,1582.93 331.72,1582.96 332.09,1582.98 332.46,1583 332.83,1583.02 333.2,1583.04 333.57,1583.05 333.94,1583.07 334.31,1583.09 334.68,1583.1 335.05,1583.12 335.43,1583.13 335.8,1583.15 336.17,1583.17 336.54,1583.18 336.91,1583.2 337.28,1583.22 337.65,1583.24 338.02,1583.26 338.39,1583.28 338.76,1583.3 339.13,1583.33 339.51,1583.35 339.88,1583.38 340.25,1583.41 340.62,1583.45 340.99,1583.48 341.36,1583.52 341.73,1583.56 342.1,1583.61 342.47,1583.68 342.85,1583.75 343.22,1583.83 343.59,1583.93 343.96,1584.04 344.33,1584.15 344.7,1584.28 345.07,1584.41 345.44,1584.56 345.81,1584.71 346.18,1584.87 346.56,1585.03 346.93,1585.2 347.3,1585.38 347.67,1585.56 348.04,1585.75 348.41,1585.94 348.78,1586.13 349.15,1586.33 349.52,1586.53 349.89,1586.73 350.26,1586.94 350.64,1587.14 351.01,1587.34 351.38,1587.55 351.75,1587.75 352.12,1587.96 352.49,1588.16 352.86,1588.36 353.23,1588.55 353.6,1588.75 353.98,1588.94 354.35,1589.12 354.72,1589.3 355.09,1589.48 355.46,1589.65 355.83,1589.83 356.2,1590.01 356.57,1590.19 356.94,1590.37 357.31,1590.56 357.69,1590.75 358.06,1590.94 358.43,1591.13 358.8,1591.32 359.17,1591.51 359.54,1591.7 359.91,1591.9 360.28,1592.09 360.65,1592.29 361.02,1592.48 361.39,1592.68 361.77,1592.87 362.14,1593.06 362.51,1593.25 362.88,1593.44 363.25,1593.63 363.62,1593.82 363.99,1594 364.36,1594.18 364.73,1594.36 365.11,1594.54 365.48,1594.72 365.85,1594.89 366.22,1595.06 366.59,1595.22 366.96,1595.38 367.33,1595.54 367.7,1595.69 368.07,1595.84 368.44,1595.98 368.81,1596.12 369.19,1596.26 369.56,1596.4 369.93,1596.53 370.3,1596.67 370.67,1596.8 371.04,1596.94 371.41,1597.07 371.78,1597.2 372.15,1597.33 372.52,1597.46 372.9,1597.58 373.27,1597.71 373.64,1597.83 374.01,1597.95 374.38,1598.07 374.75,1598.19 375.12,1598.31 375.49,1598.43 375.86,1598.54 376.24,1598.65 376.61,1598.76 376.98,1598.87 377.35,1598.98 377.72,1599.09 378.09,1599.19 378.46,1599.29 378.83,1599.39 379.2,1599.49 379.57,1599.59 379.94,1599.68 380.32,1599.77 380.69,1599.86 381.06,1599.95 381.43,1600.03 381.8,1600.12 L381.8,1601.3 Z" fill="#3cb03c" fill-opacity="0.68" stroke="#38ad38" stroke-width="2.2"/>
<path d="M85,1601.3 L85,1600.12 85.37,1600.09 85.74,1600.07 86.11,1600.04 86.48,1600.02 86.86,1599.99 87.23,1599.97 87.6,1599.95 87.97,1599.92 88.34,1599.9 88.71,1599.88 89.08,1599.86 89.45,1599.84 89.82,1599.82 90.19,1599.8 90.56,1599.78 90.94,1599.76 91.31,1599.74 91.68,1599.73 92.05,1599.71 92.42,1599.69 92.79,1599.68 93.16,1599.66 93.53,1599.65 93.9,1599.64 94.28,1599.62 94.65,1599.61 95.02,1599.6 95.39,1599.59 95.76,1599.58 96.13,1599.57 96.5,1599.56 96.87,1599.55 97.24,1599.55 97.61,1599.54 97.99,1599.54 98.36,1599.53 98.73,1599.53 99.1,1599.53 99.47,1599.53 99.84,1599.53 100.21,1599.53 100.58,1599.53 100.95,1599.53 101.32,1599.53 101.69,1599.54 102.07,1599.54 102.44,1599.55 102.81,1599.56 103.18,1599.56 103.55,1599.57 103.92,1599.58 104.29,1599.59 104.66,1599.6 105.03,1599.61 105.41,1599.62 105.78,1599.63 106.15,1599.64 106.52,1599.65 106.89,1599.66 107.26,1599.67 107.63,1599.69 108,1599.7 108.37,1599.71 108.74,1599.72 109.12,1599.73 109.49,1599.74 109.86,1599.75 110.23,1599.76 110.6,1599.77 110.97,1599.78 111.34,1599.78 111.71,1599.79 112.08,1599.8 112.45,1599.8 112.83,1599.81 113.2,1599.81 113.57,1599.82 113.94,1599.82 114.31,1599.82 114.68,1599.82 115.05,1599.82 115.42,1599.82 115.79,1599.81 116.16,1599.81 116.54,1599.8 116.91,1599.79 117.28,1599.78 117.65,1599.77 118.02,1599.76 118.39,1599.75 118.76,1599.73 119.13,1599.72 119.5,1599.7 119.87,1599.69 120.25,1599.67 120.62,1599.65 120.99,1599.63 121.36,1599.61 121.73,1599.6 122.1,1599.58 122.47,1599.56 122.84,1599.54 123.21,1599.52 123.58,1599.5 123.96,1599.48 124.33,1599.46 124.7,1599.44 125.07,1599.42 125.44,1599.4 125.81,1599.38 126.18,1599.36 126.55,1599.34 126.92,1599.33 127.29,1599.31 127.67,1599.29 128.04,1599.28 128.41,1599.27 128.78,1599.25 129.15,1599.24 129.52,1599.23 129.89,1599.22 130.26,1599.21 130.63,1599.2 131,1599.19 131.38,1599.19 131.75,1599.18 132.12,1599.17 132.49,1599.16 132.86,1599.15 133.23,1599.15 133.6,1599.14 133.97,1599.13 134.34,1599.13 134.71,1599.12 135.09,1599.11 135.46,1599.11 135.83,1599.1 136.2,1599.1 136.57,1599.09 136.94,1599.08 137.31,1599.08 137.68,1599.07 138.05,1599.06 138.42,1599.06 138.8,1599.05 139.17,1599.05 139.54,1599.04 139.91,1599.03 140.28,1599.03 140.65,1599.02 141.02,1599.01 141.39,1599 141.76,1599 142.13,1598.99 142.5,1598.98 142.88,1598.97 143.25,1598.96 143.62,1598.95 143.99,1598.94 144.36,1598.94 144.73,1598.93 145.1,1598.92 145.47,1598.91 145.84,1598.9 146.22,1598.89 146.59,1598.87 146.96,1598.86 147.33,1598.85 147.7,1598.84 148.07,1598.83 148.44,1598.82 148.81,1598.81 149.18,1598.8 149.55,1598.79 149.93,1598.77 150.3,1598.76 150.67,1598.75 151.04,1598.74 151.41,1598.72 151.78,1598.71 152.15,1598.7 152.52,1598.68 152.89,1598.67 153.26,1598.65 153.63,1598.64 154.01,1598.62 154.38,1598.6 154.75,1598.59 155.12,1598.57 155.49,1598.55 155.86,1598.53 156.23,1598.51 156.6,1598.5 156.97,1598.48 157.35,1598.46 157.72,1598.43 158.09,1598.41 158.46,1598.39 158.83,1598.37 159.2,1598.34 159.57,1598.32 159.94,1598.28 160.31,1598.24 160.68,1598.19 161.06,1598.14 161.43,1598.08 161.8,1598.02 162.17,1597.95 162.54,1597.89 162.91,1597.82 163.28,1597.75 163.65,1597.68 164.02,1597.61 164.39,1597.55 164.76,1597.49 165.14,1597.43 165.51,1597.37 165.88,1597.32 166.25,1597.27 166.62,1597.24 166.99,1597.2 167.36,1597.18 167.73,1597.17 168.1,1597.16 168.48,1597.17 168.85,1597.19 169.22,1597.22 169.59,1597.25 169.96,1597.3 170.33,1597.35 170.7,1597.4 171.07,1597.46 171.44,1597.51 171.81,1597.57 172.19,1597.62 172.56,1597.66 172.93,1597.7 173.3,1597.73 173.67,1597.75 174.04,1597.75 174.41,1597.75 174.78,1597.75 175.15,1597.74 175.52,1597.73 175.9,1597.72 176.27,1597.7 176.64,1597.68 177.01,1597.66 177.38,1597.64 177.75,1597.62 178.12,1597.6 178.49,1597.57 178.86,1597.54 179.23,1597.52 179.61,1597.49 179.98,1597.46 180.35,1597.42 180.72,1597.38 181.09,1597.34 181.46,1597.29 181.83,1597.23 182.2,1597.16 182.57,1597.09 182.94,1597.02 183.31,1596.94 183.69,1596.85 184.06,1596.75 184.43,1596.65 184.8,1596.55 185.17,1596.43 185.54,1596.31 185.91,1596.19 186.28,1596.06 186.65,1595.92 187.03,1595.78 187.4,1595.64 187.77,1595.48 188.14,1595.32 188.51,1595.1 188.88,1594.83 189.25,1594.5 189.62,1594.14 189.99,1593.74 190.36,1593.32 190.74,1592.89 191.11,1592.44 191.48,1592 191.85,1591.57 192.22,1591.16 192.59,1590.78 192.96,1590.43 193.33,1590.11 193.7,1589.81 194.07,1589.52 194.44,1589.23 194.82,1588.96 195.19,1588.68 195.56,1588.42 195.93,1588.15 196.3,1587.88 196.67,1587.61 197.04,1587.33 197.41,1587.05 197.78,1586.76 198.16,1586.46 198.53,1586.16 198.9,1585.87 199.27,1585.57 199.64,1585.29 200.01,1585 200.38,1584.7 200.75,1584.4 201.12,1584.1 201.49,1583.78 201.87,1583.45 202.24,1583.11 202.61,1582.75 202.98,1582.37 203.35,1581.98 203.72,1581.55 204.09,1581.11 204.46,1580.62 204.83,1580.08 205.2,1579.51 205.58,1578.89 205.95,1578.23 206.32,1577.54 206.69,1576.83 207.06,1576.08 207.43,1575.31 207.8,1574.53 208.17,1573.72 208.54,1572.9 208.91,1572.07 209.28,1571.23 209.66,1570.36 210.03,1569.46 210.4,1568.53 210.77,1567.56 211.14,1566.56 211.51,1565.52 211.88,1564.44 212.25,1563.32 212.62,1562.16 213,1560.95 213.37,1559.7 213.74,1558.34 214.11,1556.89 214.48,1555.35 214.85,1553.75 215.22,1552.11 215.59,1550.46 215.96,1548.8 216.33,1547.15 216.71,1545.49 217.08,1543.8 217.45,1542.07 217.82,1540.27 218.19,1538.41 218.56,1536.45 218.93,1534.39 219.3,1532.2 219.67,1529.88 220.04,1527.41 220.42,1524.78 220.79,1521.98 221.16,1519.01 221.53,1515.86 221.9,1512.5 222.27,1508.95 222.64,1505.18 223.01,1501.2 223.38,1496.83 223.75,1491.81 224.12,1486.24 224.5,1480.27 224.87,1474.01 225.24,1467.59 225.61,1461.16 225.98,1454.84 226.35,1448.77 226.72,1443.13 227.09,1437.49 227.46,1431.23 227.84,1423.59 228.21,1413.17 228.58,1400.68 228.95,1387.31 229.32,1374.28 229.69,1362.81 230.06,1354.09 230.43,1347.82 230.8,1342.07 231.17,1336.82 231.55,1332.03 231.92,1327.69 232.29,1323.8 232.66,1320.32 233.03,1317.25 233.4,1314.57 233.77,1312.01 234.14,1309.53 234.51,1307.45 234.88,1306.08 235.25,1305.72 235.63,1306.3 236,1307.56 236.37,1309.33 236.74,1311.42 237.11,1313.67 237.48,1316.05 237.85,1319.12 238.22,1322.83 238.59,1327.04 238.97,1331.63 239.34,1336.47 239.71,1341.44 240.08,1346.41 240.45,1351.24 240.82,1355.9 241.19,1360.71 241.56,1365.69 241.93,1370.81 242.3,1376.02 242.68,1381.31 243.05,1386.63 243.42,1391.96 243.79,1397.25 244.16,1402.49 244.53,1407.63 244.9,1412.65 245.27,1417.5 245.64,1422.16 246.01,1426.6 246.38,1430.74 246.76,1434.61 247.13,1438.34 247.5,1442.06 247.87,1445.88 248.24,1449.95 248.61,1454.38 248.98,1459.13 249.35,1464.11 249.72,1469.24 250.09,1474.42 250.47,1479.56 250.84,1484.57 251.21,1489.35 251.58,1493.81 251.95,1497.87 252.32,1501.44 252.69,1504.72 253.06,1507.78 253.43,1510.67 253.81,1513.42 254.18,1516.06 254.55,1518.62 254.92,1521.13 255.29,1523.64 255.66,1526.17 256.03,1528.76 256.4,1531.47 256.77,1534.49 257.14,1537.63 257.51,1540.61 257.89,1543.12 258.26,1544.9 258.63,1545.97 259,1546.88 259.37,1547.68 259.74,1548.38 260.11,1549 260.48,1549.55 260.85,1550.05 261.23,1550.53 261.6,1551 261.97,1551.47 262.34,1551.97 262.71,1552.51 263.08,1553.12 263.45,1553.76 263.82,1554.41 264.19,1555.06 264.56,1555.72 264.94,1556.38 265.31,1557.04 265.68,1557.7 266.05,1558.37 266.42,1559.03 266.79,1559.7 267.16,1560.37 267.53,1561.04 267.9,1561.71 268.27,1562.38 268.64,1563.05 269.02,1563.71 269.39,1564.38 269.76,1565.04 270.13,1565.7 270.5,1566.35 270.87,1567 271.24,1567.65 271.61,1568.29 271.98,1568.94 272.36,1569.58 272.73,1570.22 273.1,1570.86 273.47,1571.5 273.84,1572.14 274.21,1572.79 274.58,1573.44 274.95,1574.09 275.32,1574.75 275.69,1575.42 276.06,1576.09 276.44,1576.77 276.81,1577.49 277.18,1578.27 277.55,1579.09 277.92,1579.93 278.29,1580.76 278.66,1581.56 279.03,1582.31 279.4,1582.98 279.77,1583.56 280.15,1584.01 280.52,1584.34 280.89,1584.61 281.26,1584.85 281.63,1585.04 282,1585.22 282.37,1585.39 282.74,1585.55 283.11,1585.72 283.49,1585.9 283.86,1586.11 284.23,1586.35 284.6,1586.64 284.97,1586.99 285.34,1587.4 285.71,1587.86 286.08,1588.35 286.45,1588.89 286.82,1589.45 287.19,1590.03 287.57,1590.63 287.94,1591.23 288.31,1591.82 288.68,1592.41 289.05,1592.99 289.42,1593.53 289.79,1594.05 290.16,1594.53 290.53,1594.97 290.91,1595.42 291.28,1595.9 291.65,1596.38 292.02,1596.86 292.39,1597.33 292.76,1597.78 293.13,1598.21 293.5,1598.59 293.87,1598.92 294.24,1599.18 294.62,1599.38 294.99,1599.5 295.36,1599.55 295.73,1599.59 296.1,1599.62 296.47,1599.66 296.84,1599.69 297.21,1599.72 297.58,1599.75 297.95,1599.78 298.32,1599.81 298.7,1599.83 299.07,1599.86 299.44,1599.88 299.81,1599.9 300.18,1599.93 300.55,1599.95 300.92,1599.96 301.29,1599.98 301.66,1600 302.04,1600.01 302.41,1600.03 302.78,1600.04 303.15,1600.05 303.52,1600.06 303.89,1600.07 304.26,1600.08 304.63,1600.09 305,1600.1 305.37,1600.1 305.75,1600.11 306.12,1600.11 306.49,1600.11 306.86,1600.12 307.23,1600.12 307.6,1600.12 307.97,1600.12 308.34,1600.11 308.71,1600.11 309.08,1600.1 309.45,1600.09 309.83,1600.08 310.2,1600.07 310.57,1600.06 310.94,1600.04 311.31,1600.03 311.68,1600.01 312.05,1599.99 312.42,1599.97 312.79,1599.95 313.17,1599.93 313.54,1599.91 313.91,1599.89 314.28,1599.87 314.65,1599.84 315.02,1599.82 315.39,1599.8 315.76,1599.78 316.13,1599.76 316.5,1599.73 316.88,1599.71 317.25,1599.69 317.62,1599.67 317.99,1599.65 318.36,1599.64 318.73,1599.62 319.1,1599.6 319.47,1599.59 319.84,1599.57 320.21,1599.56 320.59,1599.55 320.96,1599.54 321.33,1599.54 321.7,1599.53 322.07,1599.53 322.44,1599.53 322.81,1599.53 323.18,1599.53 323.55,1599.54 323.92,1599.54 324.3,1599.55 324.67,1599.56 325.04,1599.57 325.41,1599.59 325.78,1599.6 326.15,1599.62 326.52,1599.64 326.89,1599.65 327.26,1599.67 327.63,1599.69 328,1599.71 328.38,1599.73 328.75,1599.76 329.12,1599.78 329.49,1599.8 329.86,1599.82 330.23,1599.84 330.6,1599.87 330.97,1599.89 331.34,1599.91 331.72,1599.93 332.09,1599.95 332.46,1599.97 332.83,1599.99 333.2,1600.01 333.57,1600.03 333.94,1600.04 334.31,1600.06 334.68,1600.07 335.05,1600.08 335.43,1600.09 335.8,1600.1 336.17,1600.11 336.54,1600.11 336.91,1600.12 337.28,1600.12 337.65,1600.12 338.02,1600.11 338.39,1600.11 338.76,1600.1 339.13,1600.09 339.51,1600.08 339.88,1600.07 340.25,1600.06 340.62,1600.04 340.99,1600.03 341.36,1600.01 341.73,1599.99 342.1,1599.97 342.47,1599.95 342.85,1599.93 343.22,1599.91 343.59,1599.89 343.96,1599.87 344.33,1599.84 344.7,1599.82 345.07,1599.8 345.44,1599.78 345.81,1599.76 346.18,1599.73 346.56,1599.71 346.93,1599.69 347.3,1599.67 347.67,1599.65 348.04,1599.64 348.41,1599.62 348.78,1599.6 349.15,1599.59 349.52,1599.57 349.89,1599.56 350.26,1599.55 350.64,1599.54 351.01,1599.54 351.38,1599.53 351.75,1599.53 352.12,1599.53 352.49,1599.53 352.86,1599.53 353.23,1599.53 353.6,1599.54 353.98,1599.55 354.35,1599.55 354.72,1599.56 355.09,1599.58 355.46,1599.59 355.83,1599.6 356.2,1599.61 356.57,1599.63 356.94,1599.65 357.31,1599.66 357.69,1599.68 358.06,1599.7 358.43,1599.72 358.8,1599.73 359.17,1599.75 359.54,1599.77 359.91,1599.79 360.28,1599.81 360.65,1599.83 361.02,1599.85 361.39,1599.87 361.77,1599.89 362.14,1599.91 362.51,1599.93 362.88,1599.95 363.25,1599.97 363.62,1599.99 363.99,1600.01 364.36,1600.02 364.73,1600.04 365.11,1600.05 365.48,1600.07 365.85,1600.08 366.22,1600.1 366.59,1600.11 366.96,1600.12 367.33,1600.13 367.7,1600.14 368.07,1600.15 368.44,1600.16 368.81,1600.17 369.19,1600.18 369.56,1600.18 369.93,1600.19 370.3,1600.2 370.67,1600.21 371.04,1600.22 371.41,1600.23 371.78,1600.24 372.15,1600.25 372.52,1600.26 372.9,1600.26 373.27,1600.27 373.64,1600.28 374.01,1600.29 374.38,1600.3 374.75,1600.3 375.12,1600.31 375.49,1600.32 375.86,1600.33 376.24,1600.33 376.61,1600.34 376.98,1600.35 377.35,1600.35 377.72,1600.36 378.09,1600.36 378.46,1600.37 378.83,1600.38 379.2,1600.38 379.57,1600.39 379.94,1600.39 380.32,1600.4 380.69,1600.4 381.06,1600.41 381.43,1600.41 381.8,1600.41 L381.8,1601.3 Z" fill="#1a9be6" fill-opacity="0.76" stroke="#1a88ee" stroke-width="2.2"/>
<rect x="83" y="1602.6" width="300" height="2.7" fill="#ffffff" />
<g shape-rendering="crispEdges">
<rect x="189.3" y="1605.3" width="100.4" height="9.7" fill="#0b84e8"/>
<rect x="86" y="1605.3" width="1" height="9.7" fill="#3cb53c"/>
<rect x="93" y="1605.3" width="1" height="9.7" fill="#7cc87c"/>
<rect x="94.5" y="1605.3" width="1" height="9.7" fill="#3cb53c"/>
<rect x="96" y="1605.3" width="1" height="9.7" fill="#3cb53c"/>
<rect x="101" y="1605.3" width="1" height="9.7" fill="#3cb53c"/>
<rect x="104" y="1605.3" width="1" height="9.7" fill="#7cc87c"/>
<rect x="106" y="1605.3" width="1" height="9.7" fill="#7cc87c"/>
<rect x="107" y="1605.3" width="1" height="9.7" fill="#7060b0"/>
<rect x="108" y="1605.3" width="1" height="9.7" fill="#0b84e8"/>
<rect x="110.5" y="1605.3" width="1" height="9.7" fill="#3cb53c"/>
<rect x="113" y="1605.3" width="1" height="9.7" fill="#3cb53c"/>
<rect x="114" y="1605.3" width="1" height="9.7" fill="#3cb53c"/>
<rect x="117" y="1605.3" width="1" height="9.7" fill="#3cb53c"/>
<rect x="119" y="1605.3" width="1" height="9.7" fill="#7cc87c"/>
<rect x="120" y="1605.3" width="2" height="9.7" fill="#ee2020"/>
<rect x="122" y="1605.3" width="2" height="9.7" fill="#808030"/>
<rect x="124" y="1605.3" width="1" height="9.7" fill="#7cc87c"/>
<rect x="125" y="1605.3" width="1" height="9.7" fill="#7060b0"/>
<rect x="126" y="1605.3" width="1" height="9.7" fill="#7060b0"/>
<rect x="128" y="1605.3" width="1" height="9.7" fill="#0b84e8"/>
<rect x="129" y="1605.3" width="1" height="9.7" fill="#3cb53c"/>
<rect x="132" y="1605.3" width="1.5" height="9.7" fill="#7cc87c"/>
<rect x="133" y="1605.3" width="1" height="9.7" fill="#3cb53c"/>
<rect x="135" y="1605.3" width="1" height="9.7" fill="#0b84e8"/>
<rect x="137" y="1605.3" width="1" height="9.7" fill="#3cb53c"/>
<rect x="138" y="1605.3" width="1" height="9.7" fill="#0b84e8"/>
<rect x="142" y="1605.3" width="2" height="9.7" fill="#3cb53c"/>
<rect x="143" y="1605.3" width="2" height="9.7" fill="#3cb53c"/>
<rect x="144" y="1605.3" width="1.5" height="9.7" fill="#3cb53c"/>
<rect x="145" y="1605.3" width="1" height="9.7" fill="#3cb53c"/>
<rect x="147" y="1605.3" width="1" height="9.7" fill="#3cb53c"/>
<rect x="148" y="1605.3" width="1.5" height="9.7" fill="#808030"/>
<rect x="149" y="1605.3" width="1" height="9.7" fill="#7cc87c"/>
<rect x="151" y="1605.3" width="1" height="9.7" fill="#7cc87c"/>
<rect x="153" y="1605.3" width="1" height="9.7" fill="#3cb53c"/>
<rect x="155" y="1605.3" width="1" height="9.7" fill="#3cb53c"/>
<rect x="156" y="1605.3" width="1" height="9.7" fill="#3cb53c"/>
<rect x="157" y="1605.3" width="1" height="9.7" fill="#7cc87c"/>
<rect x="158" y="1605.3" width="1" height="9.7" fill="#3cb53c"/>
<rect x="159" y="1605.3" width="1" height="9.7" fill="#3cb53c"/>
<rect x="160" y="1605.3" width="2" height="9.7" fill="#3cb53c"/>
<rect x="163" y="1605.3" width="2" height="9.7" fill="#3cb53c"/>
<rect x="164" y="1605.3" width="1.5" height="9.7" fill="#7cc87c"/>
<rect x="165" y="1605.3" width="2" height="9.7" fill="#0b84e8"/>
<rect x="166" y="1605.3" width="2" height="9.7" fill="#3cb53c"/>
<rect x="170" y="1605.3" width="1" height="9.7" fill="#3cb53c"/>
<rect x="171" y="1605.3" width="1" height="9.7" fill="#808030"/>
<rect x="172" y="1605.3" width="1" height="9.7" fill="#3cb53c"/>
<rect x="174" y="1605.3" width="2" height="9.7" fill="#7cc87c"/>
<rect x="175" y="1605.3" width="1.5" height="9.7" fill="#7060b0"/>
<rect x="177" y="1605.3" width="1" height="9.7" fill="#3cb53c"/>
<rect x="178" y="1605.3" width="1" height="9.7" fill="#7cc87c"/>
<rect x="179" y="1605.3" width="1" height="9.7" fill="#0b84e8"/>
<rect x="180" y="1605.3" width="1" height="9.7" fill="#7060b0"/>
<rect x="181" y="1605.3" width="1.5" height="9.7" fill="#3cb53c"/>
<rect x="182" y="1605.3" width="1" height="9.7" fill="#7cc87c"/>
<rect x="185" y="1605.3" width="2" height="9.7" fill="#3cb53c"/>
<rect x="186" y="1605.3" width="2" height="9.7" fill="#7060b0"/>
<rect x="187" y="1605.3" width="1" height="9.7" fill="#7cc87c"/>
<rect x="188" y="1605.3" width="1" height="9.7" fill="#0b84e8"/>
<rect x="290" y="1605.3" width="2" height="9.7" fill="#7060b0"/>
<rect x="291" y="1605.3" width="1" height="9.7" fill="#7cc87c"/>
<rect x="292" y="1605.3" width="1" height="9.7" fill="#3cb53c"/>
<rect x="293" y="1605.3" width="1" height="9.7" fill="#3cb53c"/>
<rect x="294" y="1605.3" width="1" height="9.7" fill="#7060b0"/>
<rect x="296" y="1605.3" width="1" height="9.7" fill="#3cb53c"/>
<rect x="297" y="1605.3" width="2" height="9.7" fill="#3cb53c"/>
<rect x="298" y="1605.3" width="1" height="9.7" fill="#7cc87c"/>
<rect x="299" y="1605.3" width="1.5" height="9.7" fill="#3cb53c"/>
<rect x="302" y="1605.3" width="1.5" height="9.7" fill="#3cb53c"/>
<rect x="304" y="1605.3" width="1" height="9.7" fill="#3cb53c"/>
<rect x="305" y="1605.3" width="1.5" height="9.7" fill="#3cb53c"/>
<rect x="307" y="1605.3" width="2" height="9.7" fill="#0b84e8"/>
<rect x="308" y="1605.3" width="1.5" height="9.7" fill="#3cb53c"/>
<rect x="309" y="1605.3" width="1" height="9.7" fill="#3cb53c"/>
<rect x="310" y="1605.3" width="1" height="9.7" fill="#7cc87c"/>
<rect x="311" y="1605.3" width="2" height="9.7" fill="#3cb53c"/>
<rect x="312" y="1605.3" width="1.5" height="9.7" fill="#0b84e8"/>
<rect x="313" y="1605.3" width="1" height="9.7" fill="#3cb53c"/>
<rect x="315" y="1605.3" width="2" height="9.7" fill="#3cb53c"/>
<rect x="316" y="1605.3" width="1" height="9.7" fill="#3cb53c"/>
<rect x="318" y="1605.3" width="1" height="9.7" fill="#3cb53c"/>
<rect x="319" y="1605.3" width="1" height="9.7" fill="#3cb53c"/>
<rect x="320" y="1605.3" width="1" height="9.7" fill="#3cb53c"/>
<rect x="321" y="1605.3" width="2" height="9.7" fill="#3cb53c"/>
<rect x="322" y="1605.3" width="1" height="9.7" fill="#3cb53c"/>
<rect x="323" y="1605.3" width="2" height="9.7" fill="#7cc87c"/>
<rect x="324" y="1605.3" width="1" height="9.7" fill="#3cb53c"/>
<rect x="325" y="1605.3" width="1" height="9.7" fill="#3cb53c"/>
<rect x="327" y="1605.3" width="2" height="9.7" fill="#3cb53c"/>
<rect x="329" y="1605.3" width="1.5" height="9.7" fill="#3cb53c"/>
<rect x="331" y="1605.3" width="2" height="9.7" fill="#3cb53c"/>
<rect x="332" y="1605.3" width="2" height="9.7" fill="#3cb53c"/>
<rect x="333" y="1605.3" width="2" height="9.7" fill="#3cb53c"/>
<rect x="334" y="1605.3" width="2" height="9.7" fill="#ee2020"/>
<rect x="335" y="1605.3" width="1" height="9.7" fill="#0b84e8"/>
<rect x="338" y="1605.3" width="1" height="9.7" fill="#3cb53c"/>
<rect x="339" y="1605.3" width="1.5" height="9.7" fill="#3cb53c"/>
<rect x="342" y="1605.3" width="2" height="9.7" fill="#3cb53c"/>
<rect x="343" y="1605.3" width="1" height="9.7" fill="#3cb53c"/>
<rect x="344" y="1605.3" width="1" height="9.7" fill="#7060b0"/>
<rect x="345" y="1605.3" width="1" height="9.7" fill="#3cb53c"/>
<rect x="346" y="1605.3" width="1" height="9.7" fill="#0b84e8"/>
<rect x="347" y="1605.3" width="1" height="9.7" fill="#3cb53c"/>
<rect x="349" y="1605.3" width="1.5" height="9.7" fill="#3cb53c"/>
<rect x="350" y="1605.3" width="1" height="9.7" fill="#3cb53c"/>
<rect x="352" y="1605.3" width="1.5" height="9.7" fill="#7cc87c"/>
<rect x="353" y="1605.3" width="1" height="9.7" fill="#ee2020"/>
<rect x="355" y="1605.3" width="1" height="9.7" fill="#3cb53c"/>
<rect x="356" y="1605.3" width="2" height="9.7" fill="#3cb53c"/>
<rect x="357" y="1605.3" width="2" height="9.7" fill="#3cb53c"/>
<rect x="360" y="1605.3" width="1.5" height="9.7" fill="#3cb53c"/>
<rect x="361" y="1605.3" width="2" height="9.7" fill="#3cb53c"/>
<rect x="363" y="1605.3" width="1" height="9.7" fill="#3cb53c"/>
<rect x="370.5" y="1605.3" width="1" height="9.7" fill="#5cbd5c"/>
<rect x="372" y="1605.3" width="1" height="9.7" fill="#5cbd5c"/>
<rect x="373.5" y="1605.3" width="1" height="9.7" fill="#5cbd5c"/>
<rect x="376" y="1605.3" width="1" height="9.7" fill="#5cbd5c"/>
<rect x="377.5" y="1605.3" width="1" height="9.7" fill="#5cbd5c"/>
<rect x="379.3" y="1605.3" width="1.2" height="9.7" fill="#ff0000"/>
</g>
<line x1="75" y1="1291.5" x2="75" y2="1616.5" stroke="#000" stroke-width="2" />
<line x1="70" y1="1615.5" x2="395" y2="1615.5" stroke="#000" stroke-width="2" />
<line x1="67.5" y1="1305.7" x2="75" y2="1305.7" stroke="#000" stroke-width="2" />
<text x="66.5" y="1313" font-size="20.5" text-anchor="end">1.00</text>
<line x1="67.5" y1="1379.6" x2="75" y2="1379.6" stroke="#000" stroke-width="2" />
<text x="66.5" y="1386.9" font-size="20.5" text-anchor="end">0.75</text>
<line x1="67.5" y1="1453.5" x2="75" y2="1453.5" stroke="#000" stroke-width="2" />
<text x="66.5" y="1460.8" font-size="20.5" text-anchor="end">0.50</text>
<line x1="67.5" y1="1527.4" x2="75" y2="1527.4" stroke="#000" stroke-width="2" />
<text x="66.5" y="1534.7" font-size="20.5" text-anchor="end">0.25</text>
<line x1="67.5" y1="1601.3" x2="75" y2="1601.3" stroke="#000" stroke-width="2" />
<text x="66.5" y="1608.6" font-size="20.5" text-anchor="end">0.00</text>
<line x1="85" y1="1615.5" x2="85" y2="1623.5" stroke="#000" stroke-width="2" />
<text x="85" y="1641.7" font-size="20.5" text-anchor="middle">-5.0</text>
<line x1="159.2" y1="1615.5" x2="159.2" y2="1623.5" stroke="#000" stroke-width="2" />
<text x="159.2" y="1641.7" font-size="20.5" text-anchor="middle">-2.5</text>
<line x1="233.4" y1="1615.5" x2="233.4" y2="1623.5" stroke="#000" stroke-width="2" />
<text x="233.4" y="1641.7" font-size="20.5" text-anchor="middle">0.0</text>
<line x1="307.6" y1="1615.5" x2="307.6" y2="1623.5" stroke="#000" stroke-width="2" />
<text x="307.6" y="1641.7" font-size="20.5" text-anchor="middle">2.5</text>
<line x1="381.8" y1="1615.5" x2="381.8" y2="1623.5" stroke="#000" stroke-width="2" />
<text x="381.8" y="1641.7" font-size="20.5" text-anchor="middle">5.0</text>
<text x="232.5" y="1671.7" font-size="23.3" text-anchor="middle" textLength="208.4" lengthAdjust="spacingAndGlyphs">Log2(Fold Change)</text>
<text x="0" y="0" font-size="23.5" text-anchor="middle" textLength="78.3" lengthAdjust="spacingAndGlyphs" transform="translate(18.5,1454.2) rotate(-90)">Density</text>
<rect x="404" y="36.2" width="341" height="50.3" fill="#ff6600" />
<text font-size="19.4" transform="translate(408.5,66.35) scale(1.041,1)">regulation of transcription</text>
<rect x="404" y="108.6" width="250.6" height="50.3" fill="#ffff00" />
<text font-size="19.4" transform="translate(408.5,138.75) scale(1.041,1)">regulation of transcription</text>
<rect x="404" y="181" width="250.6" height="50.3" fill="#ff1a00" />
<text font-size="19.4" transform="translate(408.5,213.25) scale(1.041,1)">cell adhesion</text>
<rect x="404" y="253.4" width="47.5" height="50.3" fill="#ff0500" />
<text font-size="19.4" transform="translate(408.5,283.55) scale(1.041,1)">negative regulation of Wnt signling</text>
<rect x="404" y="325.8" width="158.2" height="50.3" fill="#ff0500" />
<text font-size="19.4" transform="translate(408.5,355.95) scale(1.041,1)">nervous system development</text>
<rect x="404" y="398.2" width="379" height="50.3" fill="#ff0000" />
<text font-size="19.4" transform="translate(408.5,428.35) scale(1.041,1)">multicellular organism development</text>
<rect x="404" y="470.6" width="91.1" height="50.3" fill="#ff9000" />
<text font-size="19.4" transform="translate(408.5,500.75) scale(1.041,1)">positive regulation of apoptosis</text>
<rect x="404" y="543" width="166.9" height="50.3" fill="#ffe600" />
<text font-size="19.4" transform="translate(408.5,575.25) scale(1.041,1)">cell differentiation</text>
<rect x="404" y="615.4" width="73.9" height="50.3" fill="#ff2e00" />
<text font-size="19.4" transform="translate(408.5,645.55) scale(1.041,1)">gastrulation</text>
<rect x="404" y="687.8" width="111.3" height="50.3" fill="#ff2e00" />
<text font-size="19.4" transform="translate(408.5,717.95) scale(1.041,1)">mesendoderm development</text>
<rect x="404" y="760.2" width="111.3" height="50.3" fill="#ff7700" />
<text font-size="19.4" transform="translate(408.5,790.35) scale(1.041,1)">Wnt signaling pathway</text>
<rect x="404" y="832.6" width="187.2" height="50.3" fill="#ff7700" />
<text font-size="19.4" transform="translate(408.5,864.85) scale(1.041,1)">cell differentiation</text>
<line x1="404" y1="98" x2="803" y2="98" stroke="#000" stroke-width="4.2" stroke-dasharray="8.3 8.54" stroke-dashoffset="1.55"/>
<line x1="404" y1="242" x2="803" y2="242" stroke="#000" stroke-width="4.2" stroke-dasharray="8.3 8.54" stroke-dashoffset="1.55"/>
<line x1="404" y1="459.5" x2="803" y2="459.5" stroke="#000" stroke-width="4.2" stroke-dasharray="8.3 8.54" stroke-dashoffset="1.55"/>
<line x1="404" y1="604" x2="803" y2="604" stroke="#000" stroke-width="4.2" stroke-dasharray="8.3 8.54" stroke-dashoffset="1.55"/>
<line x1="402.5" y1="17.5" x2="402.5" y2="901.5" stroke="#000" stroke-width="3" />
<line x1="401" y1="18.5" x2="805" y2="18.5" stroke="#000" stroke-width="2.2" />
<line x1="803.7" y1="17.5" x2="803.7" y2="901" stroke="#000" stroke-width="2.4" />
<line x1="401" y1="900.3" x2="805" y2="900.3" stroke="#000" stroke-width="3" />
<line x1="426.7" y1="900" x2="426.7" y2="912.5" stroke="#000" stroke-width="2.5" />
<text x="426.7" y="932.5" font-size="20.2" text-anchor="middle">0</text>
<line x1="520.94" y1="900" x2="520.94" y2="912.5" stroke="#000" stroke-width="2.5" />
<text x="520.94" y="932.5" font-size="20.2" text-anchor="middle">4</text>
<line x1="615.18" y1="900" x2="615.18" y2="912.5" stroke="#000" stroke-width="2.5" />
<text x="615.18" y="932.5" font-size="20.2" text-anchor="middle">8</text>
<line x1="709.42" y1="900" x2="709.42" y2="912.5" stroke="#000" stroke-width="2.5" />
<text x="708.12" y="932.5" font-size="20.2" text-anchor="middle">12</text>
<line x1="803.66" y1="900" x2="803.66" y2="912.5" stroke="#000" stroke-width="2.5" />
<text x="802.36" y="932.5" font-size="20.2" text-anchor="middle">16</text>
<text x="628.3" y="951.8" font-size="20.2" text-anchor="middle" textLength="127.3" lengthAdjust="spacingAndGlyphs">GeneRatio(%)</text>
<text x="738" y="781.5" font-size="16.2">p-value</text>
<rect x="737.5" y="794" width="19.2" height="92.5" fill="url(#pg)" />
<line x1="751.5" y1="823.6" x2="756.7" y2="823.6" stroke="#fff" stroke-width="1" />
<line x1="737.5" y1="823.6" x2="742.5" y2="823.6" stroke="#fff" stroke-width="1" />
<line x1="751.5" y1="854.6" x2="756.7" y2="854.6" stroke="#fff" stroke-width="1" />
<line x1="737.5" y1="854.6" x2="742.5" y2="854.6" stroke="#fff" stroke-width="1" />
<text x="761" y="828.6" font-size="16.2">0.02</text>
<text x="761" y="860.3" font-size="16.2">0.01</text>
<line x1="306" y1="48" x2="402" y2="18.5" stroke="#ff0000" stroke-width="3.3" stroke-dasharray="10 9"/>
<line x1="306" y1="116" x2="402" y2="98" stroke="#ff0000" stroke-width="3.3" stroke-dasharray="10 9"/>
<line x1="306" y1="199" x2="402" y2="242" stroke="#ff0000" stroke-width="3.3" stroke-dasharray="10 9"/>
<line x1="306" y1="775" x2="402" y2="459.5" stroke="#ff0000" stroke-width="3.3" stroke-dasharray="10 9"/>
<line x1="306" y1="1059" x2="402" y2="604" stroke="#ff0000" stroke-width="3.3" stroke-dasharray="10 9"/>
<line x1="306" y1="1190" x2="399.5" y2="902" stroke="#ff0000" stroke-width="3.3" stroke-dasharray="10 9"/>
<line x1="805" y1="20" x2="1200" y2="20" stroke="#ff0000" stroke-width="3.3" stroke-dasharray="10 9"/>
<line x1="805" y1="98" x2="902" y2="204" stroke="#ff0000" stroke-width="3.3" stroke-dasharray="10 9"/>
<line x1="902" y1="204" x2="1200" y2="204" stroke="#ff0000" stroke-width="3.3" stroke-dasharray="10 9"/>
<line x1="805" y1="242" x2="902" y2="391.5" stroke="#ff0000" stroke-width="3.3" stroke-dasharray="10 9"/>
<line x1="902" y1="391.5" x2="1200" y2="391.5" stroke="#ff0000" stroke-width="3.3" stroke-dasharray="10 9"/>
<line x1="805" y1="459.5" x2="902" y2="576.8" stroke="#ff0000" stroke-width="3.3" stroke-dasharray="10 9"/>
<line x1="902" y1="576.8" x2="1200" y2="576.8" stroke="#ff0000" stroke-width="3.3" stroke-dasharray="10 9"/>
<line x1="805" y1="604" x2="902" y2="761.7" stroke="#ff0000" stroke-width="3.3" stroke-dasharray="10 9"/>
<line x1="902" y1="761.7" x2="1200" y2="761.7" stroke="#ff0000" stroke-width="3.3" stroke-dasharray="10 9"/>
<line x1="805" y1="900" x2="902" y2="955" stroke="#ff0000" stroke-width="3.3" stroke-dasharray="10 9"/>
<line x1="902" y1="955" x2="1200" y2="955" stroke="#ff0000" stroke-width="3.3" stroke-dasharray="10 9"/>
<line x1="978.2" y1="28.5" x2="978.2" y2="202.7" stroke="#000" stroke-width="2" />
<line x1="977.2" y1="201.7" x2="1151" y2="201.7" stroke="#000" stroke-width="2" />
<line x1="971.5" y1="43.3" x2="978.2" y2="43.3" stroke="#000" stroke-width="2" />
<text x="968.8" y="50.4" font-size="20" text-anchor="end">10</text>
<line x1="971.5" y1="84.65" x2="978.2" y2="84.65" stroke="#000" stroke-width="2" />
<text x="968.8" y="91.75" font-size="20" text-anchor="end">5</text>
<line x1="971.5" y1="126" x2="978.2" y2="126" stroke="#000" stroke-width="2" />
<text x="968.8" y="133.1" font-size="20" text-anchor="end">0</text>
<line x1="971.5" y1="167.35" x2="978.2" y2="167.35" stroke="#000" stroke-width="2" />
<text x="968.8" y="174.45" font-size="20" text-anchor="end">-5</text>
<line x1="978.6" y1="126" x2="1152" y2="126" stroke="#000" stroke-width="2.3" stroke-dasharray="3 3"/>
<path d="M1011.25,169.83 L1011.4,169.11 L1011.56,168.4 L1011.72,167.68 L1011.89,166.96 L1012.06,166.24 L1012.23,165.52 L1012.41,164.81 L1012.59,164.09 L1012.77,163.37 L1012.96,162.65 L1013.15,161.94 L1013.34,161.22 L1013.53,160.5 L1013.73,159.78 L1013.92,159.06 L1014.12,158.35 L1014.32,157.63 L1014.53,156.91 L1014.75,156.19 L1014.97,155.48 L1015.21,154.76 L1015.47,154.04 L1015.74,153.32 L1016.03,152.6 L1016.35,151.89 L1016.7,151.17 L1017.07,150.45 L1017.45,149.73 L1017.86,149.02 L1018.27,148.3 L1018.7,147.58 L1019.13,146.86 L1019.57,146.14 L1020.01,145.43 L1020.44,144.71 L1020.88,143.99 L1021.39,143.27 L1021.97,142.56 L1022.58,141.84 L1023.19,141.12 L1023.75,140.4 L1024.22,139.68 L1024.56,138.97 L1024.74,138.25 L1024.74,137.53 L1024.7,136.81 L1024.62,136.1 L1024.51,135.38 L1024.38,134.66 L1024.22,133.94 L1024.05,133.22 L1023.87,132.51 L1023.69,131.79 L1023.49,131.07 L1023.31,130.35 L1023.12,129.64 L1022.9,128.92 L1022.66,128.2 L1022.4,127.48 L1022.13,126.76 L1021.84,126.05 L1021.54,125.33 L1021.23,124.61 L1020.91,123.89 L1020.6,123.18 L1020.28,122.46 L1019.96,121.74 L1019.62,121.02 L1019.27,120.3 L1018.89,119.59 L1018.48,118.87 L1018.03,118.15 L1017.52,117.43 L1016.8,116.72 L1015.95,116 L1015.08,115.28 L1014.34,114.56 L1013.84,113.84 L1013.63,113.13 L1013.45,112.41 L1013.3,111.69 L1013.16,110.97 L1013.04,110.26 L1012.93,109.54 L1012.84,108.82 L1012.76,108.1 L1012.69,107.38 L1012.63,106.67 L1012.59,105.95 L1012.55,105.23 L1012.51,104.51 L1012.47,103.8 L1012.44,103.08 L1012.41,102.36 L1012.38,101.64 L1012.35,100.92 L1012.32,100.21 L1012.29,99.49 L1012.27,98.77 L1012.24,98.05 L1012.22,97.34 L1012.2,96.62 L1012.18,95.9 L1012.16,95.18 L1012.14,94.46 L1012.12,93.75 L1012.1,93.03 L1012.08,92.31 L1012.07,91.59 L1012.05,90.88 L1012.04,90.16 L1012.02,89.44 L1012.01,88.72 L1011.99,88 L1011.98,87.29 L1011.96,86.57 L1011.95,85.85 L1011.94,85.13 L1011.92,84.42 L1011.91,83.7 L1011.9,82.98 L1011.88,82.26 L1011.87,81.54 L1011.85,80.83 L1011.84,80.11 L1011.82,79.39 L1011.81,78.67 L1011.79,77.96 L1011.77,77.24 L1011.75,76.52 L1011.74,75.8 L1011.72,75.08 L1011.7,74.37 L1011.68,73.65 L1011.66,72.93 L1011.64,72.21 L1011.63,71.5 L1011.61,70.78 L1011.59,70.06 L1011.57,69.34 L1011.56,68.62 L1011.54,67.91 L1011.52,67.19 L1011.5,66.47 L1011.49,65.75 L1011.47,65.04 L1011.45,64.32 L1011.43,63.6 L1011.42,62.88 L1011.4,62.16 L1011.38,61.45 L1011.37,60.73 L1011.35,60.01 L1011.33,59.29 L1011.32,58.58 L1011.3,57.86 L1011.28,57.14 L1011.27,56.42 L1011.25,55.7 L1010.25,55.7 L1010.23,56.42 L1010.22,57.14 L1010.2,57.86 L1010.18,58.58 L1010.17,59.29 L1010.15,60.01 L1010.13,60.73 L1010.12,61.45 L1010.1,62.16 L1010.08,62.88 L1010.07,63.6 L1010.05,64.32 L1010.03,65.04 L1010.01,65.75 L1010,66.47 L1009.98,67.19 L1009.96,67.91 L1009.94,68.62 L1009.93,69.34 L1009.91,70.06 L1009.89,70.78 L1009.87,71.5 L1009.86,72.21 L1009.84,72.93 L1009.82,73.65 L1009.8,74.37 L1009.78,75.08 L1009.76,75.8 L1009.75,76.52 L1009.73,77.24 L1009.71,77.96 L1009.69,78.67 L1009.68,79.39 L1009.66,80.11 L1009.65,80.83 L1009.63,81.54 L1009.62,82.26 L1009.6,82.98 L1009.59,83.7 L1009.58,84.42 L1009.56,85.13 L1009.55,85.85 L1009.54,86.57 L1009.52,87.29 L1009.51,88 L1009.49,88.72 L1009.48,89.44 L1009.46,90.16 L1009.45,90.88 L1009.43,91.59 L1009.42,92.31 L1009.4,93.03 L1009.38,93.75 L1009.36,94.46 L1009.34,95.18 L1009.32,95.9 L1009.3,96.62 L1009.28,97.34 L1009.26,98.05 L1009.23,98.77 L1009.21,99.49 L1009.18,100.21 L1009.15,100.92 L1009.12,101.64 L1009.09,102.36 L1009.06,103.08 L1009.03,103.8 L1008.99,104.51 L1008.95,105.23 L1008.91,105.95 L1008.87,106.67 L1008.81,107.38 L1008.74,108.1 L1008.66,108.82 L1008.57,109.54 L1008.46,110.26 L1008.34,110.97 L1008.2,111.69 L1008.05,112.41 L1007.87,113.13 L1007.66,113.84 L1007.16,114.56 L1006.42,115.28 L1005.55,116 L1004.7,116.72 L1003.98,117.43 L1003.47,118.15 L1003.02,118.87 L1002.61,119.59 L1002.23,120.3 L1001.88,121.02 L1001.54,121.74 L1001.22,122.46 L1000.9,123.18 L1000.59,123.89 L1000.27,124.61 L999.96,125.33 L999.66,126.05 L999.37,126.76 L999.1,127.48 L998.84,128.2 L998.6,128.92 L998.38,129.64 L998.19,130.35 L998.01,131.07 L997.81,131.79 L997.63,132.51 L997.45,133.22 L997.28,133.94 L997.12,134.66 L996.99,135.38 L996.88,136.1 L996.8,136.81 L996.76,137.53 L996.76,138.25 L996.94,138.97 L997.28,139.68 L997.75,140.4 L998.31,141.12 L998.92,141.84 L999.53,142.56 L1000.11,143.27 L1000.62,143.99 L1001.06,144.71 L1001.49,145.43 L1001.93,146.14 L1002.37,146.86 L1002.8,147.58 L1003.23,148.3 L1003.64,149.02 L1004.05,149.73 L1004.43,150.45 L1004.8,151.17 L1005.15,151.89 L1005.47,152.6 L1005.76,153.32 L1006.03,154.04 L1006.29,154.76 L1006.53,155.48 L1006.75,156.19 L1006.97,156.91 L1007.18,157.63 L1007.38,158.35 L1007.58,159.06 L1007.77,159.78 L1007.97,160.5 L1008.16,161.22 L1008.35,161.94 L1008.54,162.65 L1008.73,163.37 L1008.91,164.09 L1009.09,164.81 L1009.27,165.52 L1009.44,166.24 L1009.61,166.96 L1009.78,167.68 L1009.94,168.4 L1010.1,169.11 L1010.25,169.83 Z" fill="#e60000" stroke="#000" stroke-width="2.1" stroke-linejoin="round"/>
<path d="M1064.75,194.64 L1064.82,194.24 L1064.89,193.83 L1064.96,193.43 L1065.03,193.03 L1065.1,192.63 L1065.16,192.22 L1065.22,191.82 L1065.29,191.42 L1065.35,191.01 L1065.41,190.61 L1065.46,190.21 L1065.52,189.8 L1065.58,189.4 L1065.63,189 L1065.68,188.59 L1065.73,188.19 L1065.78,187.79 L1065.82,187.39 L1065.86,186.98 L1065.9,186.58 L1065.94,186.18 L1065.97,185.77 L1066.01,185.37 L1066.04,184.97 L1066.08,184.56 L1066.12,184.16 L1066.16,183.76 L1066.21,183.35 L1066.27,182.95 L1066.33,182.55 L1066.42,182.14 L1066.51,181.74 L1066.62,181.34 L1066.73,180.94 L1066.85,180.53 L1066.96,180.13 L1067.07,179.73 L1067.17,179.32 L1067.26,178.92 L1067.34,178.52 L1067.4,178.11 L1067.43,177.71 L1067.45,177.31 L1067.44,176.9 L1067.4,176.5 L1067.34,176.1 L1067.27,175.7 L1067.18,175.29 L1067.08,174.89 L1066.98,174.49 L1066.87,174.08 L1066.77,173.68 L1066.68,173.28 L1066.6,172.87 L1066.53,172.47 L1066.48,172.07 L1066.45,171.66 L1066.46,171.26 L1066.55,170.86 L1066.72,170.46 L1066.95,170.05 L1067.23,169.65 L1067.55,169.25 L1067.9,168.84 L1068.26,168.44 L1068.64,168.04 L1069,167.63 L1069.35,167.23 L1069.73,166.83 L1070.13,166.42 L1070.57,166.02 L1071.02,165.62 L1071.51,165.21 L1072,164.81 L1072.52,164.41 L1073.04,164.01 L1073.57,163.6 L1074.11,163.2 L1074.64,162.8 L1075.18,162.39 L1075.7,161.99 L1076.22,161.59 L1076.76,161.18 L1077.38,160.78 L1078.05,160.38 L1078.74,159.97 L1079.45,159.57 L1080.13,159.17 L1080.79,158.77 L1081.38,158.36 L1081.89,157.96 L1082.31,157.56 L1082.59,157.15 L1082.74,156.75 L1082.73,156.35 L1082.6,155.94 L1082.38,155.54 L1082.08,155.14 L1081.71,154.73 L1081.29,154.33 L1080.83,153.93 L1080.36,153.53 L1079.87,153.12 L1079.4,152.72 L1078.95,152.32 L1078.54,151.91 L1078.19,151.51 L1077.91,151.11 L1077.7,150.7 L1077.54,150.3 L1077.39,149.9 L1077.26,149.49 L1077.14,149.09 L1077.03,148.69 L1076.92,148.28 L1076.82,147.88 L1076.71,147.48 L1076.61,147.08 L1076.5,146.67 L1076.38,146.27 L1076.26,145.87 L1076.13,145.46 L1076,145.06 L1075.88,144.66 L1075.76,144.25 L1075.64,143.85 L1075.5,143.45 L1075.36,143.04 L1075.2,142.64 L1075.02,142.24 L1074.82,141.84 L1074.57,141.43 L1074.24,141.03 L1073.83,140.63 L1073.37,140.22 L1072.89,139.82 L1072.39,139.42 L1071.91,139.01 L1071.46,138.61 L1071.06,138.21 L1070.66,137.8 L1070.27,137.4 L1069.88,137 L1069.5,136.59 L1069.12,136.19 L1068.75,135.79 L1068.38,135.39 L1068.03,134.98 L1067.68,134.58 L1067.34,134.18 L1067.01,133.77 L1066.69,133.37 L1066.39,132.97 L1066.09,132.56 L1065.81,132.16 L1065.53,131.76 L1065.26,131.35 L1065,130.95 L1064.75,130.55 L1063.75,130.55 L1063.5,130.95 L1063.24,131.35 L1062.97,131.76 L1062.69,132.16 L1062.41,132.56 L1062.11,132.97 L1061.81,133.37 L1061.49,133.77 L1061.16,134.18 L1060.82,134.58 L1060.47,134.98 L1060.12,135.39 L1059.75,135.79 L1059.38,136.19 L1059,136.59 L1058.62,137 L1058.23,137.4 L1057.84,137.8 L1057.44,138.21 L1057.04,138.61 L1056.59,139.01 L1056.11,139.42 L1055.61,139.82 L1055.13,140.22 L1054.67,140.63 L1054.26,141.03 L1053.93,141.43 L1053.68,141.84 L1053.48,142.24 L1053.3,142.64 L1053.14,143.04 L1053,143.45 L1052.86,143.85 L1052.74,144.25 L1052.62,144.66 L1052.5,145.06 L1052.37,145.46 L1052.24,145.87 L1052.12,146.27 L1052,146.67 L1051.89,147.08 L1051.79,147.48 L1051.68,147.88 L1051.58,148.28 L1051.47,148.69 L1051.36,149.09 L1051.24,149.49 L1051.11,149.9 L1050.96,150.3 L1050.8,150.7 L1050.59,151.11 L1050.31,151.51 L1049.96,151.91 L1049.55,152.32 L1049.1,152.72 L1048.63,153.12 L1048.14,153.53 L1047.67,153.93 L1047.21,154.33 L1046.79,154.73 L1046.42,155.14 L1046.12,155.54 L1045.9,155.94 L1045.77,156.35 L1045.76,156.75 L1045.91,157.15 L1046.19,157.56 L1046.61,157.96 L1047.12,158.36 L1047.71,158.77 L1048.37,159.17 L1049.05,159.57 L1049.76,159.97 L1050.45,160.38 L1051.12,160.78 L1051.74,161.18 L1052.28,161.59 L1052.8,161.99 L1053.32,162.39 L1053.86,162.8 L1054.39,163.2 L1054.93,163.6 L1055.46,164.01 L1055.98,164.41 L1056.5,164.81 L1056.99,165.21 L1057.48,165.62 L1057.93,166.02 L1058.37,166.42 L1058.77,166.83 L1059.15,167.23 L1059.5,167.63 L1059.86,168.04 L1060.24,168.44 L1060.6,168.84 L1060.95,169.25 L1061.27,169.65 L1061.55,170.05 L1061.78,170.46 L1061.95,170.86 L1062.04,171.26 L1062.05,171.66 L1062.02,172.07 L1061.97,172.47 L1061.9,172.87 L1061.82,173.28 L1061.73,173.68 L1061.63,174.08 L1061.52,174.49 L1061.42,174.89 L1061.32,175.29 L1061.23,175.7 L1061.16,176.1 L1061.1,176.5 L1061.06,176.9 L1061.05,177.31 L1061.07,177.71 L1061.1,178.11 L1061.16,178.52 L1061.24,178.92 L1061.33,179.32 L1061.43,179.73 L1061.54,180.13 L1061.65,180.53 L1061.77,180.94 L1061.88,181.34 L1061.99,181.74 L1062.08,182.14 L1062.17,182.55 L1062.23,182.95 L1062.29,183.35 L1062.34,183.76 L1062.38,184.16 L1062.42,184.56 L1062.46,184.97 L1062.49,185.37 L1062.53,185.77 L1062.56,186.18 L1062.6,186.58 L1062.64,186.98 L1062.68,187.39 L1062.72,187.79 L1062.77,188.19 L1062.82,188.59 L1062.87,189 L1062.92,189.4 L1062.98,189.8 L1063.04,190.21 L1063.09,190.61 L1063.15,191.01 L1063.21,191.42 L1063.28,191.82 L1063.34,192.22 L1063.4,192.63 L1063.47,193.03 L1063.54,193.43 L1063.61,193.83 L1063.68,194.24 L1063.75,194.64 Z" fill="#44b244" stroke="#000" stroke-width="2.1" stroke-linejoin="round"/>
<path d="M1119.75,183.89 L1119.99,183.36 L1120.23,182.83 L1120.45,182.3 L1120.66,181.77 L1120.85,181.24 L1121.02,180.71 L1121.17,180.18 L1121.29,179.65 L1121.38,179.12 L1121.43,178.58 L1121.45,178.05 L1121.44,177.52 L1121.43,176.99 L1121.41,176.46 L1121.38,175.93 L1121.34,175.4 L1121.3,174.87 L1121.26,174.34 L1121.22,173.81 L1121.18,173.28 L1121.14,172.75 L1121.1,172.22 L1121.06,171.69 L1121.03,171.16 L1121,170.63 L1120.96,170.1 L1120.92,169.57 L1120.89,169.04 L1120.85,168.5 L1120.81,167.97 L1120.77,167.44 L1120.73,166.91 L1120.69,166.38 L1120.65,165.85 L1120.62,165.32 L1120.59,164.79 L1120.56,164.26 L1120.53,163.73 L1120.5,163.2 L1120.48,162.67 L1120.47,162.14 L1120.46,161.61 L1120.45,161.08 L1120.45,160.55 L1120.48,160.02 L1120.52,159.49 L1120.59,158.96 L1120.68,158.42 L1120.78,157.89 L1120.88,157.36 L1120.99,156.83 L1121.09,156.3 L1121.19,155.77 L1121.28,155.24 L1121.35,154.71 L1121.41,154.18 L1121.44,153.65 L1121.45,153.12 L1121.42,152.59 L1121.36,152.06 L1121.27,151.53 L1121.17,151 L1121.06,150.47 L1120.94,149.94 L1120.82,149.41 L1120.71,148.88 L1120.61,148.34 L1120.53,147.81 L1120.47,147.28 L1120.45,146.75 L1120.46,146.22 L1120.5,145.69 L1120.56,145.16 L1120.64,144.63 L1120.74,144.1 L1120.86,143.57 L1120.99,143.04 L1121.14,142.51 L1121.29,141.98 L1121.45,141.45 L1121.61,140.92 L1121.78,140.39 L1121.96,139.86 L1122.17,139.33 L1122.41,138.8 L1122.68,138.26 L1122.99,137.73 L1123.32,137.2 L1123.68,136.67 L1124.08,136.14 L1124.52,135.61 L1125.06,135.08 L1125.7,134.55 L1126.43,134.02 L1127.24,133.49 L1128.12,132.96 L1129.06,132.43 L1130.04,131.9 L1131.12,131.37 L1132.39,130.84 L1133.8,130.31 L1135.32,129.78 L1136.91,129.25 L1138.53,128.72 L1140.27,128.18 L1142.52,127.65 L1144.95,127.12 L1147.16,126.59 L1148.73,126.06 L1149.24,125.53 L1148.66,125 L1147.37,124.47 L1145.72,123.94 L1144.07,123.41 L1142.69,122.88 L1141.34,122.35 L1139.96,121.82 L1138.57,121.29 L1137.24,120.76 L1135.98,120.23 L1134.84,119.7 L1133.86,119.17 L1132.95,118.64 L1132.08,118.1 L1131.26,117.57 L1130.48,117.04 L1129.75,116.51 L1129.05,115.98 L1128.4,115.45 L1127.79,114.92 L1127.22,114.39 L1126.67,113.86 L1126.14,113.33 L1125.64,112.8 L1125.17,112.27 L1124.73,111.74 L1124.33,111.21 L1123.98,110.68 L1123.67,110.15 L1123.4,109.62 L1123.16,109.09 L1122.93,108.55 L1122.72,108.02 L1122.52,107.49 L1122.33,106.96 L1122.15,106.43 L1121.96,105.9 L1121.77,105.37 L1121.57,104.84 L1121.38,104.31 L1121.18,103.78 L1120.99,103.25 L1120.81,102.72 L1120.62,102.19 L1120.44,101.66 L1120.27,101.13 L1120.09,100.6 L1119.92,100.07 L1119.75,99.54 L1118.75,99.54 L1118.58,100.07 L1118.41,100.6 L1118.23,101.13 L1118.06,101.66 L1117.88,102.19 L1117.69,102.72 L1117.51,103.25 L1117.32,103.78 L1117.12,104.31 L1116.93,104.84 L1116.73,105.37 L1116.54,105.9 L1116.35,106.43 L1116.17,106.96 L1115.98,107.49 L1115.78,108.02 L1115.57,108.55 L1115.34,109.09 L1115.1,109.62 L1114.83,110.15 L1114.52,110.68 L1114.17,111.21 L1113.77,111.74 L1113.33,112.27 L1112.86,112.8 L1112.36,113.33 L1111.83,113.86 L1111.28,114.39 L1110.71,114.92 L1110.1,115.45 L1109.45,115.98 L1108.75,116.51 L1108.02,117.04 L1107.24,117.57 L1106.42,118.1 L1105.55,118.64 L1104.64,119.17 L1103.66,119.7 L1102.52,120.23 L1101.26,120.76 L1099.93,121.29 L1098.54,121.82 L1097.16,122.35 L1095.81,122.88 L1094.43,123.41 L1092.78,123.94 L1091.13,124.47 L1089.84,125 L1089.26,125.53 L1089.77,126.06 L1091.34,126.59 L1093.55,127.12 L1095.98,127.65 L1098.23,128.18 L1099.97,128.72 L1101.59,129.25 L1103.18,129.78 L1104.7,130.31 L1106.11,130.84 L1107.38,131.37 L1108.46,131.9 L1109.44,132.43 L1110.38,132.96 L1111.26,133.49 L1112.07,134.02 L1112.8,134.55 L1113.44,135.08 L1113.98,135.61 L1114.42,136.14 L1114.82,136.67 L1115.18,137.2 L1115.51,137.73 L1115.82,138.26 L1116.09,138.8 L1116.33,139.33 L1116.54,139.86 L1116.72,140.39 L1116.89,140.92 L1117.05,141.45 L1117.21,141.98 L1117.36,142.51 L1117.51,143.04 L1117.64,143.57 L1117.76,144.1 L1117.86,144.63 L1117.94,145.16 L1118,145.69 L1118.04,146.22 L1118.05,146.75 L1118.03,147.28 L1117.97,147.81 L1117.89,148.34 L1117.79,148.88 L1117.68,149.41 L1117.56,149.94 L1117.44,150.47 L1117.33,151 L1117.23,151.53 L1117.14,152.06 L1117.08,152.59 L1117.05,153.12 L1117.06,153.65 L1117.09,154.18 L1117.15,154.71 L1117.22,155.24 L1117.31,155.77 L1117.41,156.3 L1117.51,156.83 L1117.62,157.36 L1117.72,157.89 L1117.82,158.42 L1117.91,158.96 L1117.98,159.49 L1118.02,160.02 L1118.05,160.55 L1118.05,161.08 L1118.04,161.61 L1118.03,162.14 L1118.02,162.67 L1118,163.2 L1117.97,163.73 L1117.94,164.26 L1117.91,164.79 L1117.88,165.32 L1117.85,165.85 L1117.81,166.38 L1117.77,166.91 L1117.73,167.44 L1117.69,167.97 L1117.65,168.5 L1117.61,169.04 L1117.58,169.57 L1117.54,170.1 L1117.5,170.63 L1117.47,171.16 L1117.44,171.69 L1117.4,172.22 L1117.36,172.75 L1117.32,173.28 L1117.28,173.81 L1117.24,174.34 L1117.2,174.87 L1117.16,175.4 L1117.12,175.93 L1117.09,176.46 L1117.07,176.99 L1117.06,177.52 L1117.05,178.05 L1117.07,178.58 L1117.12,179.12 L1117.21,179.65 L1117.33,180.18 L1117.48,180.71 L1117.65,181.24 L1117.84,181.77 L1118.05,182.3 L1118.27,182.83 L1118.51,183.36 L1118.75,183.89 Z" fill="#3d9bff" stroke="#000" stroke-width="2.1" stroke-linejoin="round"/>
<line x1="978.6" y1="126" x2="1152" y2="126" stroke="#000" stroke-width="2.3" stroke-dasharray="3 3"/>
<path d="M1010,37.5 V34 H1119 V37.5" fill="none" stroke="#444" stroke-width="1.3"/>
<text x="1064.5" y="35.5" font-size="17" text-anchor="middle" font-weight="bold" fill="#111">*</text>
<path d="M1010,56.2 V52.7 H1063.5 V56.2" fill="none" stroke="#444" stroke-width="1.3"/>
<text x="1036.75" y="54.2" font-size="17" text-anchor="middle" font-weight="bold" fill="#111">*</text>
<path d="M1063.5,50.2 V46.7 H1119 V50.2" fill="none" stroke="#444" stroke-width="1.3"/>
<text x="1091.25" y="48.2" font-size="17" text-anchor="middle" font-weight="bold" fill="#111">*</text>
<text font-size="20.3" text-anchor="middle" transform="translate(919.6,115.5) rotate(-90)">log<tspan font-size="15" dy="7">2</tspan><tspan dy="-7">(Fold Change)</tspan></text>
<text font-size="23.6" transform="translate(1171,71.8) rotate(90)">Cluster1</text>
<line x1="978.2" y1="215.5" x2="978.2" y2="389.5" stroke="#000" stroke-width="2" />
<line x1="977.2" y1="388.5" x2="1151" y2="388.5" stroke="#000" stroke-width="2" />
<line x1="971.5" y1="230.75" x2="978.2" y2="230.75" stroke="#000" stroke-width="2" />
<text x="968.8" y="237.85" font-size="20" text-anchor="end">10</text>
<line x1="971.5" y1="272.25" x2="978.2" y2="272.25" stroke="#000" stroke-width="2" />
<text x="968.8" y="279.35" font-size="20" text-anchor="end">5</text>
<line x1="971.5" y1="313.75" x2="978.2" y2="313.75" stroke="#000" stroke-width="2" />
<text x="968.8" y="320.85" font-size="20" text-anchor="end">0</text>
<line x1="971.5" y1="355.25" x2="978.2" y2="355.25" stroke="#000" stroke-width="2" />
<text x="968.8" y="362.35" font-size="20" text-anchor="end">-5</text>
<line x1="978.6" y1="313.75" x2="1152" y2="313.75" stroke="#000" stroke-width="2.3" stroke-dasharray="3 3"/>
<path d="M1011.25,380.15 L1011.28,379.37 L1011.31,378.58 L1011.34,377.8 L1011.37,377.02 L1011.4,376.23 L1011.43,375.45 L1011.45,374.67 L1011.48,373.89 L1011.51,373.1 L1011.53,372.32 L1011.56,371.54 L1011.58,370.75 L1011.6,369.97 L1011.62,369.19 L1011.64,368.4 L1011.66,367.62 L1011.68,366.84 L1011.7,366.06 L1011.72,365.27 L1011.73,364.49 L1011.75,363.71 L1011.76,362.92 L1011.77,362.14 L1011.78,361.36 L1011.79,360.57 L1011.8,359.79 L1011.81,359.01 L1011.81,358.23 L1011.82,357.44 L1011.83,356.66 L1011.83,355.88 L1011.84,355.09 L1011.85,354.31 L1011.85,353.53 L1011.86,352.74 L1011.87,351.96 L1011.88,351.18 L1011.89,350.4 L1011.9,349.61 L1011.91,348.83 L1011.93,348.05 L1011.94,347.26 L1011.96,346.48 L1011.99,345.7 L1012.04,344.91 L1012.09,344.13 L1012.15,343.35 L1012.21,342.57 L1012.28,341.78 L1012.36,341 L1012.44,340.22 L1012.53,339.43 L1012.61,338.65 L1012.7,337.87 L1012.79,337.08 L1012.87,336.3 L1012.96,335.52 L1013.06,334.73 L1013.16,333.95 L1013.26,333.17 L1013.37,332.39 L1013.49,331.6 L1013.61,330.82 L1013.74,330.04 L1013.87,329.25 L1014.01,328.47 L1014.16,327.69 L1014.32,326.9 L1014.49,326.12 L1014.66,325.34 L1014.85,324.56 L1015.1,323.77 L1015.4,322.99 L1015.74,322.21 L1016.1,321.42 L1016.47,320.64 L1016.85,319.86 L1017.22,319.07 L1017.56,318.29 L1017.86,317.51 L1018.12,316.73 L1018.32,315.94 L1018.51,315.16 L1018.7,314.38 L1018.89,313.59 L1019.06,312.81 L1019.22,312.03 L1019.35,311.24 L1019.45,310.46 L1019.52,309.68 L1019.55,308.9 L1019.54,308.11 L1019.49,307.33 L1019.4,306.55 L1019.29,305.76 L1019.15,304.98 L1019,304.2 L1018.83,303.41 L1018.65,302.63 L1018.46,301.85 L1018.27,301.07 L1018.08,300.28 L1017.9,299.5 L1017.73,298.72 L1017.56,297.93 L1017.37,297.15 L1017.18,296.37 L1016.97,295.58 L1016.77,294.8 L1016.56,294.02 L1016.34,293.23 L1016.13,292.45 L1015.93,291.67 L1015.73,290.89 L1015.53,290.1 L1015.35,289.32 L1015.18,288.54 L1015.02,287.75 L1014.85,286.97 L1014.69,286.19 L1014.52,285.4 L1014.37,284.62 L1014.21,283.84 L1014.06,283.06 L1013.92,282.27 L1013.78,281.49 L1013.64,280.71 L1013.52,279.92 L1013.4,279.14 L1013.29,278.36 L1013.19,277.57 L1013.09,276.79 L1013,276.01 L1012.92,275.23 L1012.83,274.44 L1012.76,273.66 L1012.68,272.88 L1012.61,272.09 L1012.54,271.31 L1012.47,270.53 L1012.4,269.74 L1012.33,268.96 L1012.26,268.18 L1012.19,267.4 L1012.12,266.61 L1012.05,265.83 L1011.98,265.05 L1011.92,264.26 L1011.85,263.48 L1011.79,262.7 L1011.72,261.91 L1011.66,261.13 L1011.6,260.35 L1011.54,259.57 L1011.48,258.78 L1011.42,258 L1011.36,257.22 L1011.3,256.43 L1011.25,255.65 L1010.25,255.65 L1010.2,256.43 L1010.14,257.22 L1010.08,258 L1010.02,258.78 L1009.96,259.57 L1009.9,260.35 L1009.84,261.13 L1009.78,261.91 L1009.71,262.7 L1009.65,263.48 L1009.58,264.26 L1009.52,265.05 L1009.45,265.83 L1009.38,266.61 L1009.31,267.4 L1009.24,268.18 L1009.17,268.96 L1009.1,269.74 L1009.03,270.53 L1008.96,271.31 L1008.89,272.09 L1008.82,272.88 L1008.74,273.66 L1008.67,274.44 L1008.58,275.23 L1008.5,276.01 L1008.41,276.79 L1008.31,277.57 L1008.21,278.36 L1008.1,279.14 L1007.98,279.92 L1007.86,280.71 L1007.72,281.49 L1007.58,282.27 L1007.44,283.06 L1007.29,283.84 L1007.13,284.62 L1006.98,285.4 L1006.81,286.19 L1006.65,286.97 L1006.48,287.75 L1006.32,288.54 L1006.15,289.32 L1005.97,290.1 L1005.77,290.89 L1005.57,291.67 L1005.37,292.45 L1005.16,293.23 L1004.94,294.02 L1004.73,294.8 L1004.53,295.58 L1004.32,296.37 L1004.13,297.15 L1003.94,297.93 L1003.77,298.72 L1003.6,299.5 L1003.42,300.28 L1003.23,301.07 L1003.04,301.85 L1002.85,302.63 L1002.67,303.41 L1002.5,304.2 L1002.35,304.98 L1002.21,305.76 L1002.1,306.55 L1002.01,307.33 L1001.96,308.11 L1001.95,308.9 L1001.98,309.68 L1002.05,310.46 L1002.15,311.24 L1002.28,312.03 L1002.44,312.81 L1002.61,313.59 L1002.8,314.38 L1002.99,315.16 L1003.18,315.94 L1003.38,316.73 L1003.64,317.51 L1003.94,318.29 L1004.28,319.07 L1004.65,319.86 L1005.03,320.64 L1005.4,321.42 L1005.76,322.21 L1006.1,322.99 L1006.4,323.77 L1006.65,324.56 L1006.84,325.34 L1007.01,326.12 L1007.18,326.9 L1007.34,327.69 L1007.49,328.47 L1007.63,329.25 L1007.76,330.04 L1007.89,330.82 L1008.01,331.6 L1008.13,332.39 L1008.24,333.17 L1008.34,333.95 L1008.44,334.73 L1008.54,335.52 L1008.63,336.3 L1008.71,337.08 L1008.8,337.87 L1008.89,338.65 L1008.97,339.43 L1009.06,340.22 L1009.14,341 L1009.22,341.78 L1009.29,342.57 L1009.35,343.35 L1009.41,344.13 L1009.46,344.91 L1009.51,345.7 L1009.54,346.48 L1009.56,347.26 L1009.57,348.05 L1009.59,348.83 L1009.6,349.61 L1009.61,350.4 L1009.62,351.18 L1009.63,351.96 L1009.64,352.74 L1009.65,353.53 L1009.65,354.31 L1009.66,355.09 L1009.67,355.88 L1009.67,356.66 L1009.68,357.44 L1009.69,358.23 L1009.69,359.01 L1009.7,359.79 L1009.71,360.57 L1009.72,361.36 L1009.73,362.14 L1009.74,362.92 L1009.75,363.71 L1009.77,364.49 L1009.78,365.27 L1009.8,366.06 L1009.82,366.84 L1009.84,367.62 L1009.86,368.4 L1009.88,369.19 L1009.9,369.97 L1009.92,370.75 L1009.94,371.54 L1009.97,372.32 L1009.99,373.1 L1010.02,373.89 L1010.05,374.67 L1010.07,375.45 L1010.1,376.23 L1010.13,377.02 L1010.16,377.8 L1010.19,378.58 L1010.22,379.37 L1010.25,380.15 Z" fill="#e60000" stroke="#000" stroke-width="2.1" stroke-linejoin="round"/>
<path d="M1064.75,322.46 L1064.92,322.04 L1065.08,321.62 L1065.23,321.2 L1065.37,320.78 L1065.49,320.36 L1065.6,319.94 L1065.69,319.52 L1065.76,319.1 L1065.81,318.68 L1065.84,318.26 L1065.85,317.84 L1065.84,317.42 L1065.8,317 L1065.75,316.58 L1065.7,316.16 L1065.64,315.74 L1065.58,315.32 L1065.53,314.9 L1065.48,314.48 L1065.46,314.06 L1065.45,313.64 L1065.45,313.22 L1065.45,312.8 L1065.45,312.38 L1065.45,311.96 L1065.45,311.54 L1065.45,311.12 L1065.45,310.7 L1065.45,310.28 L1065.45,309.86 L1065.45,309.44 L1065.45,309.02 L1065.45,308.6 L1065.45,308.18 L1065.45,307.76 L1065.45,307.34 L1065.45,306.92 L1065.45,306.5 L1065.45,306.08 L1065.45,305.66 L1065.47,305.24 L1065.57,304.82 L1065.76,304.4 L1065.99,303.98 L1066.24,303.56 L1066.46,303.13 L1066.64,302.71 L1066.74,302.29 L1066.74,301.87 L1066.7,301.45 L1066.62,301.03 L1066.53,300.61 L1066.44,300.19 L1066.35,299.77 L1066.29,299.35 L1066.25,298.93 L1066.26,298.51 L1066.3,298.09 L1066.35,297.67 L1066.43,297.25 L1066.51,296.83 L1066.6,296.41 L1066.68,295.99 L1066.74,295.57 L1066.79,295.15 L1066.83,294.73 L1066.86,294.31 L1066.89,293.89 L1066.92,293.47 L1066.95,293.05 L1066.98,292.63 L1067.02,292.21 L1067.06,291.79 L1067.11,291.37 L1067.17,290.95 L1067.25,290.53 L1067.41,290.11 L1067.72,289.69 L1068.16,289.27 L1068.7,288.85 L1069.31,288.43 L1069.96,288.01 L1070.63,287.59 L1071.29,287.17 L1071.95,286.75 L1072.66,286.33 L1073.44,285.91 L1074.31,285.49 L1075.29,285.07 L1076.41,284.65 L1078.11,284.22 L1080.44,283.8 L1083.13,283.38 L1085.9,282.96 L1088.47,282.54 L1090.56,282.12 L1091.9,281.7 L1092.24,281.28 L1091.88,280.86 L1091.07,280.44 L1089.9,280.02 L1088.43,279.6 L1086.71,279.18 L1084.84,278.76 L1082.86,278.34 L1080.85,277.92 L1078.88,277.5 L1077.02,277.08 L1075.33,276.66 L1073.89,276.24 L1072.75,275.82 L1071.96,275.4 L1071.29,274.98 L1070.67,274.56 L1070.1,274.14 L1069.58,273.72 L1069.13,273.3 L1068.73,272.88 L1068.39,272.46 L1068.11,272.04 L1067.85,271.62 L1067.6,271.2 L1067.37,270.78 L1067.16,270.36 L1066.97,269.94 L1066.8,269.52 L1066.66,269.1 L1066.55,268.68 L1066.47,268.26 L1066.42,267.84 L1066.38,267.42 L1066.35,267 L1066.32,266.58 L1066.3,266.16 L1066.28,265.74 L1066.26,265.32 L1066.24,264.89 L1066.22,264.47 L1066.21,264.05 L1066.19,263.63 L1066.17,263.21 L1066.15,262.79 L1066.12,262.37 L1066.09,261.95 L1066.06,261.53 L1066.01,261.11 L1065.96,260.69 L1065.89,260.27 L1065.82,259.85 L1065.74,259.43 L1065.65,259.01 L1065.56,258.59 L1065.45,258.17 L1065.35,257.75 L1065.23,257.33 L1065.12,256.91 L1065,256.49 L1064.88,256.07 L1064.75,255.65 L1063.75,255.65 L1063.62,256.07 L1063.5,256.49 L1063.38,256.91 L1063.27,257.33 L1063.15,257.75 L1063.05,258.17 L1062.94,258.59 L1062.85,259.01 L1062.76,259.43 L1062.68,259.85 L1062.61,260.27 L1062.54,260.69 L1062.49,261.11 L1062.44,261.53 L1062.41,261.95 L1062.38,262.37 L1062.35,262.79 L1062.33,263.21 L1062.31,263.63 L1062.29,264.05 L1062.28,264.47 L1062.26,264.89 L1062.24,265.32 L1062.22,265.74 L1062.2,266.16 L1062.18,266.58 L1062.15,267 L1062.12,267.42 L1062.08,267.84 L1062.03,268.26 L1061.95,268.68 L1061.84,269.1 L1061.7,269.52 L1061.53,269.94 L1061.34,270.36 L1061.13,270.78 L1060.9,271.2 L1060.65,271.62 L1060.39,272.04 L1060.11,272.46 L1059.77,272.88 L1059.37,273.3 L1058.92,273.72 L1058.4,274.14 L1057.83,274.56 L1057.21,274.98 L1056.54,275.4 L1055.75,275.82 L1054.61,276.24 L1053.17,276.66 L1051.48,277.08 L1049.62,277.5 L1047.65,277.92 L1045.64,278.34 L1043.66,278.76 L1041.79,279.18 L1040.07,279.6 L1038.6,280.02 L1037.43,280.44 L1036.62,280.86 L1036.26,281.28 L1036.6,281.7 L1037.94,282.12 L1040.03,282.54 L1042.6,282.96 L1045.37,283.38 L1048.06,283.8 L1050.39,284.22 L1052.09,284.65 L1053.21,285.07 L1054.19,285.49 L1055.06,285.91 L1055.84,286.33 L1056.55,286.75 L1057.21,287.17 L1057.87,287.59 L1058.54,288.01 L1059.19,288.43 L1059.8,288.85 L1060.34,289.27 L1060.78,289.69 L1061.09,290.11 L1061.25,290.53 L1061.33,290.95 L1061.39,291.37 L1061.44,291.79 L1061.48,292.21 L1061.52,292.63 L1061.55,293.05 L1061.58,293.47 L1061.61,293.89 L1061.64,294.31 L1061.67,294.73 L1061.71,295.15 L1061.76,295.57 L1061.82,295.99 L1061.9,296.41 L1061.99,296.83 L1062.07,297.25 L1062.15,297.67 L1062.2,298.09 L1062.24,298.51 L1062.25,298.93 L1062.21,299.35 L1062.15,299.77 L1062.06,300.19 L1061.97,300.61 L1061.88,301.03 L1061.8,301.45 L1061.76,301.87 L1061.76,302.29 L1061.86,302.71 L1062.04,303.13 L1062.26,303.56 L1062.51,303.98 L1062.74,304.4 L1062.93,304.82 L1063.03,305.24 L1063.05,305.66 L1063.05,306.08 L1063.05,306.5 L1063.05,306.92 L1063.05,307.34 L1063.05,307.76 L1063.05,308.18 L1063.05,308.6 L1063.05,309.02 L1063.05,309.44 L1063.05,309.86 L1063.05,310.28 L1063.05,310.7 L1063.05,311.12 L1063.05,311.54 L1063.05,311.96 L1063.05,312.38 L1063.05,312.8 L1063.05,313.22 L1063.05,313.64 L1063.04,314.06 L1063.02,314.48 L1062.97,314.9 L1062.92,315.32 L1062.86,315.74 L1062.8,316.16 L1062.75,316.58 L1062.7,317 L1062.66,317.42 L1062.65,317.84 L1062.66,318.26 L1062.69,318.68 L1062.74,319.1 L1062.81,319.52 L1062.9,319.94 L1063.01,320.36 L1063.13,320.78 L1063.27,321.2 L1063.42,321.62 L1063.58,322.04 L1063.75,322.46 Z" fill="#44b244" stroke="#000" stroke-width="2.1" stroke-linejoin="round"/>
<path d="M1118.75,361.06 L1118.75,360.31 L1118.76,359.56 L1118.77,358.8 L1118.79,358.05 L1118.81,357.3 L1118.83,356.55 L1118.86,355.8 L1118.89,355.05 L1118.93,354.29 L1118.97,353.54 L1119.01,352.79 L1119.05,352.04 L1119.1,351.29 L1119.15,350.54 L1119.2,349.78 L1119.26,349.03 L1119.31,348.28 L1119.37,347.53 L1119.43,346.78 L1119.49,346.03 L1119.55,345.27 L1119.61,344.52 L1119.67,343.77 L1119.73,343.02 L1119.8,342.27 L1119.87,341.52 L1119.94,340.76 L1120.03,340.01 L1120.12,339.26 L1120.22,338.51 L1120.32,337.76 L1120.43,337.01 L1120.55,336.25 L1120.67,335.5 L1120.8,334.75 L1120.94,334 L1121.08,333.25 L1121.24,332.5 L1121.41,331.74 L1121.61,330.99 L1121.84,330.24 L1122.09,329.49 L1122.36,328.74 L1122.63,327.99 L1122.9,327.23 L1123.16,326.48 L1123.41,325.73 L1123.66,324.98 L1123.92,324.23 L1124.19,323.48 L1124.45,322.72 L1124.71,321.97 L1124.97,321.22 L1125.22,320.47 L1125.46,319.72 L1125.68,318.96 L1125.9,318.21 L1126.13,317.46 L1126.37,316.71 L1126.61,315.96 L1126.85,315.21 L1127.08,314.45 L1127.29,313.7 L1127.48,312.95 L1127.64,312.2 L1127.75,311.45 L1127.83,310.7 L1127.85,309.94 L1127.8,309.19 L1127.67,308.44 L1127.47,307.69 L1127.22,306.94 L1126.92,306.19 L1126.59,305.43 L1126.24,304.68 L1125.89,303.93 L1125.53,303.18 L1125.2,302.43 L1124.89,301.68 L1124.61,300.92 L1124.34,300.17 L1124.06,299.42 L1123.78,298.67 L1123.5,297.92 L1123.22,297.17 L1122.95,296.41 L1122.67,295.66 L1122.4,294.91 L1122.14,294.16 L1121.88,293.41 L1121.63,292.66 L1121.35,291.9 L1121.06,291.15 L1120.76,290.4 L1120.47,289.65 L1120.21,288.9 L1119.99,288.15 L1119.84,287.39 L1119.76,286.64 L1119.77,285.89 L1119.86,285.14 L1120.02,284.39 L1120.2,283.64 L1120.4,282.88 L1120.57,282.13 L1120.69,281.38 L1120.75,280.63 L1120.73,279.88 L1120.66,279.12 L1120.56,278.37 L1120.44,277.62 L1120.29,276.87 L1120.14,276.12 L1119.98,275.37 L1119.84,274.61 L1119.71,273.86 L1119.62,273.11 L1119.56,272.36 L1119.52,271.61 L1119.5,270.86 L1119.47,270.1 L1119.45,269.35 L1119.43,268.6 L1119.41,267.85 L1119.39,267.1 L1119.38,266.35 L1119.36,265.59 L1119.35,264.84 L1119.34,264.09 L1119.32,263.34 L1119.31,262.59 L1119.3,261.84 L1119.28,261.08 L1119.26,260.33 L1119.24,259.58 L1119.23,258.83 L1119.21,258.08 L1119.19,257.33 L1119.17,256.57 L1119.15,255.82 L1119.13,255.07 L1119.11,254.32 L1119.09,253.57 L1119.07,252.82 L1119.05,252.06 L1119.03,251.31 L1119.01,250.56 L1118.99,249.81 L1118.96,249.06 L1118.94,248.31 L1118.92,247.55 L1118.9,246.8 L1118.88,246.05 L1118.86,245.3 L1118.84,244.55 L1118.82,243.8 L1118.79,243.04 L1118.77,242.29 L1118.75,241.54 L1117.75,241.54 L1117.73,242.29 L1117.71,243.04 L1117.68,243.8 L1117.66,244.55 L1117.64,245.3 L1117.62,246.05 L1117.6,246.8 L1117.58,247.55 L1117.56,248.31 L1117.54,249.06 L1117.51,249.81 L1117.49,250.56 L1117.47,251.31 L1117.45,252.06 L1117.43,252.82 L1117.41,253.57 L1117.39,254.32 L1117.37,255.07 L1117.35,255.82 L1117.33,256.57 L1117.31,257.33 L1117.29,258.08 L1117.27,258.83 L1117.26,259.58 L1117.24,260.33 L1117.22,261.08 L1117.2,261.84 L1117.19,262.59 L1117.18,263.34 L1117.16,264.09 L1117.15,264.84 L1117.14,265.59 L1117.12,266.35 L1117.11,267.1 L1117.09,267.85 L1117.07,268.6 L1117.05,269.35 L1117.03,270.1 L1117,270.86 L1116.98,271.61 L1116.94,272.36 L1116.88,273.11 L1116.79,273.86 L1116.66,274.61 L1116.52,275.37 L1116.36,276.12 L1116.21,276.87 L1116.06,277.62 L1115.94,278.37 L1115.84,279.12 L1115.77,279.88 L1115.75,280.63 L1115.81,281.38 L1115.93,282.13 L1116.1,282.88 L1116.3,283.64 L1116.48,284.39 L1116.64,285.14 L1116.73,285.89 L1116.74,286.64 L1116.66,287.39 L1116.51,288.15 L1116.29,288.9 L1116.03,289.65 L1115.74,290.4 L1115.44,291.15 L1115.15,291.9 L1114.87,292.66 L1114.62,293.41 L1114.36,294.16 L1114.1,294.91 L1113.83,295.66 L1113.55,296.41 L1113.28,297.17 L1113,297.92 L1112.72,298.67 L1112.44,299.42 L1112.16,300.17 L1111.89,300.92 L1111.61,301.68 L1111.3,302.43 L1110.97,303.18 L1110.61,303.93 L1110.26,304.68 L1109.91,305.43 L1109.58,306.19 L1109.28,306.94 L1109.03,307.69 L1108.83,308.44 L1108.7,309.19 L1108.65,309.94 L1108.67,310.7 L1108.75,311.45 L1108.86,312.2 L1109.02,312.95 L1109.21,313.7 L1109.42,314.45 L1109.65,315.21 L1109.89,315.96 L1110.13,316.71 L1110.37,317.46 L1110.6,318.21 L1110.82,318.96 L1111.04,319.72 L1111.28,320.47 L1111.53,321.22 L1111.79,321.97 L1112.05,322.72 L1112.31,323.48 L1112.58,324.23 L1112.84,324.98 L1113.09,325.73 L1113.34,326.48 L1113.6,327.23 L1113.87,327.99 L1114.14,328.74 L1114.41,329.49 L1114.66,330.24 L1114.89,330.99 L1115.09,331.74 L1115.26,332.5 L1115.42,333.25 L1115.56,334 L1115.7,334.75 L1115.83,335.5 L1115.95,336.25 L1116.07,337.01 L1116.18,337.76 L1116.28,338.51 L1116.38,339.26 L1116.47,340.01 L1116.56,340.76 L1116.63,341.52 L1116.7,342.27 L1116.77,343.02 L1116.83,343.77 L1116.89,344.52 L1116.95,345.27 L1117.01,346.03 L1117.07,346.78 L1117.13,347.53 L1117.19,348.28 L1117.24,349.03 L1117.3,349.78 L1117.35,350.54 L1117.4,351.29 L1117.45,352.04 L1117.49,352.79 L1117.53,353.54 L1117.57,354.29 L1117.61,355.05 L1117.64,355.8 L1117.67,356.55 L1117.69,357.3 L1117.71,358.05 L1117.73,358.8 L1117.74,359.56 L1117.75,360.31 L1117.75,361.06 Z" fill="#3d9bff" stroke="#000" stroke-width="2.1" stroke-linejoin="round"/>
<line x1="978.6" y1="313.75" x2="1152" y2="313.75" stroke="#000" stroke-width="2.3" stroke-dasharray="3 3"/>
<path d="M1010,227.25 V223.75 H1118 V227.25" fill="none" stroke="#444" stroke-width="1.3"/>
<text x="1064" y="220.75" font-size="12" text-anchor="middle" fill="#444">ns</text>
<path d="M1010,243 V239.5 H1063.75 V243" fill="none" stroke="#444" stroke-width="1.3"/>
<text x="1036.88" y="241" font-size="17" text-anchor="middle" font-weight="bold" fill="#111">*</text>
<path d="M1063.75,237.25 V233.75 H1118 V237.25" fill="none" stroke="#444" stroke-width="1.3"/>
<text x="1090.88" y="235.25" font-size="17" text-anchor="middle" font-weight="bold" fill="#111">*</text>
<text font-size="20.3" text-anchor="middle" transform="translate(919.6,302.4) rotate(-90)">log<tspan font-size="15" dy="7">2</tspan><tspan dy="-7">(Fold Change)</tspan></text>
<text font-size="23.6" transform="translate(1171,257.55) rotate(90)">Cluster2</text>
<line x1="980.3" y1="400.5" x2="980.3" y2="575.3" stroke="#000" stroke-width="2" />
<line x1="979.3" y1="574.3" x2="1151" y2="574.3" stroke="#000" stroke-width="2" />
<line x1="971.5" y1="409" x2="980.3" y2="409" stroke="#000" stroke-width="2" />
<text x="968.8" y="416.1" font-size="20" text-anchor="end">7.5</text>
<line x1="971.5" y1="441.75" x2="980.3" y2="441.75" stroke="#000" stroke-width="2" />
<text x="968.8" y="448.85" font-size="20" text-anchor="end">5</text>
<line x1="971.5" y1="474.5" x2="980.3" y2="474.5" stroke="#000" stroke-width="2" />
<text x="968.8" y="481.6" font-size="20" text-anchor="end">2.5</text>
<line x1="971.5" y1="507.25" x2="980.3" y2="507.25" stroke="#000" stroke-width="2" />
<text x="968.8" y="514.35" font-size="20" text-anchor="end">0</text>
<line x1="971.5" y1="540" x2="980.3" y2="540" stroke="#000" stroke-width="2" />
<text x="968.8" y="547.1" font-size="20" text-anchor="end">-2.5</text>
<line x1="978.6" y1="507.25" x2="1152" y2="507.25" stroke="#000" stroke-width="2.3" stroke-dasharray="3 3"/>
<path d="M1007.5,566.2 L1007.53,565.43 L1007.57,564.65 L1007.6,563.88 L1007.64,563.1 L1007.67,562.33 L1007.7,561.55 L1007.73,560.78 L1007.76,560 L1007.79,559.23 L1007.82,558.46 L1007.85,557.68 L1007.88,556.91 L1007.91,556.13 L1007.94,555.36 L1007.96,554.58 L1007.99,553.81 L1008.01,553.03 L1008.04,552.26 L1008.06,551.49 L1008.09,550.71 L1008.11,549.94 L1008.13,549.16 L1008.15,548.39 L1008.17,547.61 L1008.19,546.84 L1008.21,546.06 L1008.23,545.29 L1008.24,544.51 L1008.26,543.74 L1008.27,542.97 L1008.28,542.19 L1008.29,541.42 L1008.3,540.64 L1008.31,539.87 L1008.32,539.09 L1008.33,538.32 L1008.34,537.54 L1008.36,536.77 L1008.37,536 L1008.38,535.22 L1008.4,534.45 L1008.42,533.67 L1008.44,532.9 L1008.46,532.12 L1008.48,531.35 L1008.51,530.57 L1008.55,529.8 L1008.6,529.03 L1008.67,528.25 L1008.75,527.48 L1008.84,526.7 L1008.94,525.93 L1009.06,525.15 L1009.18,524.38 L1009.32,523.6 L1009.47,522.83 L1009.62,522.06 L1009.79,521.28 L1009.96,520.51 L1010.18,519.73 L1010.48,518.96 L1010.85,518.18 L1011.26,517.41 L1011.69,516.63 L1012.11,515.86 L1012.51,515.09 L1012.9,514.31 L1013.31,513.54 L1013.72,512.76 L1014.15,511.99 L1014.56,511.21 L1014.98,510.44 L1015.38,509.66 L1015.77,508.89 L1016.13,508.12 L1016.46,507.34 L1016.79,506.57 L1017.12,505.79 L1017.47,505.02 L1017.82,504.24 L1018.17,503.47 L1018.5,502.69 L1018.82,501.92 L1019.11,501.14 L1019.38,500.37 L1019.6,499.6 L1019.78,498.82 L1019.91,498.05 L1019.99,497.27 L1020,496.5 L1019.95,495.72 L1019.86,494.95 L1019.73,494.17 L1019.56,493.4 L1019.36,492.63 L1019.12,491.85 L1018.87,491.08 L1018.59,490.3 L1018.29,489.53 L1017.99,488.75 L1017.67,487.98 L1017.36,487.2 L1017.04,486.43 L1016.73,485.66 L1016.44,484.88 L1016.15,484.11 L1015.88,483.33 L1015.6,482.56 L1015.31,481.78 L1015.01,481.01 L1014.7,480.23 L1014.39,479.46 L1014.07,478.69 L1013.75,477.91 L1013.44,477.14 L1013.13,476.36 L1012.84,475.59 L1012.55,474.81 L1012.28,474.04 L1012.02,473.26 L1011.78,472.49 L1011.54,471.72 L1011.29,470.94 L1011.05,470.17 L1010.82,469.39 L1010.59,468.62 L1010.36,467.84 L1010.15,467.07 L1009.95,466.29 L1009.76,465.52 L1009.58,464.75 L1009.42,463.97 L1009.28,463.2 L1009.16,462.42 L1009.04,461.65 L1008.93,460.87 L1008.83,460.1 L1008.74,459.32 L1008.66,458.55 L1008.57,457.77 L1008.5,457 L1008.42,456.23 L1008.35,455.45 L1008.29,454.68 L1008.22,453.9 L1008.15,453.13 L1008.09,452.35 L1008.03,451.58 L1007.97,450.8 L1007.91,450.03 L1007.85,449.26 L1007.8,448.48 L1007.75,447.71 L1007.7,446.93 L1007.65,446.16 L1007.61,445.38 L1007.57,444.61 L1007.53,443.83 L1007.5,443.06 L1006.5,443.06 L1006.47,443.83 L1006.43,444.61 L1006.39,445.38 L1006.35,446.16 L1006.3,446.93 L1006.25,447.71 L1006.2,448.48 L1006.15,449.26 L1006.09,450.03 L1006.03,450.8 L1005.97,451.58 L1005.91,452.35 L1005.85,453.13 L1005.78,453.9 L1005.71,454.68 L1005.65,455.45 L1005.58,456.23 L1005.5,457 L1005.43,457.77 L1005.34,458.55 L1005.26,459.32 L1005.17,460.1 L1005.07,460.87 L1004.96,461.65 L1004.84,462.42 L1004.72,463.2 L1004.58,463.97 L1004.42,464.75 L1004.24,465.52 L1004.05,466.29 L1003.85,467.07 L1003.64,467.84 L1003.41,468.62 L1003.18,469.39 L1002.95,470.17 L1002.71,470.94 L1002.46,471.72 L1002.22,472.49 L1001.98,473.26 L1001.72,474.04 L1001.45,474.81 L1001.16,475.59 L1000.87,476.36 L1000.56,477.14 L1000.25,477.91 L999.93,478.69 L999.61,479.46 L999.3,480.23 L998.99,481.01 L998.69,481.78 L998.4,482.56 L998.12,483.33 L997.85,484.11 L997.56,484.88 L997.27,485.66 L996.96,486.43 L996.64,487.2 L996.33,487.98 L996.01,488.75 L995.71,489.53 L995.41,490.3 L995.13,491.08 L994.88,491.85 L994.64,492.63 L994.44,493.4 L994.27,494.17 L994.14,494.95 L994.05,495.72 L994,496.5 L994.01,497.27 L994.09,498.05 L994.22,498.82 L994.4,499.6 L994.62,500.37 L994.89,501.14 L995.18,501.92 L995.5,502.69 L995.83,503.47 L996.18,504.24 L996.53,505.02 L996.88,505.79 L997.21,506.57 L997.54,507.34 L997.87,508.12 L998.23,508.89 L998.62,509.66 L999.02,510.44 L999.44,511.21 L999.85,511.99 L1000.28,512.76 L1000.69,513.54 L1001.1,514.31 L1001.49,515.09 L1001.89,515.86 L1002.31,516.63 L1002.74,517.41 L1003.15,518.18 L1003.52,518.96 L1003.82,519.73 L1004.04,520.51 L1004.21,521.28 L1004.38,522.06 L1004.53,522.83 L1004.68,523.6 L1004.82,524.38 L1004.94,525.15 L1005.06,525.93 L1005.16,526.7 L1005.25,527.48 L1005.33,528.25 L1005.4,529.03 L1005.45,529.8 L1005.49,530.57 L1005.52,531.35 L1005.54,532.12 L1005.56,532.9 L1005.58,533.67 L1005.6,534.45 L1005.62,535.22 L1005.63,536 L1005.64,536.77 L1005.66,537.54 L1005.67,538.32 L1005.68,539.09 L1005.69,539.87 L1005.7,540.64 L1005.71,541.42 L1005.72,542.19 L1005.73,542.97 L1005.74,543.74 L1005.76,544.51 L1005.77,545.29 L1005.79,546.06 L1005.81,546.84 L1005.83,547.61 L1005.85,548.39 L1005.87,549.16 L1005.89,549.94 L1005.91,550.71 L1005.94,551.49 L1005.96,552.26 L1005.99,553.03 L1006.01,553.81 L1006.04,554.58 L1006.06,555.36 L1006.09,556.13 L1006.12,556.91 L1006.15,557.68 L1006.18,558.46 L1006.21,559.23 L1006.24,560 L1006.27,560.78 L1006.3,561.55 L1006.33,562.33 L1006.36,563.1 L1006.4,563.88 L1006.43,564.65 L1006.47,565.43 L1006.5,566.2 Z" fill="#e60000" stroke="#000" stroke-width="2.1" stroke-linejoin="round"/>
<path d="M1061,526.9 L1061.05,526.32 L1061.1,525.73 L1061.15,525.15 L1061.19,524.56 L1061.24,523.98 L1061.29,523.39 L1061.34,522.81 L1061.39,522.22 L1061.44,521.64 L1061.49,521.05 L1061.54,520.47 L1061.59,519.88 L1061.64,519.3 L1061.69,518.71 L1061.74,518.13 L1061.79,517.54 L1061.84,516.96 L1061.89,516.37 L1061.94,515.79 L1061.99,515.2 L1062.04,514.62 L1062.09,514.03 L1062.13,513.45 L1062.17,512.86 L1062.21,512.28 L1062.25,511.69 L1062.3,511.11 L1062.34,510.52 L1062.39,509.94 L1062.45,509.35 L1062.51,508.77 L1062.57,508.18 L1062.65,507.6 L1062.74,507.01 L1062.85,506.43 L1062.99,505.84 L1063.15,505.26 L1063.34,504.67 L1063.55,504.09 L1063.79,503.5 L1064.05,502.92 L1064.33,502.33 L1064.65,501.75 L1065.08,501.16 L1065.6,500.58 L1066.21,499.99 L1066.88,499.41 L1067.58,498.82 L1068.31,498.24 L1069.05,497.65 L1069.88,497.07 L1070.77,496.48 L1071.74,495.9 L1072.78,495.31 L1074.09,494.73 L1075.67,494.14 L1077.4,493.56 L1079.15,492.97 L1080.82,492.39 L1082.28,491.8 L1083.41,491.22 L1084.1,490.63 L1084.23,490.05 L1083.92,489.46 L1083.28,488.88 L1082.38,488.29 L1081.27,487.71 L1080.03,487.12 L1078.72,486.54 L1077.41,485.95 L1076.16,485.37 L1075.04,484.78 L1074.11,484.2 L1073.45,483.61 L1072.93,483.03 L1072.45,482.44 L1072,481.86 L1071.58,481.27 L1071.19,480.69 L1070.82,480.1 L1070.48,479.52 L1070.15,478.93 L1069.83,478.35 L1069.52,477.76 L1069.21,477.18 L1068.91,476.59 L1068.6,476.01 L1068.3,475.42 L1067.99,474.84 L1067.7,474.25 L1067.41,473.67 L1067.13,473.08 L1066.86,472.5 L1066.59,471.91 L1066.34,471.33 L1066.09,470.74 L1065.85,470.16 L1065.62,469.57 L1065.4,468.99 L1065.17,468.4 L1064.95,467.82 L1064.73,467.23 L1064.51,466.65 L1064.29,466.06 L1064.09,465.48 L1063.89,464.89 L1063.7,464.31 L1063.53,463.72 L1063.37,463.14 L1063.22,462.55 L1063.1,461.97 L1063,461.38 L1062.91,460.8 L1062.82,460.21 L1062.74,459.63 L1062.66,459.04 L1062.59,458.46 L1062.52,457.87 L1062.45,457.29 L1062.38,456.7 L1062.32,456.12 L1062.26,455.53 L1062.21,454.95 L1062.15,454.36 L1062.1,453.78 L1062.05,453.19 L1062.01,452.61 L1061.96,452.02 L1061.92,451.44 L1061.87,450.85 L1061.83,450.27 L1061.79,449.68 L1061.75,449.1 L1061.71,448.51 L1061.68,447.93 L1061.64,447.34 L1061.6,446.76 L1061.56,446.17 L1061.53,445.59 L1061.49,445 L1061.46,444.42 L1061.42,443.83 L1061.39,443.25 L1061.36,442.66 L1061.32,442.08 L1061.29,441.49 L1061.26,440.91 L1061.23,440.32 L1061.21,439.74 L1061.18,439.15 L1061.15,438.57 L1061.13,437.98 L1061.11,437.4 L1061.08,436.81 L1061.06,436.23 L1061.05,435.64 L1061.03,435.06 L1061.01,434.47 L1061,433.89 L1060,433.89 L1059.99,434.47 L1059.97,435.06 L1059.95,435.64 L1059.94,436.23 L1059.92,436.81 L1059.89,437.4 L1059.87,437.98 L1059.85,438.57 L1059.82,439.15 L1059.79,439.74 L1059.77,440.32 L1059.74,440.91 L1059.71,441.49 L1059.68,442.08 L1059.64,442.66 L1059.61,443.25 L1059.58,443.83 L1059.54,444.42 L1059.51,445 L1059.47,445.59 L1059.44,446.17 L1059.4,446.76 L1059.36,447.34 L1059.32,447.93 L1059.29,448.51 L1059.25,449.1 L1059.21,449.68 L1059.17,450.27 L1059.13,450.85 L1059.08,451.44 L1059.04,452.02 L1058.99,452.61 L1058.95,453.19 L1058.9,453.78 L1058.85,454.36 L1058.79,454.95 L1058.74,455.53 L1058.68,456.12 L1058.62,456.7 L1058.55,457.29 L1058.48,457.87 L1058.41,458.46 L1058.34,459.04 L1058.26,459.63 L1058.18,460.21 L1058.09,460.8 L1058,461.38 L1057.9,461.97 L1057.78,462.55 L1057.63,463.14 L1057.47,463.72 L1057.3,464.31 L1057.11,464.89 L1056.91,465.48 L1056.71,466.06 L1056.49,466.65 L1056.27,467.23 L1056.05,467.82 L1055.83,468.4 L1055.6,468.99 L1055.38,469.57 L1055.15,470.16 L1054.91,470.74 L1054.66,471.33 L1054.41,471.91 L1054.14,472.5 L1053.87,473.08 L1053.59,473.67 L1053.3,474.25 L1053.01,474.84 L1052.7,475.42 L1052.4,476.01 L1052.09,476.59 L1051.79,477.18 L1051.48,477.76 L1051.17,478.35 L1050.85,478.93 L1050.52,479.52 L1050.18,480.1 L1049.81,480.69 L1049.42,481.27 L1049,481.86 L1048.55,482.44 L1048.07,483.03 L1047.55,483.61 L1046.89,484.2 L1045.96,484.78 L1044.84,485.37 L1043.59,485.95 L1042.28,486.54 L1040.97,487.12 L1039.73,487.71 L1038.62,488.29 L1037.72,488.88 L1037.08,489.46 L1036.77,490.05 L1036.9,490.63 L1037.59,491.22 L1038.72,491.8 L1040.18,492.39 L1041.85,492.97 L1043.6,493.56 L1045.33,494.14 L1046.91,494.73 L1048.22,495.31 L1049.26,495.9 L1050.23,496.48 L1051.12,497.07 L1051.95,497.65 L1052.69,498.24 L1053.42,498.82 L1054.12,499.41 L1054.79,499.99 L1055.4,500.58 L1055.92,501.16 L1056.35,501.75 L1056.67,502.33 L1056.95,502.92 L1057.21,503.5 L1057.45,504.09 L1057.66,504.67 L1057.85,505.26 L1058.01,505.84 L1058.15,506.43 L1058.26,507.01 L1058.35,507.6 L1058.43,508.18 L1058.49,508.77 L1058.55,509.35 L1058.61,509.94 L1058.66,510.52 L1058.7,511.11 L1058.75,511.69 L1058.79,512.28 L1058.83,512.86 L1058.87,513.45 L1058.91,514.03 L1058.96,514.62 L1059.01,515.2 L1059.06,515.79 L1059.11,516.37 L1059.16,516.96 L1059.21,517.54 L1059.26,518.13 L1059.31,518.71 L1059.36,519.3 L1059.41,519.88 L1059.46,520.47 L1059.51,521.05 L1059.56,521.64 L1059.61,522.22 L1059.66,522.81 L1059.71,523.39 L1059.76,523.98 L1059.81,524.56 L1059.85,525.15 L1059.9,525.73 L1059.95,526.32 L1060,526.9 Z" fill="#44b244" stroke="#000" stroke-width="2.1" stroke-linejoin="round"/>
<path d="M1115,545.24 L1115,544.74 L1115.01,544.23 L1115.02,543.73 L1115.04,543.23 L1115.06,542.73 L1115.09,542.22 L1115.12,541.72 L1115.15,541.22 L1115.19,540.72 L1115.23,540.21 L1115.28,539.71 L1115.33,539.21 L1115.38,538.71 L1115.43,538.2 L1115.49,537.7 L1115.55,537.2 L1115.62,536.7 L1115.68,536.19 L1115.75,535.69 L1115.82,535.19 L1115.89,534.69 L1115.97,534.18 L1116.04,533.68 L1116.12,533.18 L1116.2,532.68 L1116.28,532.17 L1116.36,531.67 L1116.44,531.17 L1116.53,530.67 L1116.62,530.16 L1116.73,529.66 L1116.85,529.16 L1116.99,528.65 L1117.13,528.15 L1117.29,527.65 L1117.45,527.15 L1117.62,526.64 L1117.8,526.14 L1117.98,525.64 L1118.17,525.14 L1118.36,524.63 L1118.55,524.13 L1118.74,523.63 L1118.94,523.13 L1119.13,522.62 L1119.33,522.12 L1119.53,521.62 L1119.74,521.12 L1119.96,520.61 L1120.19,520.11 L1120.43,519.61 L1120.69,519.11 L1120.97,518.6 L1121.27,518.1 L1121.59,517.6 L1121.94,517.1 L1122.33,516.59 L1122.75,516.09 L1123.2,515.59 L1123.69,515.09 L1124.2,514.58 L1124.75,514.08 L1125.33,513.58 L1125.94,513.07 L1126.58,512.57 L1127.25,512.07 L1127.94,511.57 L1128.68,511.06 L1129.63,510.56 L1130.83,510.06 L1132.2,509.56 L1133.69,509.05 L1135.23,508.55 L1136.75,508.05 L1138.18,507.55 L1139.45,507.04 L1140.51,506.54 L1141.28,506.04 L1141.69,505.54 L1141.71,505.03 L1141.43,504.53 L1140.9,504.03 L1140.16,503.53 L1139.24,503.02 L1138.18,502.52 L1137.02,502.02 L1135.8,501.52 L1134.54,501.01 L1133.29,500.51 L1132.09,500.01 L1130.96,499.51 L1129.94,499 L1129.08,498.5 L1128.4,498 L1127.81,497.5 L1127.24,496.99 L1126.7,496.49 L1126.17,495.99 L1125.67,495.48 L1125.19,494.98 L1124.72,494.48 L1124.28,493.98 L1123.85,493.47 L1123.45,492.97 L1123.05,492.47 L1122.68,491.97 L1122.32,491.46 L1121.98,490.96 L1121.65,490.46 L1121.34,489.96 L1121.03,489.45 L1120.74,488.95 L1120.45,488.45 L1120.18,487.95 L1119.91,487.44 L1119.66,486.94 L1119.42,486.44 L1119.18,485.94 L1118.95,485.43 L1118.74,484.93 L1118.53,484.43 L1118.33,483.93 L1118.15,483.42 L1117.97,482.92 L1117.79,482.42 L1117.62,481.92 L1117.45,481.41 L1117.28,480.91 L1117.11,480.41 L1116.95,479.9 L1116.8,479.4 L1116.65,478.9 L1116.5,478.4 L1116.37,477.89 L1116.24,477.39 L1116.12,476.89 L1116.01,476.39 L1115.91,475.88 L1115.83,475.38 L1115.75,474.88 L1115.69,474.38 L1115.63,473.87 L1115.57,473.37 L1115.51,472.87 L1115.45,472.37 L1115.4,471.86 L1115.35,471.36 L1115.3,470.86 L1115.25,470.36 L1115.21,469.85 L1115.17,469.35 L1115.13,468.85 L1115.1,468.35 L1115.07,467.84 L1115.04,467.34 L1115.03,466.84 L1115.01,466.34 L1115,465.83 L1115,465.33 L1114,465.33 L1114,465.83 L1113.99,466.34 L1113.97,466.84 L1113.96,467.34 L1113.93,467.84 L1113.9,468.35 L1113.87,468.85 L1113.83,469.35 L1113.79,469.85 L1113.75,470.36 L1113.7,470.86 L1113.65,471.36 L1113.6,471.86 L1113.55,472.37 L1113.49,472.87 L1113.43,473.37 L1113.37,473.87 L1113.31,474.38 L1113.25,474.88 L1113.17,475.38 L1113.09,475.88 L1112.99,476.39 L1112.88,476.89 L1112.76,477.39 L1112.63,477.89 L1112.5,478.4 L1112.35,478.9 L1112.2,479.4 L1112.05,479.9 L1111.89,480.41 L1111.72,480.91 L1111.55,481.41 L1111.38,481.92 L1111.21,482.42 L1111.03,482.92 L1110.85,483.42 L1110.67,483.93 L1110.47,484.43 L1110.26,484.93 L1110.05,485.43 L1109.82,485.94 L1109.58,486.44 L1109.34,486.94 L1109.09,487.44 L1108.82,487.95 L1108.55,488.45 L1108.26,488.95 L1107.97,489.45 L1107.66,489.96 L1107.35,490.46 L1107.02,490.96 L1106.68,491.46 L1106.32,491.97 L1105.95,492.47 L1105.55,492.97 L1105.15,493.47 L1104.72,493.98 L1104.28,494.48 L1103.81,494.98 L1103.33,495.48 L1102.83,495.99 L1102.3,496.49 L1101.76,496.99 L1101.19,497.5 L1100.6,498 L1099.92,498.5 L1099.06,499 L1098.04,499.51 L1096.91,500.01 L1095.71,500.51 L1094.46,501.01 L1093.2,501.52 L1091.98,502.02 L1090.82,502.52 L1089.76,503.02 L1088.84,503.53 L1088.1,504.03 L1087.57,504.53 L1087.29,505.03 L1087.31,505.54 L1087.72,506.04 L1088.49,506.54 L1089.55,507.04 L1090.82,507.55 L1092.25,508.05 L1093.77,508.55 L1095.31,509.05 L1096.8,509.56 L1098.17,510.06 L1099.37,510.56 L1100.32,511.06 L1101.06,511.57 L1101.75,512.07 L1102.42,512.57 L1103.06,513.07 L1103.67,513.58 L1104.25,514.08 L1104.8,514.58 L1105.31,515.09 L1105.8,515.59 L1106.25,516.09 L1106.67,516.59 L1107.06,517.1 L1107.41,517.6 L1107.73,518.1 L1108.03,518.6 L1108.31,519.11 L1108.57,519.61 L1108.81,520.11 L1109.04,520.61 L1109.26,521.12 L1109.47,521.62 L1109.67,522.12 L1109.87,522.62 L1110.06,523.13 L1110.26,523.63 L1110.45,524.13 L1110.64,524.63 L1110.83,525.14 L1111.02,525.64 L1111.2,526.14 L1111.38,526.64 L1111.55,527.15 L1111.71,527.65 L1111.87,528.15 L1112.01,528.65 L1112.15,529.16 L1112.27,529.66 L1112.38,530.16 L1112.47,530.67 L1112.56,531.17 L1112.64,531.67 L1112.72,532.17 L1112.8,532.68 L1112.88,533.18 L1112.96,533.68 L1113.03,534.18 L1113.11,534.69 L1113.18,535.19 L1113.25,535.69 L1113.32,536.19 L1113.38,536.7 L1113.45,537.2 L1113.51,537.7 L1113.57,538.2 L1113.62,538.71 L1113.67,539.21 L1113.72,539.71 L1113.77,540.21 L1113.81,540.72 L1113.85,541.22 L1113.88,541.72 L1113.91,542.22 L1113.94,542.73 L1113.96,543.23 L1113.98,543.73 L1113.99,544.23 L1114,544.74 L1114,545.24 Z" fill="#3d9bff" stroke="#000" stroke-width="2.1" stroke-linejoin="round"/>
<line x1="978.6" y1="507.25" x2="1152" y2="507.25" stroke="#000" stroke-width="2.3" stroke-dasharray="3 3"/>
<path d="M1005.5,415.25 V411.75 H1117 V415.25" fill="none" stroke="#444" stroke-width="1.3"/>
<text x="1061.25" y="413.25" font-size="17" text-anchor="middle" font-weight="bold" fill="#111">*</text>
<path d="M1005.5,432.75 V429.25 H1060 V432.75" fill="none" stroke="#444" stroke-width="1.3"/>
<text x="1032.75" y="430.75" font-size="17" text-anchor="middle" font-weight="bold" fill="#111">*</text>
<path d="M1060,427.25 V423.75 H1117 V427.25" fill="none" stroke="#444" stroke-width="1.3"/>
<text x="1088.5" y="425.25" font-size="17" text-anchor="middle" font-weight="bold" fill="#111">*</text>
<text font-size="20.3" text-anchor="middle" transform="translate(919.6,487.8) rotate(-90)">log<tspan font-size="15" dy="7">2</tspan><tspan dy="-7">(Fold Change)</tspan></text>
<text font-size="23.6" transform="translate(1171,441.9) rotate(90)">Cluster3</text>
<line x1="978.2" y1="586.75" x2="978.2" y2="759.5" stroke="#000" stroke-width="2" />
<line x1="977.2" y1="758.5" x2="1151" y2="758.5" stroke="#000" stroke-width="2" />
<line x1="971.5" y1="591.2" x2="978.2" y2="591.2" stroke="#000" stroke-width="2" />
<text x="968.8" y="598.3" font-size="20" text-anchor="end">3</text>
<line x1="971.5" y1="617.8" x2="978.2" y2="617.8" stroke="#000" stroke-width="2" />
<text x="968.8" y="624.9" font-size="20" text-anchor="end">2</text>
<line x1="971.5" y1="644.4" x2="978.2" y2="644.4" stroke="#000" stroke-width="2" />
<text x="968.8" y="651.5" font-size="20" text-anchor="end">1</text>
<line x1="971.5" y1="671" x2="978.2" y2="671" stroke="#000" stroke-width="2" />
<text x="968.8" y="678.1" font-size="20" text-anchor="end">0</text>
<line x1="971.5" y1="697.6" x2="978.2" y2="697.6" stroke="#000" stroke-width="2" />
<text x="968.8" y="704.7" font-size="20" text-anchor="end">-1</text>
<line x1="971.5" y1="724.2" x2="978.2" y2="724.2" stroke="#000" stroke-width="2" />
<text x="968.8" y="731.3" font-size="20" text-anchor="end">-2</text>
<line x1="971.5" y1="750.8" x2="978.2" y2="750.8" stroke="#000" stroke-width="2" />
<text x="968.8" y="757.9" font-size="20" text-anchor="end">-3</text>
<line x1="978.6" y1="671" x2="1152" y2="671" stroke="#000" stroke-width="2.3" stroke-dasharray="3 3"/>
<path d="M1011.25,752.13 L1011.25,751.27 L1011.25,750.41 L1011.26,749.55 L1011.27,748.68 L1011.28,747.82 L1011.29,746.96 L1011.31,746.1 L1011.32,745.24 L1011.34,744.38 L1011.36,743.51 L1011.38,742.65 L1011.41,741.79 L1011.43,740.93 L1011.46,740.07 L1011.49,739.21 L1011.52,738.34 L1011.56,737.48 L1011.59,736.62 L1011.63,735.76 L1011.67,734.9 L1011.71,734.04 L1011.75,733.18 L1011.79,732.31 L1011.83,731.45 L1011.88,730.59 L1011.93,729.73 L1011.97,728.87 L1012.02,728.01 L1012.07,727.14 L1012.12,726.28 L1012.17,725.42 L1012.23,724.56 L1012.28,723.7 L1012.35,722.84 L1012.43,721.97 L1012.52,721.11 L1012.62,720.25 L1012.73,719.39 L1012.86,718.53 L1012.99,717.67 L1013.13,716.81 L1013.28,715.94 L1013.44,715.08 L1013.61,714.22 L1013.79,713.36 L1014.02,712.5 L1014.29,711.64 L1014.6,710.77 L1014.94,709.91 L1015.3,709.05 L1015.67,708.19 L1016.04,707.33 L1016.4,706.47 L1016.74,705.61 L1017.07,704.74 L1017.41,703.88 L1017.75,703.02 L1018.1,702.16 L1018.45,701.3 L1018.79,700.44 L1019.13,699.57 L1019.46,698.71 L1019.78,697.85 L1020.09,696.99 L1020.38,696.13 L1020.65,695.27 L1020.91,694.4 L1021.18,693.54 L1021.46,692.68 L1021.74,691.82 L1022.01,690.96 L1022.27,690.1 L1022.5,689.24 L1022.7,688.37 L1022.85,687.51 L1022.95,686.65 L1023,685.79 L1022.97,684.93 L1022.86,684.07 L1022.68,683.2 L1022.45,682.34 L1022.17,681.48 L1021.85,680.62 L1021.52,679.76 L1021.18,678.9 L1020.85,678.03 L1020.53,677.17 L1020.25,676.31 L1019.98,675.45 L1019.7,674.59 L1019.42,673.73 L1019.14,672.87 L1018.86,672 L1018.57,671.14 L1018.28,670.28 L1018,669.42 L1017.71,668.56 L1017.42,667.7 L1017.13,666.83 L1016.85,665.97 L1016.56,665.11 L1016.25,664.25 L1015.92,663.39 L1015.59,662.53 L1015.25,661.66 L1014.91,660.8 L1014.59,659.94 L1014.28,659.08 L1013.99,658.22 L1013.74,657.36 L1013.52,656.5 L1013.34,655.63 L1013.21,654.77 L1013.1,653.91 L1013,653.05 L1012.9,652.19 L1012.8,651.33 L1012.72,650.46 L1012.63,649.6 L1012.56,648.74 L1012.48,647.88 L1012.41,647.02 L1012.35,646.16 L1012.29,645.3 L1012.23,644.43 L1012.18,643.57 L1012.13,642.71 L1012.08,641.85 L1012.04,640.99 L1012,640.13 L1011.96,639.26 L1011.92,638.4 L1011.88,637.54 L1011.84,636.68 L1011.81,635.82 L1011.77,634.96 L1011.73,634.09 L1011.7,633.23 L1011.66,632.37 L1011.63,631.51 L1011.59,630.65 L1011.56,629.79 L1011.53,628.93 L1011.5,628.06 L1011.47,627.2 L1011.44,626.34 L1011.42,625.48 L1011.39,624.62 L1011.37,623.76 L1011.35,622.89 L1011.33,622.03 L1011.31,621.17 L1011.29,620.31 L1011.28,619.45 L1011.27,618.59 L1011.26,617.72 L1011.26,616.86 L1011.25,616 L1011.25,615.14 L1010.25,615.14 L1010.25,616 L1010.24,616.86 L1010.24,617.72 L1010.23,618.59 L1010.22,619.45 L1010.21,620.31 L1010.19,621.17 L1010.17,622.03 L1010.15,622.89 L1010.13,623.76 L1010.11,624.62 L1010.08,625.48 L1010.06,626.34 L1010.03,627.2 L1010,628.06 L1009.97,628.93 L1009.94,629.79 L1009.91,630.65 L1009.87,631.51 L1009.84,632.37 L1009.8,633.23 L1009.77,634.09 L1009.73,634.96 L1009.69,635.82 L1009.66,636.68 L1009.62,637.54 L1009.58,638.4 L1009.54,639.26 L1009.5,640.13 L1009.46,640.99 L1009.42,641.85 L1009.37,642.71 L1009.32,643.57 L1009.27,644.43 L1009.21,645.3 L1009.15,646.16 L1009.09,647.02 L1009.02,647.88 L1008.94,648.74 L1008.87,649.6 L1008.78,650.46 L1008.7,651.33 L1008.6,652.19 L1008.5,653.05 L1008.4,653.91 L1008.29,654.77 L1008.16,655.63 L1007.98,656.5 L1007.76,657.36 L1007.51,658.22 L1007.22,659.08 L1006.91,659.94 L1006.59,660.8 L1006.25,661.66 L1005.91,662.53 L1005.58,663.39 L1005.25,664.25 L1004.94,665.11 L1004.65,665.97 L1004.37,666.83 L1004.08,667.7 L1003.79,668.56 L1003.5,669.42 L1003.22,670.28 L1002.93,671.14 L1002.64,672 L1002.36,672.87 L1002.08,673.73 L1001.8,674.59 L1001.52,675.45 L1001.25,676.31 L1000.97,677.17 L1000.65,678.03 L1000.32,678.9 L999.98,679.76 L999.65,680.62 L999.33,681.48 L999.05,682.34 L998.82,683.2 L998.64,684.07 L998.53,684.93 L998.5,685.79 L998.55,686.65 L998.65,687.51 L998.8,688.37 L999,689.24 L999.23,690.1 L999.49,690.96 L999.76,691.82 L1000.04,692.68 L1000.32,693.54 L1000.59,694.4 L1000.85,695.27 L1001.12,696.13 L1001.41,696.99 L1001.72,697.85 L1002.04,698.71 L1002.37,699.57 L1002.71,700.44 L1003.05,701.3 L1003.4,702.16 L1003.75,703.02 L1004.09,703.88 L1004.43,704.74 L1004.76,705.61 L1005.1,706.47 L1005.46,707.33 L1005.83,708.19 L1006.2,709.05 L1006.56,709.91 L1006.9,710.77 L1007.21,711.64 L1007.48,712.5 L1007.71,713.36 L1007.89,714.22 L1008.06,715.08 L1008.22,715.94 L1008.37,716.81 L1008.51,717.67 L1008.64,718.53 L1008.77,719.39 L1008.88,720.25 L1008.98,721.11 L1009.07,721.97 L1009.15,722.84 L1009.22,723.7 L1009.27,724.56 L1009.33,725.42 L1009.38,726.28 L1009.43,727.14 L1009.48,728.01 L1009.53,728.87 L1009.57,729.73 L1009.62,730.59 L1009.67,731.45 L1009.71,732.31 L1009.75,733.18 L1009.79,734.04 L1009.83,734.9 L1009.87,735.76 L1009.91,736.62 L1009.94,737.48 L1009.98,738.34 L1010.01,739.21 L1010.04,740.07 L1010.07,740.93 L1010.09,741.79 L1010.12,742.65 L1010.14,743.51 L1010.16,744.38 L1010.18,745.24 L1010.19,746.1 L1010.21,746.96 L1010.22,747.82 L1010.23,748.68 L1010.24,749.55 L1010.25,750.41 L1010.25,751.27 L1010.25,752.13 Z" fill="#e60000" stroke="#000" stroke-width="2.1" stroke-linejoin="round"/>
<path d="M1065,744.15 L1065.1,743.55 L1065.2,742.95 L1065.3,742.34 L1065.4,741.74 L1065.5,741.14 L1065.6,740.54 L1065.69,739.93 L1065.79,739.33 L1065.89,738.73 L1065.98,738.13 L1066.08,737.53 L1066.17,736.92 L1066.27,736.32 L1066.36,735.72 L1066.46,735.12 L1066.55,734.51 L1066.63,733.91 L1066.71,733.31 L1066.79,732.71 L1066.87,732.1 L1066.94,731.5 L1067.02,730.9 L1067.11,730.3 L1067.21,729.7 L1067.31,729.09 L1067.43,728.49 L1067.57,727.89 L1067.75,727.29 L1067.97,726.68 L1068.22,726.08 L1068.49,725.48 L1068.79,724.88 L1069.09,724.28 L1069.41,723.67 L1069.73,723.07 L1070.04,722.47 L1070.34,721.87 L1070.63,721.26 L1070.92,720.66 L1071.2,720.06 L1071.49,719.46 L1071.78,718.85 L1072.07,718.25 L1072.37,717.65 L1072.67,717.05 L1072.97,716.45 L1073.28,715.84 L1073.59,715.24 L1073.91,714.64 L1074.24,714.04 L1074.57,713.43 L1074.9,712.83 L1075.24,712.23 L1075.57,711.63 L1075.91,711.03 L1076.26,710.42 L1076.61,709.82 L1076.97,709.22 L1077.35,708.62 L1077.74,708.01 L1078.14,707.41 L1078.57,706.81 L1079.01,706.21 L1079.48,705.61 L1080.05,705 L1080.77,704.4 L1081.59,703.8 L1082.45,703.2 L1083.27,702.59 L1084.01,701.99 L1084.6,701.39 L1084.98,700.79 L1085.09,700.18 L1084.47,699.58 L1083.06,698.98 L1081.15,698.38 L1079.01,697.78 L1076.92,697.17 L1075.17,696.57 L1073.92,695.97 L1072.76,695.37 L1071.65,694.76 L1070.63,694.16 L1069.74,693.56 L1069.03,692.96 L1068.54,692.36 L1068.22,691.75 L1067.92,691.15 L1067.64,690.55 L1067.37,689.95 L1067.13,689.34 L1066.91,688.74 L1066.71,688.14 L1066.54,687.54 L1066.4,686.93 L1066.28,686.33 L1066.19,685.73 L1066.13,685.13 L1066.1,684.53 L1066.11,683.92 L1066.15,683.32 L1066.21,682.72 L1066.3,682.12 L1066.4,681.51 L1066.51,680.91 L1066.62,680.31 L1066.72,679.71 L1066.8,679.11 L1066.86,678.5 L1066.9,677.9 L1066.9,677.3 L1066.88,676.7 L1066.86,676.09 L1066.83,675.49 L1066.79,674.89 L1066.74,674.29 L1066.69,673.69 L1066.65,673.08 L1066.6,672.48 L1066.55,671.88 L1066.52,671.28 L1066.48,670.67 L1066.45,670.07 L1066.42,669.47 L1066.4,668.87 L1066.37,668.26 L1066.34,667.66 L1066.32,667.06 L1066.29,666.46 L1066.27,665.86 L1066.24,665.25 L1066.21,664.65 L1066.19,664.05 L1066.16,663.45 L1066.13,662.84 L1066.1,662.24 L1066.07,661.64 L1066.04,661.04 L1066,660.44 L1065.97,659.83 L1065.93,659.23 L1065.89,658.63 L1065.85,658.03 L1065.8,657.42 L1065.76,656.82 L1065.71,656.22 L1065.67,655.62 L1065.62,655.01 L1065.57,654.41 L1065.52,653.81 L1065.46,653.21 L1065.41,652.61 L1065.35,652 L1065.3,651.4 L1065.24,650.8 L1065.18,650.2 L1065.12,649.59 L1065.06,648.99 L1065,648.39 L1064,648.39 L1063.94,648.99 L1063.88,649.59 L1063.82,650.2 L1063.76,650.8 L1063.7,651.4 L1063.65,652 L1063.59,652.61 L1063.54,653.21 L1063.48,653.81 L1063.43,654.41 L1063.38,655.01 L1063.33,655.62 L1063.29,656.22 L1063.24,656.82 L1063.2,657.42 L1063.15,658.03 L1063.11,658.63 L1063.07,659.23 L1063.03,659.83 L1063,660.44 L1062.96,661.04 L1062.93,661.64 L1062.9,662.24 L1062.87,662.84 L1062.84,663.45 L1062.81,664.05 L1062.79,664.65 L1062.76,665.25 L1062.73,665.86 L1062.71,666.46 L1062.68,667.06 L1062.66,667.66 L1062.63,668.26 L1062.6,668.87 L1062.58,669.47 L1062.55,670.07 L1062.52,670.67 L1062.48,671.28 L1062.45,671.88 L1062.4,672.48 L1062.35,673.08 L1062.31,673.69 L1062.26,674.29 L1062.21,674.89 L1062.17,675.49 L1062.14,676.09 L1062.12,676.7 L1062.1,677.3 L1062.1,677.9 L1062.14,678.5 L1062.2,679.11 L1062.28,679.71 L1062.38,680.31 L1062.49,680.91 L1062.6,681.51 L1062.7,682.12 L1062.79,682.72 L1062.85,683.32 L1062.89,683.92 L1062.9,684.53 L1062.87,685.13 L1062.81,685.73 L1062.72,686.33 L1062.6,686.93 L1062.46,687.54 L1062.29,688.14 L1062.09,688.74 L1061.87,689.34 L1061.63,689.95 L1061.36,690.55 L1061.08,691.15 L1060.78,691.75 L1060.46,692.36 L1059.97,692.96 L1059.26,693.56 L1058.37,694.16 L1057.35,694.76 L1056.24,695.37 L1055.08,695.97 L1053.83,696.57 L1052.08,697.17 L1049.99,697.78 L1047.85,698.38 L1045.94,698.98 L1044.53,699.58 L1043.91,700.18 L1044.02,700.79 L1044.4,701.39 L1044.99,701.99 L1045.73,702.59 L1046.55,703.2 L1047.41,703.8 L1048.23,704.4 L1048.95,705 L1049.52,705.61 L1049.99,706.21 L1050.43,706.81 L1050.86,707.41 L1051.26,708.01 L1051.65,708.62 L1052.03,709.22 L1052.39,709.82 L1052.74,710.42 L1053.09,711.03 L1053.43,711.63 L1053.76,712.23 L1054.1,712.83 L1054.43,713.43 L1054.76,714.04 L1055.09,714.64 L1055.41,715.24 L1055.72,715.84 L1056.03,716.45 L1056.33,717.05 L1056.63,717.65 L1056.93,718.25 L1057.22,718.85 L1057.51,719.46 L1057.8,720.06 L1058.08,720.66 L1058.37,721.26 L1058.66,721.87 L1058.96,722.47 L1059.27,723.07 L1059.59,723.67 L1059.91,724.28 L1060.21,724.88 L1060.51,725.48 L1060.78,726.08 L1061.03,726.68 L1061.25,727.29 L1061.43,727.89 L1061.57,728.49 L1061.69,729.09 L1061.79,729.7 L1061.89,730.3 L1061.98,730.9 L1062.06,731.5 L1062.13,732.1 L1062.21,732.71 L1062.29,733.31 L1062.37,733.91 L1062.45,734.51 L1062.54,735.12 L1062.64,735.72 L1062.73,736.32 L1062.83,736.92 L1062.92,737.53 L1063.02,738.13 L1063.11,738.73 L1063.21,739.33 L1063.31,739.93 L1063.4,740.54 L1063.5,741.14 L1063.6,741.74 L1063.7,742.34 L1063.8,742.95 L1063.9,743.55 L1064,744.15 Z" fill="#44b244" stroke="#000" stroke-width="2.1" stroke-linejoin="round"/>
<path d="M1119.75,713.56 L1119.82,713.19 L1119.88,712.82 L1119.94,712.46 L1120,712.09 L1120.07,711.72 L1120.13,711.35 L1120.19,710.98 L1120.24,710.62 L1120.3,710.25 L1120.36,709.88 L1120.41,709.51 L1120.46,709.14 L1120.51,708.78 L1120.56,708.41 L1120.61,708.04 L1120.65,707.67 L1120.7,707.3 L1120.74,706.94 L1120.78,706.57 L1120.82,706.2 L1120.85,705.83 L1120.89,705.46 L1120.92,705.09 L1120.95,704.73 L1120.97,704.36 L1121,703.99 L1121.02,703.62 L1121.04,703.25 L1121.05,702.89 L1121.07,702.52 L1121.08,702.15 L1121.09,701.78 L1121.1,701.41 L1121.11,701.05 L1121.12,700.68 L1121.12,700.31 L1121.13,699.94 L1121.14,699.57 L1121.14,699.21 L1121.15,698.84 L1121.15,698.47 L1121.16,698.1 L1121.17,697.73 L1121.17,697.37 L1121.18,697 L1121.19,696.63 L1121.2,696.26 L1121.21,695.89 L1121.23,695.53 L1121.24,695.16 L1121.26,694.79 L1121.28,694.42 L1121.31,694.05 L1121.34,693.69 L1121.38,693.32 L1121.43,692.95 L1121.48,692.58 L1121.54,692.21 L1121.6,691.85 L1121.67,691.48 L1121.74,691.11 L1121.82,690.74 L1121.9,690.37 L1121.99,690 L1122.08,689.64 L1122.17,689.27 L1122.27,688.9 L1122.37,688.53 L1122.47,688.16 L1122.58,687.8 L1122.69,687.43 L1122.8,687.06 L1122.91,686.69 L1123.03,686.32 L1123.14,685.96 L1123.26,685.59 L1123.39,685.22 L1123.54,684.85 L1123.69,684.48 L1123.87,684.12 L1124.05,683.75 L1124.24,683.38 L1124.45,683.01 L1124.67,682.64 L1124.9,682.28 L1125.13,681.91 L1125.38,681.54 L1125.63,681.17 L1125.89,680.8 L1126.16,680.44 L1126.43,680.07 L1126.72,679.7 L1127.03,679.33 L1127.35,678.96 L1127.69,678.6 L1128.05,678.23 L1128.42,677.86 L1128.81,677.49 L1129.23,677.12 L1129.66,676.75 L1130.11,676.39 L1130.58,676.02 L1131.07,675.65 L1131.6,675.28 L1132.2,674.91 L1132.88,674.55 L1133.6,674.18 L1134.37,673.81 L1135.17,673.44 L1135.98,673.07 L1136.79,672.71 L1137.59,672.34 L1138.37,671.97 L1139.11,671.6 L1139.86,671.23 L1140.7,670.87 L1141.59,670.5 L1142.5,670.13 L1143.38,669.76 L1144.21,669.39 L1144.93,669.03 L1145.52,668.66 L1145.94,668.29 L1146.14,667.92 L1146,667.55 L1145.3,667.19 L1144.16,666.82 L1142.71,666.45 L1141.11,666.08 L1139.48,665.71 L1137.97,665.35 L1136.66,664.98 L1135.29,664.61 L1133.86,664.24 L1132.39,663.87 L1130.92,663.51 L1129.51,663.14 L1128.19,662.77 L1127.01,662.4 L1126,662.03 L1125.2,661.66 L1124.55,661.3 L1123.94,660.93 L1123.4,660.56 L1122.91,660.19 L1122.48,659.82 L1122.11,659.46 L1121.79,659.09 L1121.52,658.72 L1121.25,658.35 L1120.99,657.98 L1120.74,657.62 L1120.51,657.25 L1120.3,656.88 L1120.12,656.51 L1119.97,656.14 L1119.85,655.78 L1119.78,655.41 L1119.75,655.04 L1118.75,655.04 L1118.72,655.41 L1118.65,655.78 L1118.53,656.14 L1118.38,656.51 L1118.2,656.88 L1117.99,657.25 L1117.76,657.62 L1117.51,657.98 L1117.25,658.35 L1116.98,658.72 L1116.71,659.09 L1116.39,659.46 L1116.02,659.82 L1115.59,660.19 L1115.1,660.56 L1114.56,660.93 L1113.95,661.3 L1113.3,661.66 L1112.5,662.03 L1111.49,662.4 L1110.31,662.77 L1108.99,663.14 L1107.58,663.51 L1106.11,663.87 L1104.64,664.24 L1103.21,664.61 L1101.84,664.98 L1100.53,665.35 L1099.02,665.71 L1097.39,666.08 L1095.79,666.45 L1094.34,666.82 L1093.2,667.19 L1092.5,667.55 L1092.36,667.92 L1092.56,668.29 L1092.98,668.66 L1093.57,669.03 L1094.29,669.39 L1095.12,669.76 L1096,670.13 L1096.91,670.5 L1097.8,670.87 L1098.64,671.23 L1099.39,671.6 L1100.13,671.97 L1100.91,672.34 L1101.71,672.71 L1102.52,673.07 L1103.33,673.44 L1104.13,673.81 L1104.9,674.18 L1105.62,674.55 L1106.3,674.91 L1106.9,675.28 L1107.43,675.65 L1107.92,676.02 L1108.39,676.39 L1108.84,676.75 L1109.27,677.12 L1109.69,677.49 L1110.08,677.86 L1110.45,678.23 L1110.81,678.6 L1111.15,678.96 L1111.47,679.33 L1111.78,679.7 L1112.07,680.07 L1112.34,680.44 L1112.61,680.8 L1112.87,681.17 L1113.12,681.54 L1113.37,681.91 L1113.6,682.28 L1113.83,682.64 L1114.05,683.01 L1114.26,683.38 L1114.45,683.75 L1114.63,684.12 L1114.81,684.48 L1114.96,684.85 L1115.11,685.22 L1115.24,685.59 L1115.36,685.96 L1115.47,686.32 L1115.59,686.69 L1115.7,687.06 L1115.81,687.43 L1115.92,687.8 L1116.03,688.16 L1116.13,688.53 L1116.23,688.9 L1116.33,689.27 L1116.42,689.64 L1116.51,690 L1116.6,690.37 L1116.68,690.74 L1116.76,691.11 L1116.83,691.48 L1116.9,691.85 L1116.96,692.21 L1117.02,692.58 L1117.07,692.95 L1117.12,693.32 L1117.16,693.69 L1117.19,694.05 L1117.22,694.42 L1117.24,694.79 L1117.26,695.16 L1117.27,695.53 L1117.29,695.89 L1117.3,696.26 L1117.31,696.63 L1117.32,697 L1117.33,697.37 L1117.33,697.73 L1117.34,698.1 L1117.35,698.47 L1117.35,698.84 L1117.36,699.21 L1117.36,699.57 L1117.37,699.94 L1117.38,700.31 L1117.38,700.68 L1117.39,701.05 L1117.4,701.41 L1117.41,701.78 L1117.42,702.15 L1117.43,702.52 L1117.45,702.89 L1117.46,703.25 L1117.48,703.62 L1117.5,703.99 L1117.53,704.36 L1117.55,704.73 L1117.58,705.09 L1117.61,705.46 L1117.65,705.83 L1117.68,706.2 L1117.72,706.57 L1117.76,706.94 L1117.8,707.3 L1117.85,707.67 L1117.89,708.04 L1117.94,708.41 L1117.99,708.78 L1118.04,709.14 L1118.09,709.51 L1118.14,709.88 L1118.2,710.25 L1118.26,710.62 L1118.31,710.98 L1118.37,711.35 L1118.43,711.72 L1118.5,712.09 L1118.56,712.46 L1118.62,712.82 L1118.68,713.19 L1118.75,713.56 Z" fill="#3d9bff" stroke="#000" stroke-width="2.1" stroke-linejoin="round"/>
<line x1="978.6" y1="671" x2="1152" y2="671" stroke="#000" stroke-width="2.3" stroke-dasharray="3 3"/>
<path d="M1010,594.5 V591 H1121.25 V594.5" fill="none" stroke="#444" stroke-width="1.3"/>
<text x="1065.62" y="592.5" font-size="17" text-anchor="middle" font-weight="bold" fill="#111">*</text>
<path d="M1010,613.25 V609.75 H1064.5 V613.25" fill="none" stroke="#444" stroke-width="1.3"/>
<text x="1037.25" y="611.25" font-size="17" text-anchor="middle" font-weight="bold" fill="#111">*</text>
<path d="M1064.5,607 V603.5 H1121.25 V607" fill="none" stroke="#444" stroke-width="1.3"/>
<text x="1092.88" y="605" font-size="17" text-anchor="middle" font-weight="bold" fill="#111">*</text>
<text font-size="20.3" text-anchor="middle" transform="translate(919.6,673.02) rotate(-90)">log<tspan font-size="15" dy="7">2</tspan><tspan dy="-7">(Fold Change)</tspan></text>
<text font-size="23.6" transform="translate(1171,627.3) rotate(90)">Cluster4</text>
<line x1="978.2" y1="779.5" x2="978.2" y2="952.5" stroke="#000" stroke-width="2" />
<line x1="977.2" y1="951.5" x2="1151" y2="951.5" stroke="#000" stroke-width="2" />
<line x1="971.5" y1="804.8" x2="978.2" y2="804.8" stroke="#000" stroke-width="2" />
<text x="968.8" y="811.9" font-size="20" text-anchor="end">4</text>
<line x1="971.5" y1="841.4" x2="978.2" y2="841.4" stroke="#000" stroke-width="2" />
<text x="968.8" y="848.5" font-size="20" text-anchor="end">2</text>
<line x1="971.5" y1="878" x2="978.2" y2="878" stroke="#000" stroke-width="2" />
<text x="968.8" y="885.1" font-size="20" text-anchor="end">0</text>
<line x1="971.5" y1="914.6" x2="978.2" y2="914.6" stroke="#000" stroke-width="2" />
<text x="968.8" y="921.7" font-size="20" text-anchor="end">-2</text>
<line x1="978.6" y1="878" x2="1152" y2="878" stroke="#000" stroke-width="2.3" stroke-dasharray="3 3"/>
<path d="M1011.25,944.79 L1011.32,944.18 L1011.39,943.57 L1011.46,942.96 L1011.54,942.35 L1011.61,941.73 L1011.68,941.12 L1011.76,940.51 L1011.83,939.9 L1011.91,939.28 L1011.98,938.67 L1012.06,938.06 L1012.14,937.45 L1012.21,936.84 L1012.29,936.22 L1012.37,935.61 L1012.45,935 L1012.52,934.39 L1012.6,933.77 L1012.68,933.16 L1012.75,932.55 L1012.83,931.94 L1012.91,931.32 L1012.99,930.71 L1013.07,930.1 L1013.15,929.49 L1013.24,928.88 L1013.33,928.26 L1013.42,927.65 L1013.51,927.04 L1013.61,926.43 L1013.71,925.81 L1013.82,925.2 L1013.93,924.59 L1014.04,923.98 L1014.17,923.36 L1014.29,922.75 L1014.43,922.14 L1014.56,921.53 L1014.7,920.92 L1014.84,920.3 L1014.99,919.69 L1015.14,919.08 L1015.28,918.47 L1015.44,917.85 L1015.59,917.24 L1015.74,916.63 L1015.9,916.02 L1016.05,915.4 L1016.2,914.79 L1016.35,914.18 L1016.51,913.57 L1016.66,912.96 L1016.81,912.34 L1016.96,911.73 L1017.12,911.12 L1017.27,910.51 L1017.43,909.89 L1017.6,909.28 L1017.77,908.67 L1017.94,908.06 L1018.12,907.44 L1018.31,906.83 L1018.5,906.22 L1018.7,905.61 L1018.91,905 L1019.13,904.38 L1019.36,903.77 L1019.61,903.16 L1019.87,902.55 L1020.13,901.93 L1020.4,901.32 L1020.68,900.71 L1020.96,900.1 L1021.25,899.48 L1021.54,898.87 L1021.83,898.26 L1022.12,897.65 L1022.41,897.04 L1022.69,896.42 L1022.99,895.81 L1023.34,895.2 L1023.72,894.59 L1024.11,893.97 L1024.51,893.36 L1024.91,892.75 L1025.28,892.14 L1025.61,891.52 L1025.9,890.91 L1026.13,890.3 L1026.28,889.69 L1026.35,889.08 L1026.3,888.46 L1026.14,887.85 L1025.88,887.24 L1025.53,886.63 L1025.11,886.01 L1024.65,885.4 L1024.15,884.79 L1023.64,884.18 L1023.13,883.56 L1022.64,882.95 L1022.19,882.34 L1021.79,881.73 L1021.43,881.12 L1021.08,880.5 L1020.74,879.89 L1020.39,879.28 L1020.05,878.67 L1019.72,878.05 L1019.39,877.44 L1019.06,876.83 L1018.73,876.22 L1018.41,875.6 L1018.09,874.99 L1017.77,874.38 L1017.45,873.77 L1017.11,873.16 L1016.77,872.54 L1016.42,871.93 L1016.07,871.32 L1015.72,870.71 L1015.38,870.09 L1015.05,869.48 L1014.73,868.87 L1014.42,868.26 L1014.13,867.64 L1013.87,867.03 L1013.63,866.42 L1013.43,865.81 L1013.25,865.2 L1013.1,864.58 L1012.96,863.97 L1012.83,863.36 L1012.71,862.75 L1012.6,862.13 L1012.5,861.52 L1012.41,860.91 L1012.32,860.3 L1012.25,859.69 L1012.18,859.07 L1012.1,858.46 L1012.03,857.85 L1011.96,857.24 L1011.9,856.62 L1011.83,856.01 L1011.76,855.4 L1011.7,854.79 L1011.64,854.17 L1011.59,853.56 L1011.53,852.95 L1011.48,852.34 L1011.44,851.73 L1011.4,851.11 L1011.36,850.5 L1011.33,849.89 L1011.3,849.28 L1011.28,848.66 L1011.26,848.05 L1011.25,847.44 L1010.25,847.44 L1010.24,848.05 L1010.22,848.66 L1010.2,849.28 L1010.17,849.89 L1010.14,850.5 L1010.1,851.11 L1010.06,851.73 L1010.02,852.34 L1009.97,852.95 L1009.91,853.56 L1009.86,854.17 L1009.8,854.79 L1009.74,855.4 L1009.67,856.01 L1009.6,856.62 L1009.54,857.24 L1009.47,857.85 L1009.4,858.46 L1009.32,859.07 L1009.25,859.69 L1009.18,860.3 L1009.09,860.91 L1009,861.52 L1008.9,862.13 L1008.79,862.75 L1008.67,863.36 L1008.54,863.97 L1008.4,864.58 L1008.25,865.2 L1008.07,865.81 L1007.87,866.42 L1007.63,867.03 L1007.37,867.64 L1007.08,868.26 L1006.77,868.87 L1006.45,869.48 L1006.12,870.09 L1005.78,870.71 L1005.43,871.32 L1005.08,871.93 L1004.73,872.54 L1004.39,873.16 L1004.05,873.77 L1003.73,874.38 L1003.41,874.99 L1003.09,875.6 L1002.77,876.22 L1002.44,876.83 L1002.11,877.44 L1001.78,878.05 L1001.45,878.67 L1001.11,879.28 L1000.76,879.89 L1000.42,880.5 L1000.07,881.12 L999.71,881.73 L999.31,882.34 L998.86,882.95 L998.37,883.56 L997.86,884.18 L997.35,884.79 L996.85,885.4 L996.39,886.01 L995.97,886.63 L995.62,887.24 L995.36,887.85 L995.2,888.46 L995.15,889.08 L995.22,889.69 L995.37,890.3 L995.6,890.91 L995.89,891.52 L996.22,892.14 L996.59,892.75 L996.99,893.36 L997.39,893.97 L997.78,894.59 L998.16,895.2 L998.51,895.81 L998.81,896.42 L999.09,897.04 L999.38,897.65 L999.67,898.26 L999.96,898.87 L1000.25,899.48 L1000.54,900.1 L1000.82,900.71 L1001.1,901.32 L1001.37,901.93 L1001.63,902.55 L1001.89,903.16 L1002.14,903.77 L1002.37,904.38 L1002.59,905 L1002.8,905.61 L1003,906.22 L1003.19,906.83 L1003.38,907.44 L1003.56,908.06 L1003.73,908.67 L1003.9,909.28 L1004.07,909.89 L1004.23,910.51 L1004.38,911.12 L1004.54,911.73 L1004.69,912.34 L1004.84,912.96 L1004.99,913.57 L1005.15,914.18 L1005.3,914.79 L1005.45,915.4 L1005.6,916.02 L1005.76,916.63 L1005.91,917.24 L1006.06,917.85 L1006.22,918.47 L1006.36,919.08 L1006.51,919.69 L1006.66,920.3 L1006.8,920.92 L1006.94,921.53 L1007.07,922.14 L1007.21,922.75 L1007.33,923.36 L1007.46,923.98 L1007.57,924.59 L1007.68,925.2 L1007.79,925.81 L1007.89,926.43 L1007.99,927.04 L1008.08,927.65 L1008.17,928.26 L1008.26,928.88 L1008.35,929.49 L1008.43,930.1 L1008.51,930.71 L1008.59,931.32 L1008.67,931.94 L1008.75,932.55 L1008.82,933.16 L1008.9,933.77 L1008.98,934.39 L1009.05,935 L1009.13,935.61 L1009.21,936.22 L1009.29,936.84 L1009.36,937.45 L1009.44,938.06 L1009.52,938.67 L1009.59,939.28 L1009.67,939.9 L1009.74,940.51 L1009.82,941.12 L1009.89,941.73 L1009.96,942.35 L1010.04,942.96 L1010.11,943.57 L1010.18,944.18 L1010.25,944.79 Z" fill="#e60000" stroke="#000" stroke-width="2.1" stroke-linejoin="round"/>
<path d="M1065,940.22 L1065.01,939.6 L1065.03,938.99 L1065.06,938.37 L1065.09,937.76 L1065.13,937.14 L1065.18,936.53 L1065.23,935.91 L1065.29,935.29 L1065.35,934.68 L1065.42,934.06 L1065.49,933.45 L1065.57,932.83 L1065.65,932.22 L1065.74,931.6 L1065.82,930.98 L1065.92,930.37 L1066.01,929.75 L1066.11,929.14 L1066.21,928.52 L1066.31,927.9 L1066.41,927.29 L1066.51,926.67 L1066.62,926.06 L1066.72,925.44 L1066.84,924.83 L1066.96,924.21 L1067.1,923.59 L1067.25,922.98 L1067.4,922.36 L1067.57,921.75 L1067.74,921.13 L1067.93,920.52 L1068.12,919.9 L1068.32,919.28 L1068.53,918.67 L1068.75,918.05 L1068.97,917.44 L1069.2,916.82 L1069.46,916.21 L1069.75,915.59 L1070.05,914.97 L1070.38,914.36 L1070.72,913.74 L1071.07,913.13 L1071.43,912.51 L1071.8,911.9 L1072.17,911.28 L1072.54,910.66 L1072.91,910.05 L1073.28,909.43 L1073.64,908.82 L1074,908.2 L1074.34,907.59 L1074.67,906.97 L1075.04,906.35 L1075.44,905.74 L1075.85,905.12 L1076.27,904.51 L1076.68,903.89 L1077.07,903.27 L1077.43,902.66 L1077.74,902.04 L1077.98,901.43 L1078.16,900.81 L1078.24,900.2 L1078.24,899.58 L1078.15,898.96 L1078.01,898.35 L1077.81,897.73 L1077.57,897.12 L1077.3,896.5 L1077.01,895.89 L1076.7,895.27 L1076.39,894.65 L1076.09,894.04 L1075.81,893.42 L1075.56,892.81 L1075.34,892.19 L1075.11,891.58 L1074.88,890.96 L1074.65,890.34 L1074.42,889.73 L1074.18,889.11 L1073.95,888.5 L1073.73,887.88 L1073.5,887.27 L1073.28,886.65 L1073.07,886.03 L1072.86,885.42 L1072.66,884.8 L1072.46,884.19 L1072.28,883.57 L1072.1,882.95 L1071.94,882.34 L1071.78,881.72 L1071.63,881.11 L1071.49,880.49 L1071.35,879.88 L1071.22,879.26 L1071.09,878.64 L1070.96,878.03 L1070.84,877.41 L1070.72,876.8 L1070.6,876.18 L1070.48,875.57 L1070.36,874.95 L1070.24,874.33 L1070.12,873.72 L1070,873.1 L1069.88,872.49 L1069.75,871.87 L1069.62,871.26 L1069.49,870.64 L1069.35,870.02 L1069.21,869.41 L1069.07,868.79 L1068.92,868.18 L1068.77,867.56 L1068.61,866.95 L1068.46,866.33 L1068.31,865.71 L1068.16,865.1 L1068.01,864.48 L1067.86,863.87 L1067.72,863.25 L1067.58,862.63 L1067.45,862.02 L1067.32,861.4 L1067.2,860.79 L1067.08,860.17 L1066.98,859.56 L1066.88,858.94 L1066.78,858.32 L1066.69,857.71 L1066.6,857.09 L1066.51,856.48 L1066.43,855.86 L1066.35,855.25 L1066.27,854.63 L1066.19,854.01 L1066.12,853.4 L1066.05,852.78 L1065.98,852.17 L1065.9,851.55 L1065.84,850.94 L1065.77,850.32 L1065.7,849.7 L1065.63,849.09 L1065.57,848.47 L1065.5,847.86 L1065.44,847.24 L1065.38,846.63 L1065.32,846.01 L1065.26,845.39 L1065.21,844.78 L1065.15,844.16 L1065.1,843.55 L1065.05,842.93 L1065,842.32 L1064,842.32 L1063.95,842.93 L1063.9,843.55 L1063.85,844.16 L1063.79,844.78 L1063.74,845.39 L1063.68,846.01 L1063.62,846.63 L1063.56,847.24 L1063.5,847.86 L1063.43,848.47 L1063.37,849.09 L1063.3,849.7 L1063.23,850.32 L1063.16,850.94 L1063.1,851.55 L1063.02,852.17 L1062.95,852.78 L1062.88,853.4 L1062.81,854.01 L1062.73,854.63 L1062.65,855.25 L1062.57,855.86 L1062.49,856.48 L1062.4,857.09 L1062.31,857.71 L1062.22,858.32 L1062.12,858.94 L1062.02,859.56 L1061.92,860.17 L1061.8,860.79 L1061.68,861.4 L1061.55,862.02 L1061.42,862.63 L1061.28,863.25 L1061.14,863.87 L1060.99,864.48 L1060.84,865.1 L1060.69,865.71 L1060.54,866.33 L1060.39,866.95 L1060.23,867.56 L1060.08,868.18 L1059.93,868.79 L1059.79,869.41 L1059.65,870.02 L1059.51,870.64 L1059.38,871.26 L1059.25,871.87 L1059.12,872.49 L1059,873.1 L1058.88,873.72 L1058.76,874.33 L1058.64,874.95 L1058.52,875.57 L1058.4,876.18 L1058.28,876.8 L1058.16,877.41 L1058.04,878.03 L1057.91,878.64 L1057.78,879.26 L1057.65,879.88 L1057.51,880.49 L1057.37,881.11 L1057.22,881.72 L1057.06,882.34 L1056.9,882.95 L1056.72,883.57 L1056.54,884.19 L1056.34,884.8 L1056.14,885.42 L1055.93,886.03 L1055.72,886.65 L1055.5,887.27 L1055.27,887.88 L1055.05,888.5 L1054.82,889.11 L1054.58,889.73 L1054.35,890.34 L1054.12,890.96 L1053.89,891.58 L1053.66,892.19 L1053.44,892.81 L1053.19,893.42 L1052.91,894.04 L1052.61,894.65 L1052.3,895.27 L1051.99,895.89 L1051.7,896.5 L1051.43,897.12 L1051.19,897.73 L1050.99,898.35 L1050.85,898.96 L1050.76,899.58 L1050.76,900.2 L1050.84,900.81 L1051.02,901.43 L1051.26,902.04 L1051.57,902.66 L1051.93,903.27 L1052.32,903.89 L1052.73,904.51 L1053.15,905.12 L1053.56,905.74 L1053.96,906.35 L1054.33,906.97 L1054.66,907.59 L1055,908.2 L1055.36,908.82 L1055.72,909.43 L1056.09,910.05 L1056.46,910.66 L1056.83,911.28 L1057.2,911.9 L1057.57,912.51 L1057.93,913.13 L1058.28,913.74 L1058.62,914.36 L1058.95,914.97 L1059.25,915.59 L1059.54,916.21 L1059.8,916.82 L1060.03,917.44 L1060.25,918.05 L1060.47,918.67 L1060.68,919.28 L1060.88,919.9 L1061.07,920.52 L1061.26,921.13 L1061.43,921.75 L1061.6,922.36 L1061.75,922.98 L1061.9,923.59 L1062.04,924.21 L1062.16,924.83 L1062.28,925.44 L1062.38,926.06 L1062.49,926.67 L1062.59,927.29 L1062.69,927.9 L1062.79,928.52 L1062.89,929.14 L1062.99,929.75 L1063.08,930.37 L1063.18,930.98 L1063.26,931.6 L1063.35,932.22 L1063.43,932.83 L1063.51,933.45 L1063.58,934.06 L1063.65,934.68 L1063.71,935.29 L1063.77,935.91 L1063.82,936.53 L1063.87,937.14 L1063.91,937.76 L1063.94,938.37 L1063.97,938.99 L1063.99,939.6 L1064,940.22 Z" fill="#44b244" stroke="#000" stroke-width="2.1" stroke-linejoin="round"/>
<path d="M1119.25,882.58 L1119.34,882.11 L1119.5,881.65 L1119.71,881.19 L1119.96,880.73 L1120.25,880.27 L1120.57,879.81 L1120.91,879.35 L1121.27,878.89 L1121.65,878.43 L1122.1,877.97 L1122.63,877.51 L1123.25,877.05 L1123.98,876.59 L1124.83,876.13 L1126.23,875.67 L1128.24,875.21 L1130.6,874.75 L1133.02,874.29 L1135.22,873.83 L1136.93,873.37 L1138.44,872.91 L1139.98,872.45 L1141.47,871.99 L1142.84,871.53 L1144.02,871.07 L1144.93,870.61 L1145.49,870.14 L1145.64,869.68 L1145.28,869.22 L1144.46,868.76 L1143.28,868.3 L1141.84,867.84 L1140.26,867.38 L1138.62,866.92 L1137.03,866.46 L1135.6,866 L1134.42,865.54 L1133.58,865.08 L1132.89,864.62 L1132.23,864.16 L1131.6,863.7 L1131.01,863.24 L1130.46,862.78 L1129.94,862.32 L1129.46,861.86 L1129.02,861.4 L1128.62,860.94 L1128.26,860.48 L1127.94,860.02 L1127.67,859.56 L1127.41,859.1 L1127.17,858.64 L1126.94,858.17 L1126.72,857.71 L1126.51,857.25 L1126.31,856.79 L1126.12,856.33 L1125.93,855.87 L1125.76,855.41 L1125.59,854.95 L1125.44,854.49 L1125.28,854.03 L1125.13,853.57 L1124.99,853.11 L1124.85,852.65 L1124.72,852.19 L1124.58,851.73 L1124.45,851.27 L1124.33,850.81 L1124.2,850.35 L1124.07,849.89 L1123.95,849.43 L1123.82,848.97 L1123.69,848.51 L1123.56,848.05 L1123.43,847.59 L1123.3,847.13 L1123.17,846.67 L1123.05,846.21 L1122.92,845.74 L1122.79,845.28 L1122.67,844.82 L1122.55,844.36 L1122.43,843.9 L1122.32,843.44 L1122.2,842.98 L1122.09,842.52 L1121.99,842.06 L1121.89,841.6 L1121.79,841.14 L1121.7,840.68 L1121.61,840.22 L1121.53,839.76 L1121.46,839.3 L1121.39,838.84 L1121.33,838.38 L1121.27,837.92 L1121.22,837.46 L1121.17,837 L1121.13,836.54 L1121.09,836.08 L1121.04,835.62 L1121.01,835.16 L1120.97,834.7 L1120.93,834.24 L1120.9,833.77 L1120.86,833.31 L1120.83,832.85 L1120.8,832.39 L1120.77,831.93 L1120.74,831.47 L1120.72,831.01 L1120.69,830.55 L1120.66,830.09 L1120.64,829.63 L1120.61,829.17 L1120.59,828.71 L1120.56,828.25 L1120.53,827.79 L1120.51,827.33 L1120.48,826.87 L1120.46,826.41 L1120.43,825.95 L1120.4,825.49 L1120.38,825.03 L1120.35,824.57 L1120.32,824.11 L1120.29,823.65 L1120.26,823.19 L1120.22,822.73 L1120.19,822.27 L1120.16,821.81 L1120.13,821.34 L1120.09,820.88 L1120.06,820.42 L1120.03,819.96 L1119.99,819.5 L1119.96,819.04 L1119.93,818.58 L1119.89,818.12 L1119.86,817.66 L1119.83,817.2 L1119.79,816.74 L1119.76,816.28 L1119.73,815.82 L1119.69,815.36 L1119.66,814.9 L1119.63,814.44 L1119.59,813.98 L1119.56,813.52 L1119.52,813.06 L1119.49,812.6 L1119.46,812.14 L1119.42,811.68 L1119.39,811.22 L1119.35,810.76 L1119.32,810.3 L1119.28,809.84 L1119.25,809.38 L1118.25,809.38 L1118.22,809.84 L1118.18,810.3 L1118.15,810.76 L1118.11,811.22 L1118.08,811.68 L1118.04,812.14 L1118.01,812.6 L1117.98,813.06 L1117.94,813.52 L1117.91,813.98 L1117.87,814.44 L1117.84,814.9 L1117.81,815.36 L1117.77,815.82 L1117.74,816.28 L1117.71,816.74 L1117.67,817.2 L1117.64,817.66 L1117.61,818.12 L1117.57,818.58 L1117.54,819.04 L1117.51,819.5 L1117.47,819.96 L1117.44,820.42 L1117.41,820.88 L1117.37,821.34 L1117.34,821.81 L1117.31,822.27 L1117.28,822.73 L1117.24,823.19 L1117.21,823.65 L1117.18,824.11 L1117.15,824.57 L1117.12,825.03 L1117.1,825.49 L1117.07,825.95 L1117.04,826.41 L1117.02,826.87 L1116.99,827.33 L1116.97,827.79 L1116.94,828.25 L1116.91,828.71 L1116.89,829.17 L1116.86,829.63 L1116.84,830.09 L1116.81,830.55 L1116.78,831.01 L1116.76,831.47 L1116.73,831.93 L1116.7,832.39 L1116.67,832.85 L1116.64,833.31 L1116.6,833.77 L1116.57,834.24 L1116.53,834.7 L1116.49,835.16 L1116.46,835.62 L1116.41,836.08 L1116.37,836.54 L1116.33,837 L1116.28,837.46 L1116.23,837.92 L1116.17,838.38 L1116.11,838.84 L1116.04,839.3 L1115.97,839.76 L1115.89,840.22 L1115.8,840.68 L1115.71,841.14 L1115.61,841.6 L1115.51,842.06 L1115.41,842.52 L1115.3,842.98 L1115.18,843.44 L1115.07,843.9 L1114.95,844.36 L1114.83,844.82 L1114.71,845.28 L1114.58,845.74 L1114.45,846.21 L1114.33,846.67 L1114.2,847.13 L1114.07,847.59 L1113.94,848.05 L1113.81,848.51 L1113.68,848.97 L1113.55,849.43 L1113.43,849.89 L1113.3,850.35 L1113.17,850.81 L1113.05,851.27 L1112.92,851.73 L1112.78,852.19 L1112.65,852.65 L1112.51,853.11 L1112.37,853.57 L1112.22,854.03 L1112.06,854.49 L1111.91,854.95 L1111.74,855.41 L1111.57,855.87 L1111.38,856.33 L1111.19,856.79 L1110.99,857.25 L1110.78,857.71 L1110.56,858.17 L1110.33,858.64 L1110.09,859.1 L1109.83,859.56 L1109.56,860.02 L1109.24,860.48 L1108.88,860.94 L1108.48,861.4 L1108.04,861.86 L1107.56,862.32 L1107.04,862.78 L1106.49,863.24 L1105.9,863.7 L1105.27,864.16 L1104.61,864.62 L1103.92,865.08 L1103.08,865.54 L1101.9,866 L1100.47,866.46 L1098.88,866.92 L1097.24,867.38 L1095.66,867.84 L1094.22,868.3 L1093.04,868.76 L1092.22,869.22 L1091.86,869.68 L1092.01,870.14 L1092.57,870.61 L1093.48,871.07 L1094.66,871.53 L1096.03,871.99 L1097.52,872.45 L1099.06,872.91 L1100.57,873.37 L1102.28,873.83 L1104.48,874.29 L1106.9,874.75 L1109.26,875.21 L1111.27,875.67 L1112.67,876.13 L1113.52,876.59 L1114.25,877.05 L1114.87,877.51 L1115.4,877.97 L1115.85,878.43 L1116.23,878.89 L1116.59,879.35 L1116.93,879.81 L1117.25,880.27 L1117.54,880.73 L1117.79,881.19 L1118,881.65 L1118.16,882.11 L1118.25,882.58 Z" fill="#3d9bff" stroke="#000" stroke-width="2.1" stroke-linejoin="round"/>
<line x1="978.6" y1="878" x2="1152" y2="878" stroke="#000" stroke-width="2.3" stroke-dasharray="3 3"/>
<path d="M1008.25,792.75 V789.25 H1118.75 V792.75" fill="none" stroke="#444" stroke-width="1.3"/>
<text x="1063.5" y="790.75" font-size="17" text-anchor="middle" font-weight="bold" fill="#111">*</text>
<path d="M1008.25,811 V807.5 H1062 V811" fill="none" stroke="#444" stroke-width="1.3"/>
<text x="1035.12" y="804.5" font-size="12" text-anchor="middle" fill="#444">ns</text>
<path d="M1062,805.25 V801.75 H1118.75 V805.25" fill="none" stroke="#444" stroke-width="1.3"/>
<text x="1090.38" y="803.25" font-size="17" text-anchor="middle" font-weight="bold" fill="#111">*</text>
<text font-size="20.3" text-anchor="middle" transform="translate(919.6,865.9) rotate(-90)">log<tspan font-size="15" dy="7">2</tspan><tspan dy="-7">(Fold Change)</tspan></text>
<text font-size="23.6" transform="translate(1171,820.8) rotate(90)">Cluster5</text>
<rect x="404" y="963.5" width="391" height="181.5" fill="none" stroke="#000" stroke-width="2.2" />
<rect x="404" y="1151.5" width="390.5" height="178" fill="none" stroke="#000" stroke-width="2.2" />
<rect x="404" y="1336.5" width="390.5" height="174.5" fill="none" stroke="#000" stroke-width="2.2" />
<rect x="801.6" y="1151.3" width="392.8" height="359.5" fill="none" stroke="#000" stroke-width="2.2" />
<rect x="403.5" y="1517" width="790.7" height="174.5" fill="none" stroke="#000" stroke-width="2.2" />
<text x="405" y="979" font-size="16" font-weight="bold" fill="#ff0000">Cluster 1</text>
<text x="405" y="1166.6" font-size="16" font-weight="bold" fill="#ff0000">Cluster 2</text>
<text x="405" y="1351.2" font-size="16" font-weight="bold" fill="#ff0000">Cluster 4</text>
<text x="803" y="1166.6" font-size="16" font-weight="bold" fill="#ff0000">Cluster 3</text>
<text x="404.5" y="1532.6" font-size="16" font-weight="bold" fill="#ff0000">Cluster 5</text>
<rect x="467.3" y="998.3" width="140.5" height="140.7" fill="#fff" stroke="#000" stroke-width="2.2" />
<rect x="477.6" y="1052.2" width="31.2" height="62.16" fill="#e80000" stroke="#000" stroke-width="2" />
<rect x="521.5" y="1052.2" width="31.2" height="81.03" fill="#44b444" stroke="#000" stroke-width="2" />
<rect x="565.5" y="1004.47" width="31.2" height="47.73" fill="#3b9bff" stroke="#000" stroke-width="2" />
<line x1="467.3" y1="1052.2" x2="607.8" y2="1052.2" stroke="#000" stroke-width="2.2" />
<line x1="460.6" y1="1007.8" x2="467.3" y2="1007.8" stroke="#000" stroke-width="2" />
<text x="457.7" y="1013.5" font-size="16" text-anchor="end" fill="#111">2</text>
<line x1="460.6" y1="1052.2" x2="467.3" y2="1052.2" stroke="#000" stroke-width="2" />
<text x="457.7" y="1057.9" font-size="16" text-anchor="end" fill="#111">0</text>
<line x1="460.6" y1="1096.6" x2="467.3" y2="1096.6" stroke="#000" stroke-width="2" />
<text x="457.7" y="1102.3" font-size="16" text-anchor="end" fill="#111">-2</text>
<text x="537.3" y="993" font-size="23.5" text-anchor="middle" font-weight="bold">St18</text>
<rect x="649.6" y="998" width="140.5" height="141" fill="#fff" stroke="#000" stroke-width="2.2" />
<rect x="659.9" y="1030.2" width="31.2" height="31.15" fill="#e80000" stroke="#000" stroke-width="2" />
<rect x="703.8" y="1030.2" width="31.2" height="102.42" fill="#44b444" stroke="#000" stroke-width="2" />
<rect x="747.8" y="1004.71" width="31.2" height="25.49" fill="#3b9bff" stroke="#000" stroke-width="2" />
<line x1="649.6" y1="1030.2" x2="790.1" y2="1030.2" stroke="#000" stroke-width="2.2" />
<line x1="642.9" y1="1030.2" x2="649.6" y2="1030.2" stroke="#000" stroke-width="2" />
<text x="640" y="1035.9" font-size="16" text-anchor="end" fill="#111">0</text>
<line x1="642.9" y1="1077.4" x2="649.6" y2="1077.4" stroke="#000" stroke-width="2" />
<text x="640" y="1083.1" font-size="16" text-anchor="end" fill="#111">-1</text>
<line x1="642.9" y1="1124.6" x2="649.6" y2="1124.6" stroke="#000" stroke-width="2" />
<text x="640" y="1130.3" font-size="16" text-anchor="end" fill="#111">-2</text>
<text x="719.6" y="992.6" font-size="23.5" text-anchor="middle" font-weight="bold">Wt1</text>
<rect x="467.4" y="1182.7" width="140.5" height="140.3" fill="#fff" stroke="#000" stroke-width="2.2" />
<rect x="477.7" y="1280.62" width="31.2" height="1.48" fill="#e80000" stroke="#000" stroke-width="2" />
<rect x="521.6" y="1187.76" width="31.2" height="94.34" fill="#44b444" stroke="#000" stroke-width="2" />
<rect x="565.6" y="1282.1" width="31.2" height="36.04" fill="#3b9bff" stroke="#000" stroke-width="2" />
<line x1="467.4" y1="1282.1" x2="607.9" y2="1282.1" stroke="#000" stroke-width="2.2" />
<line x1="460.7" y1="1197.3" x2="467.4" y2="1197.3" stroke="#000" stroke-width="2" />
<text x="457.8" y="1203" font-size="16" text-anchor="end" fill="#111">4</text>
<line x1="460.7" y1="1239.7" x2="467.4" y2="1239.7" stroke="#000" stroke-width="2" />
<text x="457.8" y="1245.4" font-size="16" text-anchor="end" fill="#111">2</text>
<line x1="460.7" y1="1282.1" x2="467.4" y2="1282.1" stroke="#000" stroke-width="2" />
<text x="457.8" y="1287.8" font-size="16" text-anchor="end" fill="#111">0</text>
<text x="537.4" y="1175.8" font-size="23.5" text-anchor="middle" font-weight="bold">Cldn2</text>
<rect x="649.7" y="1182.7" width="140.5" height="141.3" fill="#fff" stroke="#000" stroke-width="2.2" />
<rect x="660" y="1261.8" width="31.2" height="18.2" fill="#e80000" stroke="#000" stroke-width="2" />
<rect x="703.9" y="1189" width="31.2" height="91" fill="#44b444" stroke="#000" stroke-width="2" />
<rect x="747.9" y="1280" width="31.2" height="36.4" fill="#3b9bff" stroke="#000" stroke-width="2" />
<line x1="649.7" y1="1280" x2="790.2" y2="1280" stroke="#000" stroke-width="2.2" />
<line x1="643" y1="1207.2" x2="649.7" y2="1207.2" stroke="#000" stroke-width="2" />
<text x="640.1" y="1212.9" font-size="16" text-anchor="end" fill="#111">4</text>
<line x1="643" y1="1243.6" x2="649.7" y2="1243.6" stroke="#000" stroke-width="2" />
<text x="640.1" y="1249.3" font-size="16" text-anchor="end" fill="#111">2</text>
<line x1="643" y1="1280" x2="649.7" y2="1280" stroke="#000" stroke-width="2" />
<text x="640.1" y="1285.7" font-size="16" text-anchor="end" fill="#111">0</text>
<line x1="643" y1="1316.4" x2="649.7" y2="1316.4" stroke="#000" stroke-width="2" />
<text x="640.1" y="1322.1" font-size="16" text-anchor="end" fill="#111">-2</text>
<text x="719.7" y="1175.2" font-size="23.5" text-anchor="middle" font-weight="bold">Postn</text>
<rect x="467.4" y="1364" width="140.5" height="140.8" fill="#fff" stroke="#000" stroke-width="2.2" />
<rect x="477.7" y="1369.5" width="31.2" height="26.43" fill="#e80000" stroke="#000" stroke-width="2" />
<rect x="521.6" y="1369.5" width="31.2" height="128.96" fill="#44b444" stroke="#000" stroke-width="2" />
<rect x="565.6" y="1369.5" width="31.2" height="8.01" fill="#3b9bff" stroke="#000" stroke-width="2" />
<line x1="467.4" y1="1369.5" x2="607.9" y2="1369.5" stroke="#000" stroke-width="2.2" />
<line x1="460.7" y1="1369.5" x2="467.4" y2="1369.5" stroke="#000" stroke-width="2" />
<text x="457.8" y="1375.2" font-size="16" text-anchor="end" fill="#111">0</text>
<line x1="460.7" y1="1409.55" x2="467.4" y2="1409.55" stroke="#000" stroke-width="2" />
<text x="457.8" y="1415.25" font-size="16" text-anchor="end" fill="#111">-0.5</text>
<line x1="460.7" y1="1449.6" x2="467.4" y2="1449.6" stroke="#000" stroke-width="2" />
<text x="457.8" y="1455.3" font-size="16" text-anchor="end" fill="#111">-1</text>
<line x1="460.7" y1="1489.65" x2="467.4" y2="1489.65" stroke="#000" stroke-width="2" />
<text x="457.8" y="1495.35" font-size="16" text-anchor="end" fill="#111">-1.5</text>
<text x="537.4" y="1356.7" font-size="23.5" text-anchor="middle" font-weight="bold">Fos</text>
<rect x="649.7" y="1363.7" width="140.5" height="140.8" fill="#fff" stroke="#000" stroke-width="2.2" />
<rect x="660" y="1370.2" width="31.2" height="23.8" fill="#e80000" stroke="#000" stroke-width="2" />
<rect x="703.9" y="1370.2" width="31.2" height="127.5" fill="#44b444" stroke="#000" stroke-width="2" />
<rect x="747.9" y="1370.2" width="31.2" height="2.55" fill="#3b9bff" stroke="#000" stroke-width="2" />
<line x1="649.7" y1="1370.2" x2="790.2" y2="1370.2" stroke="#000" stroke-width="2.2" />
<line x1="643" y1="1370.2" x2="649.7" y2="1370.2" stroke="#000" stroke-width="2" />
<text x="640.1" y="1375.9" font-size="16" text-anchor="end" fill="#111">0</text>
<line x1="643" y1="1412.7" x2="649.7" y2="1412.7" stroke="#000" stroke-width="2" />
<text x="640.1" y="1418.4" font-size="16" text-anchor="end" fill="#111">-0.5</text>
<line x1="643" y1="1455.2" x2="649.7" y2="1455.2" stroke="#000" stroke-width="2" />
<text x="640.1" y="1460.9" font-size="16" text-anchor="end" fill="#111">-1</text>
<line x1="643" y1="1497.7" x2="649.7" y2="1497.7" stroke="#000" stroke-width="2" />
<text x="640.1" y="1503.4" font-size="16" text-anchor="end" fill="#111">-1.5</text>
<text x="719.7" y="1355.9" font-size="23.5" text-anchor="middle" font-weight="bold">Pou5f1</text>
<rect x="868" y="1182.5" width="140.5" height="140.8" fill="#fff" stroke="#000" stroke-width="2.2" />
<rect x="878.3" y="1195.02" width="31.2" height="122.38" fill="#e80000" stroke="#000" stroke-width="2" />
<rect x="922.2" y="1188.74" width="31.2" height="128.66" fill="#44b444" stroke="#000" stroke-width="2" />
<rect x="966.2" y="1300.66" width="31.2" height="16.74" fill="#3b9bff" stroke="#000" stroke-width="2" />
<line x1="868" y1="1317.4" x2="1008.5" y2="1317.4" stroke="#000" stroke-width="2.2" />
<line x1="861.3" y1="1212.8" x2="868" y2="1212.8" stroke="#000" stroke-width="2" />
<text x="858.4" y="1218.5" font-size="16" text-anchor="end" fill="#111">1</text>
<line x1="861.3" y1="1265.1" x2="868" y2="1265.1" stroke="#000" stroke-width="2" />
<text x="858.4" y="1270.8" font-size="16" text-anchor="end" fill="#111">0.5</text>
<line x1="861.3" y1="1317.4" x2="868" y2="1317.4" stroke="#000" stroke-width="2" />
<text x="858.4" y="1323.1" font-size="16" text-anchor="end" fill="#111">0</text>
<text x="938" y="1175.9" font-size="23.5" text-anchor="middle" font-weight="bold">Dkk3</text>
<rect x="1050.2" y="1182" width="140.5" height="140.9" fill="#fff" stroke="#000" stroke-width="2.2" />
<rect x="1060.5" y="1226.88" width="31.2" height="90.22" fill="#e80000" stroke="#000" stroke-width="2" />
<rect x="1104.4" y="1188.22" width="31.2" height="128.88" fill="#44b444" stroke="#000" stroke-width="2" />
<rect x="1148.4" y="1316.38" width="31.2" height="0.72" fill="#3b9bff" stroke="#000" stroke-width="2" />
<line x1="1050.2" y1="1317.1" x2="1190.7" y2="1317.1" stroke="#000" stroke-width="2.2" />
<line x1="1043.5" y1="1209.7" x2="1050.2" y2="1209.7" stroke="#000" stroke-width="2" />
<text x="1040.6" y="1215.4" font-size="16" text-anchor="end" fill="#111">1.5</text>
<line x1="1043.5" y1="1245.5" x2="1050.2" y2="1245.5" stroke="#000" stroke-width="2" />
<text x="1040.6" y="1251.2" font-size="16" text-anchor="end" fill="#111">1</text>
<line x1="1043.5" y1="1281.3" x2="1050.2" y2="1281.3" stroke="#000" stroke-width="2" />
<text x="1040.6" y="1287" font-size="16" text-anchor="end" fill="#111">0.5</text>
<line x1="1043.5" y1="1317.1" x2="1050.2" y2="1317.1" stroke="#000" stroke-width="2" />
<text x="1040.6" y="1322.8" font-size="16" text-anchor="end" fill="#111">0</text>
<text x="1120.2" y="1175.9" font-size="23.5" text-anchor="middle" font-weight="bold">Sfrp5</text>
<rect x="868" y="1364" width="140.5" height="140.8" fill="#fff" stroke="#000" stroke-width="2.2" />
<rect x="878.3" y="1376.37" width="31.2" height="103.63" fill="#e80000" stroke="#000" stroke-width="2" />
<rect x="922.2" y="1369.17" width="31.2" height="110.83" fill="#44b444" stroke="#000" stroke-width="2" />
<rect x="966.2" y="1480" width="31.2" height="18.61" fill="#3b9bff" stroke="#000" stroke-width="2" />
<line x1="868" y1="1480" x2="1008.5" y2="1480" stroke="#000" stroke-width="2.2" />
<line x1="861.3" y1="1395.4" x2="868" y2="1395.4" stroke="#000" stroke-width="2" />
<text x="858.4" y="1401.1" font-size="16" text-anchor="end" fill="#111">2</text>
<line x1="861.3" y1="1437.7" x2="868" y2="1437.7" stroke="#000" stroke-width="2" />
<text x="858.4" y="1443.4" font-size="16" text-anchor="end" fill="#111">1</text>
<line x1="861.3" y1="1480" x2="868" y2="1480" stroke="#000" stroke-width="2" />
<text x="858.4" y="1485.7" font-size="16" text-anchor="end" fill="#111">0</text>
<text x="938" y="1356.7" font-size="23.5" text-anchor="middle" font-weight="bold">Pou3f2</text>
<rect x="1050.2" y="1363.7" width="140.5" height="140.8" fill="#fff" stroke="#000" stroke-width="2.2" />
<rect x="1060.5" y="1394.3" width="31.2" height="98.2" fill="#e80000" stroke="#000" stroke-width="2" />
<rect x="1104.4" y="1368.77" width="31.2" height="123.73" fill="#44b444" stroke="#000" stroke-width="2" />
<rect x="1148.4" y="1492.5" width="31.2" height="5.89" fill="#3b9bff" stroke="#000" stroke-width="2" />
<line x1="1050.2" y1="1492.5" x2="1190.7" y2="1492.5" stroke="#000" stroke-width="2.2" />
<line x1="1043.5" y1="1374.66" x2="1050.2" y2="1374.66" stroke="#000" stroke-width="2" />
<text x="1040.6" y="1380.36" font-size="16" text-anchor="end" fill="#111">1.2</text>
<line x1="1043.5" y1="1413.94" x2="1050.2" y2="1413.94" stroke="#000" stroke-width="2" />
<text x="1040.6" y="1419.64" font-size="16" text-anchor="end" fill="#111">0.8</text>
<line x1="1043.5" y1="1453.22" x2="1050.2" y2="1453.22" stroke="#000" stroke-width="2" />
<text x="1040.6" y="1458.92" font-size="16" text-anchor="end" fill="#111">0.4</text>
<line x1="1043.5" y1="1492.5" x2="1050.2" y2="1492.5" stroke="#000" stroke-width="2" />
<text x="1040.6" y="1498.2" font-size="16" text-anchor="end" fill="#111">0</text>
<text x="1120.2" y="1355.9" font-size="23.5" text-anchor="middle" font-weight="bold">Pdgfr</text>
<rect x="467.4" y="1545.8" width="140.5" height="141.2" fill="#fff" stroke="#000" stroke-width="2.2" />
<rect x="477.7" y="1616" width="31.2" height="65.04" fill="#e80000" stroke="#000" stroke-width="2" />
<rect x="521.6" y="1616" width="31.2" height="26.41" fill="#44b444" stroke="#000" stroke-width="2" />
<rect x="565.6" y="1551.45" width="31.2" height="64.55" fill="#3b9bff" stroke="#000" stroke-width="2" />
<line x1="467.4" y1="1616" x2="607.9" y2="1616" stroke="#000" stroke-width="2.2" />
<line x1="460.7" y1="1567.1" x2="467.4" y2="1567.1" stroke="#000" stroke-width="2" />
<text x="457.8" y="1572.8" font-size="16" text-anchor="end" fill="#111">1</text>
<line x1="460.7" y1="1616" x2="467.4" y2="1616" stroke="#000" stroke-width="2" />
<text x="457.8" y="1621.7" font-size="16" text-anchor="end" fill="#111">0</text>
<line x1="460.7" y1="1664.9" x2="467.4" y2="1664.9" stroke="#000" stroke-width="2" />
<text x="457.8" y="1670.6" font-size="16" text-anchor="end" fill="#111">-1</text>
<text x="537.4" y="1539.4" font-size="23.5" text-anchor="middle" font-weight="bold">T</text>
<rect x="649.7" y="1545.4" width="140.5" height="141.5" fill="#fff" stroke="#000" stroke-width="2.2" />
<rect x="660" y="1606.3" width="31.2" height="15.61" fill="#e80000" stroke="#000" stroke-width="2" />
<rect x="703.9" y="1606.3" width="31.2" height="74.56" fill="#44b444" stroke="#000" stroke-width="2" />
<rect x="747.9" y="1551.97" width="31.2" height="54.33" fill="#3b9bff" stroke="#000" stroke-width="2" />
<line x1="649.7" y1="1606.3" x2="790.2" y2="1606.3" stroke="#000" stroke-width="2.2" />
<line x1="643" y1="1548.5" x2="649.7" y2="1548.5" stroke="#000" stroke-width="2" />
<text x="640.1" y="1554.2" font-size="16" text-anchor="end" fill="#111">2</text>
<line x1="643" y1="1577.4" x2="649.7" y2="1577.4" stroke="#000" stroke-width="2" />
<text x="640.1" y="1583.1" font-size="16" text-anchor="end" fill="#111">1</text>
<line x1="643" y1="1606.3" x2="649.7" y2="1606.3" stroke="#000" stroke-width="2" />
<text x="640.1" y="1612" font-size="16" text-anchor="end" fill="#111">0</text>
<line x1="643" y1="1635.2" x2="649.7" y2="1635.2" stroke="#000" stroke-width="2" />
<text x="640.1" y="1640.9" font-size="16" text-anchor="end" fill="#111">-1</text>
<line x1="643" y1="1664.1" x2="649.7" y2="1664.1" stroke="#000" stroke-width="2" />
<text x="640.1" y="1669.8" font-size="16" text-anchor="end" fill="#111">-2</text>
<text x="719.7" y="1539.3" font-size="23.5" text-anchor="middle" font-weight="bold">Cdx2</text>
<rect x="868" y="1545.4" width="140.5" height="142.5" fill="#fff" stroke="#000" stroke-width="2.2" />
<rect x="878.3" y="1616.2" width="31.2" height="35.46" fill="#e80000" stroke="#000" stroke-width="2" />
<rect x="922.2" y="1616.2" width="31.2" height="65.21" fill="#44b444" stroke="#000" stroke-width="2" />
<rect x="966.2" y="1552.71" width="31.2" height="63.49" fill="#3b9bff" stroke="#000" stroke-width="2" />
<line x1="868" y1="1616.2" x2="1008.5" y2="1616.2" stroke="#000" stroke-width="2.2" />
<line x1="861.3" y1="1559" x2="868" y2="1559" stroke="#000" stroke-width="2" />
<text x="858.4" y="1564.7" font-size="16" text-anchor="end" fill="#111">1</text>
<line x1="861.3" y1="1587.6" x2="868" y2="1587.6" stroke="#000" stroke-width="2" />
<text x="858.4" y="1593.3" font-size="16" text-anchor="end" fill="#111">0.5</text>
<line x1="861.3" y1="1616.2" x2="868" y2="1616.2" stroke="#000" stroke-width="2" />
<text x="858.4" y="1621.9" font-size="16" text-anchor="end" fill="#111">0</text>
<line x1="861.3" y1="1644.8" x2="868" y2="1644.8" stroke="#000" stroke-width="2" />
<text x="858.4" y="1650.5" font-size="16" text-anchor="end" fill="#111">-0.5</text>
<line x1="861.3" y1="1673.4" x2="868" y2="1673.4" stroke="#000" stroke-width="2" />
<text x="858.4" y="1679.1" font-size="16" text-anchor="end" fill="#111">-1</text>
<text x="938" y="1539.3" font-size="23.5" text-anchor="middle" font-weight="bold">Wnt3</text>
<rect x="1050.2" y="1545.4" width="140.5" height="141.6" fill="#fff" stroke="#000" stroke-width="2.2" />
<rect x="1060.5" y="1610" width="31.2" height="46.37" fill="#e80000" stroke="#000" stroke-width="2" />
<rect x="1104.4" y="1610" width="31.2" height="70.74" fill="#44b444" stroke="#000" stroke-width="2" />
<rect x="1148.4" y="1552.23" width="31.2" height="57.77" fill="#3b9bff" stroke="#000" stroke-width="2" />
<line x1="1050.2" y1="1610" x2="1190.7" y2="1610" stroke="#000" stroke-width="2.2" />
<line x1="1043.5" y1="1570.7" x2="1050.2" y2="1570.7" stroke="#000" stroke-width="2" />
<text x="1040.6" y="1576.4" font-size="16" text-anchor="end" fill="#111">1</text>
<line x1="1043.5" y1="1610" x2="1050.2" y2="1610" stroke="#000" stroke-width="2" />
<text x="1040.6" y="1615.7" font-size="16" text-anchor="end" fill="#111">0</text>
<line x1="1043.5" y1="1649.3" x2="1050.2" y2="1649.3" stroke="#000" stroke-width="2" />
<text x="1040.6" y="1655" font-size="16" text-anchor="end" fill="#111">-1</text>
<text x="1120.2" y="1539.3" font-size="23.5" text-anchor="middle" font-weight="bold">Wnt8a</text>
<text font-size="16" text-anchor="middle" transform="translate(426,1069.2) rotate(-90)">log<tspan font-size="12" dy="7">2</tspan><tspan dy="-7">(Fold Change)</tspan></text>
<text font-size="16" text-anchor="middle" transform="translate(426,1253.7) rotate(-90)">log<tspan font-size="12" dy="7">2</tspan><tspan dy="-7">(Fold Change)</tspan></text>
<text font-size="16" text-anchor="middle" transform="translate(426,1435) rotate(-90)">log<tspan font-size="12" dy="7">2</tspan><tspan dy="-7">(Fold Change)</tspan></text>
<text font-size="16" text-anchor="middle" transform="translate(823.5,1253.3) rotate(-90)">log<tspan font-size="12" dy="7">2</tspan><tspan dy="-7">(Fold Change)</tspan></text>
<text font-size="16" text-anchor="middle" transform="translate(823.5,1435) rotate(-90)">log<tspan font-size="12" dy="7">2</tspan><tspan dy="-7">(Fold Change)</tspan></text>
<text font-size="16" text-anchor="middle" transform="translate(426,1617.3) rotate(-90)">log<tspan font-size="12" dy="7">2</tspan><tspan dy="-7">(Fold Change)</tspan></text>
<text font-size="16" text-anchor="middle" transform="translate(823.5,1617) rotate(-90)">log<tspan font-size="12" dy="7">2</tspan><tspan dy="-7">(Fold Change)</tspan></text>
<rect x="821" y="1010.5" width="18.3" height="18.3" fill="#ff0000" />
<text x="850.6" y="1027.1" font-size="24" textLength="289" lengthAdjust="spacingAndGlyphs">Hypoxia vs Normoxia (WT)</text>
<rect x="821" y="1051.2" width="18.3" height="18.3" fill="#00c800" />
<text x="850.6" y="1069.8" font-size="24" textLength="342.5" lengthAdjust="spacingAndGlyphs">Hypoxia vs Normoxia (shHif-1<tspan font-family="Liberation Serif">&#945;</tspan>)</text>
<rect x="821" y="1091.8" width="18.3" height="18.3" fill="#3d9dff" />
<text x="849.6" y="1111.8" font-size="24" textLength="223.5" lengthAdjust="spacingAndGlyphs">OE-Hif-1<tspan font-family="Liberation Serif">&#945;</tspan> vs Control</text>
</svg></body></html>
